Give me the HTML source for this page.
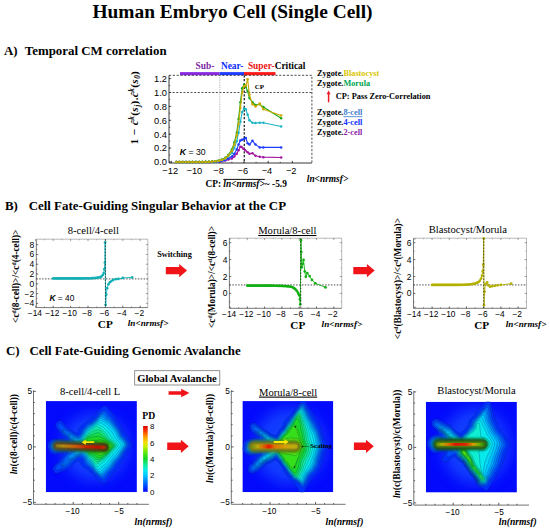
<!DOCTYPE html>
<html lang="en"><head><meta charset="utf-8"><title>Human Embryo Cell (Single Cell)</title>
<style>html,body{margin:0;padding:0;background:#fff}svg{display:block}.se{font-family:"Liberation Serif", serif}.sa{font-family:"Liberation Sans", sans-serif}</style></head><body>
<svg width="550" height="530" viewBox="0 0 550 530">
<rect width="550" height="530" fill="#fff"/>
<text class="se" x="232.50" y="17.80" font-size="19.4" font-weight="bold" font-style="normal" text-anchor="middle" fill="#000" >Human Embryo Cell (Single Cell)</text>
<text class="se" x="4.00" y="55.30" font-size="12.9" font-weight="bold" font-style="normal" text-anchor="start" fill="#000" >A)</text>
<text class="se" x="24.80" y="55.30" font-size="12.9" font-weight="bold" font-style="normal" text-anchor="start" fill="#000" >Temporal CM correlation</text>
<rect x="180" y="72.1" width="39.6" height="3.1" fill="#8a2be2"/>
<rect x="219.6" y="72.1" width="24.4" height="3.1" fill="#1f3cff"/>
<rect x="244" y="72.1" width="31.5" height="3.1" fill="#ff1a1a"/>
<text class="se" x="195.50" y="69.00" font-size="9.4" font-weight="bold" font-style="normal" text-anchor="start" fill="#7b1fa2" >Sub-</text>
<text class="se" x="220.90" y="69.00" font-size="9.4" font-weight="bold" font-style="normal" text-anchor="start" fill="#0a2cff" >Near-</text>
<text class="se" x="247.9" y="69.0" font-size="9.4" font-weight="bold"><tspan fill="#ee1111">Super-</tspan>Critical</text>
<path d="M169.0,75.3 V163.0 H311.9" fill="none" stroke="#222" stroke-width="0.9"/>
<path d="M169.0,75.3 H311.9 V163.0" fill="none" stroke="#222" stroke-width="0.8" stroke-dasharray="2.2 1.6"/>
<line x1="169.0" x2="311.9" y1="92.50" y2="92.50" stroke="#222" stroke-width="0.8" stroke-dasharray="2 1.6"/>
<line x1="219.80" x2="219.80" y1="75.3" y2="163.0" stroke="#777" stroke-width="0.6" stroke-dasharray="0.8 0.9"/>
<line x1="244.24" x2="244.24" y1="75.3" y2="163.0" stroke="#000" stroke-width="1.1" stroke-dasharray="2.2 1.6"/>
<path d="M171.40,163.0 v-2.2 M195.60,163.0 v-2.2 M219.80,163.0 v-2.2 M244.00,163.0 v-2.2 M268.20,163.0 v-2.2 M292.40,163.0 v-2.2 M171.40,163.0 v-1.2 M183.50,163.0 v-1.2 M195.60,163.0 v-1.2 M207.70,163.0 v-1.2 M219.80,163.0 v-1.2 M231.90,163.0 v-1.2 M244.00,163.0 v-1.2 M256.10,163.0 v-1.2 M268.20,163.0 v-1.2 M280.30,163.0 v-1.2 M292.40,163.0 v-1.2 M169.0,162.00 h2.2 M169.0,148.10 h2.2 M169.0,134.20 h2.2 M169.0,120.30 h2.2 M169.0,106.40 h2.2 M169.0,92.50 h2.2 M169.0,78.60 h2.2 M169.0,162.00 h1.2 M169.0,155.05 h1.2 M169.0,148.10 h1.2 M169.0,141.15 h1.2 M169.0,134.20 h1.2 M169.0,127.25 h1.2 M169.0,120.30 h1.2 M169.0,113.35 h1.2 M169.0,106.40 h1.2 M169.0,99.45 h1.2 M169.0,92.50 h1.2 M169.0,85.55 h1.2 M169.0,78.60 h1.2" stroke="#222" stroke-width="0.7" fill="none"/>
<text class="sa" x="170.20" y="173.60" font-size="9.3" font-weight="normal" font-style="normal" text-anchor="middle" fill="#000" >−12</text>
<text class="sa" x="194.40" y="173.60" font-size="9.3" font-weight="normal" font-style="normal" text-anchor="middle" fill="#000" >−10</text>
<text class="sa" x="218.60" y="173.60" font-size="9.3" font-weight="normal" font-style="normal" text-anchor="middle" fill="#000" >−8</text>
<text class="sa" x="242.80" y="173.60" font-size="9.3" font-weight="normal" font-style="normal" text-anchor="middle" fill="#000" >−6</text>
<text class="sa" x="267.00" y="173.60" font-size="9.3" font-weight="normal" font-style="normal" text-anchor="middle" fill="#000" >−4</text>
<text class="sa" x="291.20" y="173.60" font-size="9.3" font-weight="normal" font-style="normal" text-anchor="middle" fill="#000" >−2</text>
<text class="sa" x="167.00" y="165.30" font-size="9.3" font-weight="normal" font-style="normal" text-anchor="end" fill="#000" >0.0</text>
<text class="sa" x="167.00" y="151.40" font-size="9.3" font-weight="normal" font-style="normal" text-anchor="end" fill="#000" >0.2</text>
<text class="sa" x="167.00" y="137.50" font-size="9.3" font-weight="normal" font-style="normal" text-anchor="end" fill="#000" >0.4</text>
<text class="sa" x="167.00" y="123.60" font-size="9.3" font-weight="normal" font-style="normal" text-anchor="end" fill="#000" >0.6</text>
<text class="sa" x="167.00" y="109.70" font-size="9.3" font-weight="normal" font-style="normal" text-anchor="end" fill="#000" >0.8</text>
<text class="sa" x="167.00" y="95.80" font-size="9.3" font-weight="normal" font-style="normal" text-anchor="end" fill="#000" >1.0</text>
<text class="sa" x="167.00" y="81.90" font-size="9.3" font-weight="normal" font-style="normal" text-anchor="end" fill="#000" >1.2</text>
<polyline points="176.24,162.00 179.51,162.00 182.77,162.00 186.04,162.00 189.31,162.00 192.57,162.00 195.84,161.99 199.11,161.99 202.38,161.98 205.64,161.96 208.91,161.93 212.18,161.87 215.44,161.76 218.71,161.57 221.98,161.23 225.24,160.60 228.27,159.57 231.90,158.53 234.32,156.44 236.74,153.66 238.56,150.19 240.37,146.71 241.58,147.06 243.40,148.79 245.21,150.19 247.63,152.27 249.44,153.66 252.47,153.31 255.50,155.75 259.73,156.79 263.36,157.13 281.15,157.48" fill="none" stroke="#a0149f" stroke-width="1.1" stroke-linejoin="round"/>
<g fill="#a0149f"><circle cx="176.24" cy="162.00" r="1.25"/><circle cx="179.51" cy="162.00" r="1.25"/><circle cx="182.77" cy="162.00" r="1.25"/><circle cx="186.04" cy="162.00" r="1.25"/><circle cx="189.31" cy="162.00" r="1.25"/><circle cx="192.57" cy="162.00" r="1.25"/><circle cx="195.84" cy="161.99" r="1.25"/><circle cx="199.11" cy="161.99" r="1.25"/><circle cx="202.38" cy="161.98" r="1.25"/><circle cx="205.64" cy="161.96" r="1.25"/><circle cx="208.91" cy="161.93" r="1.25"/><circle cx="212.18" cy="161.87" r="1.25"/><circle cx="215.44" cy="161.76" r="1.25"/><circle cx="218.71" cy="161.57" r="1.25"/><circle cx="221.98" cy="161.23" r="1.25"/><circle cx="225.24" cy="160.60" r="1.25"/><circle cx="228.27" cy="159.57" r="1.25"/><circle cx="231.90" cy="158.53" r="1.25"/><circle cx="234.32" cy="156.44" r="1.25"/><circle cx="236.74" cy="153.66" r="1.25"/><circle cx="238.56" cy="150.19" r="1.25"/><circle cx="240.37" cy="146.71" r="1.25"/><circle cx="241.58" cy="147.06" r="1.25"/><circle cx="243.40" cy="148.79" r="1.25"/><circle cx="245.21" cy="150.19" r="1.25"/><circle cx="247.63" cy="152.27" r="1.25"/><circle cx="249.44" cy="153.66" r="1.25"/><circle cx="252.47" cy="153.31" r="1.25"/><circle cx="255.50" cy="155.75" r="1.25"/><circle cx="259.73" cy="156.79" r="1.25"/><circle cx="263.36" cy="157.13" r="1.25"/><circle cx="281.15" cy="157.48" r="1.25"/></g>
<polyline points="176.24,162.00 179.51,162.00 182.77,162.00 186.04,162.00 189.31,162.00 192.57,161.99 195.84,161.99 199.11,161.98 202.38,161.97 205.64,161.94 208.91,161.90 212.18,161.81 215.44,161.66 218.71,161.39 221.98,160.89 225.24,160.00 228.27,158.53 231.90,156.44 234.32,153.66 236.74,149.49 238.56,144.62 240.37,140.46 242.19,139.76 244.00,139.06 245.81,138.02 247.63,143.24 249.44,144.62 252.47,140.80 255.50,144.62 259.73,147.41 263.36,147.41 281.15,147.41" fill="none" stroke="#1f3cff" stroke-width="1.1" stroke-linejoin="round"/>
<g fill="#1f3cff"><circle cx="176.24" cy="162.00" r="1.25"/><circle cx="179.51" cy="162.00" r="1.25"/><circle cx="182.77" cy="162.00" r="1.25"/><circle cx="186.04" cy="162.00" r="1.25"/><circle cx="189.31" cy="162.00" r="1.25"/><circle cx="192.57" cy="161.99" r="1.25"/><circle cx="195.84" cy="161.99" r="1.25"/><circle cx="199.11" cy="161.98" r="1.25"/><circle cx="202.38" cy="161.97" r="1.25"/><circle cx="205.64" cy="161.94" r="1.25"/><circle cx="208.91" cy="161.90" r="1.25"/><circle cx="212.18" cy="161.81" r="1.25"/><circle cx="215.44" cy="161.66" r="1.25"/><circle cx="218.71" cy="161.39" r="1.25"/><circle cx="221.98" cy="160.89" r="1.25"/><circle cx="225.24" cy="160.00" r="1.25"/><circle cx="228.27" cy="158.53" r="1.25"/><circle cx="231.90" cy="156.44" r="1.25"/><circle cx="234.32" cy="153.66" r="1.25"/><circle cx="236.74" cy="149.49" r="1.25"/><circle cx="238.56" cy="144.62" r="1.25"/><circle cx="240.37" cy="140.46" r="1.25"/><circle cx="242.19" cy="139.76" r="1.25"/><circle cx="244.00" cy="139.06" r="1.25"/><circle cx="245.81" cy="138.02" r="1.25"/><circle cx="247.63" cy="143.24" r="1.25"/><circle cx="249.44" cy="144.62" r="1.25"/><circle cx="252.47" cy="140.80" r="1.25"/><circle cx="255.50" cy="144.62" r="1.25"/><circle cx="259.73" cy="147.41" r="1.25"/><circle cx="263.36" cy="147.41" r="1.25"/><circle cx="281.15" cy="147.41" r="1.25"/></g>
<polyline points="176.24,162.00 179.51,162.00 182.77,162.00 186.04,162.00 189.31,162.00 192.57,161.99 195.84,161.98 199.11,161.97 202.38,161.95 205.64,161.91 208.91,161.84 212.18,161.70 215.44,161.46 218.71,161.02 221.98,160.23 225.24,158.79 228.27,156.44 231.90,152.97 234.32,148.10 236.74,141.15 238.56,132.81 240.37,121.69 242.19,111.96 244.00,108.48 245.81,109.18 247.63,114.74 249.44,120.30 252.47,122.73 255.50,123.08 259.73,122.73 263.36,122.73 281.15,126.56" fill="none" stroke="#19b5c5" stroke-width="1.1" stroke-linejoin="round"/>
<g fill="#19b5c5"><circle cx="176.24" cy="162.00" r="1.25"/><circle cx="179.51" cy="162.00" r="1.25"/><circle cx="182.77" cy="162.00" r="1.25"/><circle cx="186.04" cy="162.00" r="1.25"/><circle cx="189.31" cy="162.00" r="1.25"/><circle cx="192.57" cy="161.99" r="1.25"/><circle cx="195.84" cy="161.98" r="1.25"/><circle cx="199.11" cy="161.97" r="1.25"/><circle cx="202.38" cy="161.95" r="1.25"/><circle cx="205.64" cy="161.91" r="1.25"/><circle cx="208.91" cy="161.84" r="1.25"/><circle cx="212.18" cy="161.70" r="1.25"/><circle cx="215.44" cy="161.46" r="1.25"/><circle cx="218.71" cy="161.02" r="1.25"/><circle cx="221.98" cy="160.23" r="1.25"/><circle cx="225.24" cy="158.79" r="1.25"/><circle cx="228.27" cy="156.44" r="1.25"/><circle cx="231.90" cy="152.97" r="1.25"/><circle cx="234.32" cy="148.10" r="1.25"/><circle cx="236.74" cy="141.15" r="1.25"/><circle cx="238.56" cy="132.81" r="1.25"/><circle cx="240.37" cy="121.69" r="1.25"/><circle cx="242.19" cy="111.96" r="1.25"/><circle cx="244.00" cy="108.48" r="1.25"/><circle cx="245.81" cy="109.18" r="1.25"/><circle cx="247.63" cy="114.74" r="1.25"/><circle cx="249.44" cy="120.30" r="1.25"/><circle cx="252.47" cy="122.73" r="1.25"/><circle cx="255.50" cy="123.08" r="1.25"/><circle cx="259.73" cy="122.73" r="1.25"/><circle cx="263.36" cy="122.73" r="1.25"/><circle cx="281.15" cy="126.56" r="1.25"/></g>
<polyline points="176.24,162.00 179.51,162.00 182.77,162.00 186.04,161.99 189.31,161.99 192.57,161.98 195.84,161.97 199.11,161.94 202.38,161.90 205.64,161.83 208.91,161.72 212.18,161.51 215.44,161.17 218.71,160.57 221.98,159.54 225.24,157.78 228.27,155.05 231.90,149.49 234.32,142.54 236.74,132.81 238.56,118.91 240.37,102.23 242.19,88.33 244.00,84.85 245.81,86.94 247.63,91.11 249.44,98.06 252.47,102.23 255.50,105.01 259.73,104.31 263.36,107.09 281.15,118.22" fill="none" stroke="#1aa81a" stroke-width="1.1" stroke-linejoin="round"/>
<g fill="#1aa81a"><circle cx="176.24" cy="162.00" r="1.25"/><circle cx="179.51" cy="162.00" r="1.25"/><circle cx="182.77" cy="162.00" r="1.25"/><circle cx="186.04" cy="161.99" r="1.25"/><circle cx="189.31" cy="161.99" r="1.25"/><circle cx="192.57" cy="161.98" r="1.25"/><circle cx="195.84" cy="161.97" r="1.25"/><circle cx="199.11" cy="161.94" r="1.25"/><circle cx="202.38" cy="161.90" r="1.25"/><circle cx="205.64" cy="161.83" r="1.25"/><circle cx="208.91" cy="161.72" r="1.25"/><circle cx="212.18" cy="161.51" r="1.25"/><circle cx="215.44" cy="161.17" r="1.25"/><circle cx="218.71" cy="160.57" r="1.25"/><circle cx="221.98" cy="159.54" r="1.25"/><circle cx="225.24" cy="157.78" r="1.25"/><circle cx="228.27" cy="155.05" r="1.25"/><circle cx="231.90" cy="149.49" r="1.25"/><circle cx="234.32" cy="142.54" r="1.25"/><circle cx="236.74" cy="132.81" r="1.25"/><circle cx="238.56" cy="118.91" r="1.25"/><circle cx="240.37" cy="102.23" r="1.25"/><circle cx="242.19" cy="88.33" r="1.25"/><circle cx="244.00" cy="84.85" r="1.25"/><circle cx="245.81" cy="86.94" r="1.25"/><circle cx="247.63" cy="91.11" r="1.25"/><circle cx="249.44" cy="98.06" r="1.25"/><circle cx="252.47" cy="102.23" r="1.25"/><circle cx="255.50" cy="105.01" r="1.25"/><circle cx="259.73" cy="104.31" r="1.25"/><circle cx="263.36" cy="107.09" r="1.25"/><circle cx="281.15" cy="118.22" r="1.25"/></g>
<polyline points="176.24,162.00 179.51,162.00 182.77,162.00 186.04,162.00 189.31,161.99 192.57,161.99 195.84,161.98 199.11,161.96 202.38,161.93 205.64,161.88 208.91,161.78 212.18,161.62 215.44,161.32 218.71,160.81 221.98,159.90 225.24,158.30 228.27,155.75 231.90,150.88 234.32,144.62 236.74,135.59 238.56,123.78 240.37,107.79 242.19,92.50 244.00,86.24 245.81,85.55 247.63,79.30 249.44,94.59 252.47,104.31 255.50,106.40 259.73,103.62 263.36,109.18 281.15,115.44" fill="none" stroke="#c9a800" stroke-width="1.1" stroke-linejoin="round"/>
<g fill="#c9a800"><circle cx="176.24" cy="162.00" r="1.25"/><circle cx="179.51" cy="162.00" r="1.25"/><circle cx="182.77" cy="162.00" r="1.25"/><circle cx="186.04" cy="162.00" r="1.25"/><circle cx="189.31" cy="161.99" r="1.25"/><circle cx="192.57" cy="161.99" r="1.25"/><circle cx="195.84" cy="161.98" r="1.25"/><circle cx="199.11" cy="161.96" r="1.25"/><circle cx="202.38" cy="161.93" r="1.25"/><circle cx="205.64" cy="161.88" r="1.25"/><circle cx="208.91" cy="161.78" r="1.25"/><circle cx="212.18" cy="161.62" r="1.25"/><circle cx="215.44" cy="161.32" r="1.25"/><circle cx="218.71" cy="160.81" r="1.25"/><circle cx="221.98" cy="159.90" r="1.25"/><circle cx="225.24" cy="158.30" r="1.25"/><circle cx="228.27" cy="155.75" r="1.25"/><circle cx="231.90" cy="150.88" r="1.25"/><circle cx="234.32" cy="144.62" r="1.25"/><circle cx="236.74" cy="135.59" r="1.25"/><circle cx="238.56" cy="123.78" r="1.25"/><circle cx="240.37" cy="107.79" r="1.25"/><circle cx="242.19" cy="92.50" r="1.25"/><circle cx="244.00" cy="86.24" r="1.25"/><circle cx="245.81" cy="85.55" r="1.25"/><circle cx="247.63" cy="79.30" r="1.25"/><circle cx="249.44" cy="94.59" r="1.25"/><circle cx="252.47" cy="104.31" r="1.25"/><circle cx="255.50" cy="106.40" r="1.25"/><circle cx="259.73" cy="103.62" r="1.25"/><circle cx="263.36" cy="109.18" r="1.25"/><circle cx="281.15" cy="115.44" r="1.25"/></g>
<text class="se" x="254.80" y="89.00" font-size="7.0" font-weight="bold" font-style="normal" text-anchor="start" fill="#000" >CP</text>
<text class="sa" x="179.8" y="155.2" font-size="8.7"><tspan font-weight="bold" font-style="italic">K</tspan> = 30</text>
<text class="se" transform="translate(138.2,107.6) rotate(-90)" font-size="11.4" font-weight="bold" font-style="italic" text-anchor="middle" letter-spacing="0.35"><tspan font-style="normal">1 − </tspan>ĉ<tspan font-size="7.2" dy="-4">k</tspan><tspan dy="4" font-style="normal">(</tspan>s<tspan font-size="7.2" dy="2.2">j</tspan><tspan dy="-2.2" font-style="normal">).</tspan>ĉ<tspan font-size="7.2" dy="-4">k</tspan><tspan dy="4" font-style="normal">(</tspan>s<tspan font-size="7.2" dy="2.2">0</tspan><tspan dy="-2.2" font-style="normal">)</tspan></text>
<text class="se" x="205.4" y="186.9" font-size="9.4" font-weight="bold">CP: <tspan font-style="italic" text-decoration="overline">ln&lt;nrmsf&gt;</tspan>~ -5.9</text>
<text class="se" x="306.80" y="181.60" font-size="9.4" font-weight="bold" font-style="italic" text-anchor="start" fill="#000" >ln&lt;nrmsf&gt;</text>
<text class="se" x="316.9" y="76.0" font-size="8.3" font-weight="bold">Zygote.<tspan fill="#d9c400">Blastocyst</tspan></text>
<text class="se" x="316.9" y="85.6" font-size="8.3" font-weight="bold">Zygote.<tspan fill="#00a651">Morula</tspan></text>
<text class="se" x="316.9" y="115.3" font-size="8.3" font-weight="bold">Zygote.<tspan fill="#3f7fd0" text-decoration="underline">8-cell</tspan></text>
<text class="se" x="316.9" y="125.2" font-size="8.3" font-weight="bold">Zygote.<tspan fill="#1030ff">4-cell</tspan></text>
<text class="se" x="316.9" y="135.0" font-size="8.3" font-weight="bold">Zygote.<tspan fill="#8e24aa">2-cell</tspan></text>
<path d="M328.6,102.3 V92.6" stroke="#ee1c25" stroke-width="1.5" fill="none"/><polygon points="326.6,94.2 328.6,90.6 330.6,94.2" fill="#ee1c25"/>
<text class="se" x="335.80" y="99.30" font-size="8.3" font-weight="bold" font-style="normal" text-anchor="start" fill="#000" >CP: Pass Zero-Correlation</text>
<text class="se" x="5.00" y="209.50" font-size="12.9" font-weight="bold" font-style="normal" text-anchor="start" fill="#000" >B)</text>
<text class="se" x="28.70" y="209.50" font-size="12.9" font-weight="bold" font-style="normal" text-anchor="start" fill="#000" >Cell Fate-Guiding Singular Behavior at the CP</text>
<path d="M36.3,239.2 H147.8 V307.6" fill="none" stroke="#8c8c8c" stroke-width="0.6"/>
<path d="M36.3,239.2 V307.6 H147.8" fill="none" stroke="#555" stroke-width="0.8"/>
<line x1="36.3" x2="147.8" y1="278.91" y2="278.91" stroke="#222" stroke-width="0.8" stroke-dasharray="1.5 1.4"/>
<path d="M35.80,307.6 v-2 M53.20,307.6 v-2 M70.60,307.6 v-2 M88.00,307.6 v-2 M105.40,307.6 v-2 M122.80,307.6 v-2 M140.20,307.6 v-2 M35.80,307.6 v-1.1 M44.50,307.6 v-1.1 M53.20,307.6 v-1.1 M61.90,307.6 v-1.1 M70.60,307.6 v-1.1 M79.30,307.6 v-1.1 M88.00,307.6 v-1.1 M96.70,307.6 v-1.1 M105.40,307.6 v-1.1 M114.10,307.6 v-1.1 M122.80,307.6 v-1.1 M131.50,307.6 v-1.1 M140.20,307.6 v-1.1 M36.3,303.36 h2 M36.3,293.58 h2 M36.3,283.80 h2 M36.3,274.02 h2 M36.3,264.24 h2 M36.3,254.46 h2 M36.3,244.68 h2 M36.3,303.36 h1.1 M36.3,298.47 h1.1 M36.3,293.58 h1.1 M36.3,288.69 h1.1 M36.3,283.80 h1.1 M36.3,278.91 h1.1 M36.3,274.02 h1.1 M36.3,269.13 h1.1 M36.3,264.24 h1.1 M36.3,259.35 h1.1 M36.3,254.46 h1.1 M36.3,249.57 h1.1 M36.3,244.68 h1.1" stroke="#444" stroke-width="0.6" fill="none"/>
<path d="M35.80,239.2 v2 M53.20,239.2 v2 M70.60,239.2 v2 M88.00,239.2 v2 M105.40,239.2 v2 M122.80,239.2 v2 M140.20,239.2 v2 M35.80,239.2 v1.1 M44.50,239.2 v1.1 M53.20,239.2 v1.1 M61.90,239.2 v1.1 M70.60,239.2 v1.1 M79.30,239.2 v1.1 M88.00,239.2 v1.1 M96.70,239.2 v1.1 M105.40,239.2 v1.1 M114.10,239.2 v1.1 M122.80,239.2 v1.1 M131.50,239.2 v1.1 M140.20,239.2 v1.1 M147.8,303.36 h-2 M147.8,293.58 h-2 M147.8,283.80 h-2 M147.8,274.02 h-2 M147.8,264.24 h-2 M147.8,254.46 h-2 M147.8,244.68 h-2 M147.8,303.36 h-1.1 M147.8,298.47 h-1.1 M147.8,293.58 h-1.1 M147.8,288.69 h-1.1 M147.8,283.80 h-1.1 M147.8,278.91 h-1.1 M147.8,274.02 h-1.1 M147.8,269.13 h-1.1 M147.8,264.24 h-1.1 M147.8,259.35 h-1.1 M147.8,254.46 h-1.1 M147.8,249.57 h-1.1 M147.8,244.68 h-1.1" stroke="#777" stroke-width="0.55" fill="none"/>
<text class="sa" x="34.90" y="316.20" font-size="8.4" font-weight="normal" font-style="normal" text-anchor="middle" fill="#000" >−14</text>
<text class="sa" x="52.30" y="316.20" font-size="8.4" font-weight="normal" font-style="normal" text-anchor="middle" fill="#000" >−12</text>
<text class="sa" x="69.70" y="316.20" font-size="8.4" font-weight="normal" font-style="normal" text-anchor="middle" fill="#000" >−10</text>
<text class="sa" x="87.10" y="316.20" font-size="8.4" font-weight="normal" font-style="normal" text-anchor="middle" fill="#000" >−8</text>
<text class="sa" x="104.50" y="316.20" font-size="8.4" font-weight="normal" font-style="normal" text-anchor="middle" fill="#000" >−6</text>
<text class="sa" x="121.90" y="316.20" font-size="8.4" font-weight="normal" font-style="normal" text-anchor="middle" fill="#000" >−4</text>
<text class="sa" x="139.30" y="316.20" font-size="8.4" font-weight="normal" font-style="normal" text-anchor="middle" fill="#000" >−2</text>
<text class="sa" x="34.30" y="306.36" font-size="8.5" font-weight="normal" font-style="normal" text-anchor="end" fill="#000" >−4</text>
<text class="sa" x="34.30" y="296.58" font-size="8.5" font-weight="normal" font-style="normal" text-anchor="end" fill="#000" >−2</text>
<text class="sa" x="34.30" y="286.80" font-size="8.5" font-weight="normal" font-style="normal" text-anchor="end" fill="#000" >0</text>
<text class="sa" x="34.30" y="277.02" font-size="8.5" font-weight="normal" font-style="normal" text-anchor="end" fill="#000" >2</text>
<text class="sa" x="34.30" y="267.24" font-size="8.5" font-weight="normal" font-style="normal" text-anchor="end" fill="#000" >4</text>
<text class="sa" x="34.30" y="257.46" font-size="8.5" font-weight="normal" font-style="normal" text-anchor="end" fill="#000" >6</text>
<text class="sa" x="34.30" y="247.68" font-size="8.5" font-weight="normal" font-style="normal" text-anchor="end" fill="#000" >8</text>
<text class="se" x="93.30" y="233.70" font-size="10.6" font-weight="normal" font-style="normal" text-anchor="middle" fill="#000" >8-cell/4-cell</text>
<polyline points="53.20,278.42 54.51,278.42 55.81,278.42 57.12,278.42 58.42,278.42 59.73,278.42 61.03,278.42 62.34,278.42 63.64,278.42 64.95,278.42 66.25,278.42 67.56,278.42 68.86,278.42 70.17,278.42 71.47,278.42 72.78,278.42 74.08,278.42 75.39,278.41 76.69,278.41 78.00,278.41 79.30,278.40 80.61,278.40 81.91,278.39 83.22,278.38 84.52,278.37 85.83,278.36 87.13,278.34 88.44,278.31 89.74,278.28 91.05,278.24 92.35,278.18 93.66,278.10 94.96,278.01 96.27,277.88 97.57,277.71 98.88,277.49 100.18,277.20 101.48,276.47 102.79,275.00 103.66,273.04 104.36,269.13 104.88,262.77 105.14,242.24 105.66,304.83 106.27,294.56 107.14,288.20 108.45,284.29 109.75,282.33 111.49,281.11 113.23,279.89 115.84,279.15 118.45,278.91 122.80,277.93 132.11,277.44" fill="none" stroke="#12b0b4" stroke-width="0.9" stroke-linejoin="round"/>
<g fill="#12b0b4"><circle cx="53.20" cy="278.42" r="1.35"/><circle cx="54.51" cy="278.42" r="1.35"/><circle cx="55.81" cy="278.42" r="1.35"/><circle cx="57.12" cy="278.42" r="1.35"/><circle cx="58.42" cy="278.42" r="1.35"/><circle cx="59.73" cy="278.42" r="1.35"/><circle cx="61.03" cy="278.42" r="1.35"/><circle cx="62.34" cy="278.42" r="1.35"/><circle cx="63.64" cy="278.42" r="1.35"/><circle cx="64.95" cy="278.42" r="1.35"/><circle cx="66.25" cy="278.42" r="1.35"/><circle cx="67.56" cy="278.42" r="1.35"/><circle cx="68.86" cy="278.42" r="1.35"/><circle cx="70.17" cy="278.42" r="1.35"/><circle cx="71.47" cy="278.42" r="1.35"/><circle cx="72.78" cy="278.42" r="1.35"/><circle cx="74.08" cy="278.42" r="1.35"/><circle cx="75.39" cy="278.41" r="1.35"/><circle cx="76.69" cy="278.41" r="1.35"/><circle cx="78.00" cy="278.41" r="1.35"/><circle cx="79.30" cy="278.40" r="1.35"/><circle cx="80.61" cy="278.40" r="1.35"/><circle cx="81.91" cy="278.39" r="1.35"/><circle cx="83.22" cy="278.38" r="1.35"/><circle cx="84.52" cy="278.37" r="1.35"/><circle cx="85.83" cy="278.36" r="1.35"/><circle cx="87.13" cy="278.34" r="1.35"/><circle cx="88.44" cy="278.31" r="1.35"/><circle cx="89.74" cy="278.28" r="1.35"/><circle cx="91.05" cy="278.24" r="1.35"/><circle cx="92.35" cy="278.18" r="1.35"/><circle cx="93.66" cy="278.10" r="1.35"/><circle cx="94.96" cy="278.01" r="1.35"/><circle cx="96.27" cy="277.88" r="1.35"/><circle cx="97.57" cy="277.71" r="1.35"/><circle cx="98.88" cy="277.49" r="1.35"/><circle cx="100.18" cy="277.20" r="1.35"/><circle cx="101.48" cy="276.47" r="1.35"/><circle cx="102.79" cy="275.00" r="1.35"/><circle cx="103.66" cy="273.04" r="1.35"/><circle cx="104.36" cy="269.13" r="1.35"/><circle cx="104.88" cy="262.77" r="1.35"/><circle cx="105.14" cy="242.24" r="1.35"/><circle cx="105.66" cy="304.83" r="1.35"/><circle cx="106.27" cy="294.56" r="1.35"/><circle cx="107.14" cy="288.20" r="1.35"/><circle cx="108.45" cy="284.29" r="1.35"/><circle cx="109.75" cy="282.33" r="1.35"/><circle cx="111.49" cy="281.11" r="1.35"/><circle cx="113.23" cy="279.89" r="1.35"/><circle cx="115.84" cy="279.15" r="1.35"/><circle cx="118.45" cy="278.91" r="1.35"/><circle cx="122.80" cy="277.93" r="1.35"/><circle cx="132.11" cy="277.44" r="1.35"/></g>
<line x1="105.40" x2="105.40" y1="239.2" y2="307.6" stroke="#1a1a1a" stroke-width="0.7" stroke-dasharray="1.6 1.5"/>
<text class="se" x="105.30" y="328.00" font-size="11.2" font-weight="bold" font-style="normal" text-anchor="middle" fill="#000" >CP</text>
<text class="se" x="127.80" y="325.60" font-size="9.2" font-weight="bold" font-style="italic" text-anchor="start" fill="#000" >ln&lt;nrmsf&gt;</text>
<text class="se" transform="translate(18.80,276.30) rotate(-90)" font-size="9.3" font-weight="bold" text-anchor="middle">&lt;c<tspan font-size="5.8" dy="-3.1">d</tspan><tspan dy="3.1">(8-cell)&gt;/&lt;c</tspan><tspan font-size="5.8" dy="-3.1">d</tspan><tspan dy="3.1">(4-cell)&gt;</tspan></text>
<text class="sa" x="49.4" y="301.4" font-size="8.4"><tspan font-weight="bold" font-style="italic">K</tspan> = 40</text>
<path d="M229.4,238.2 H341.7 V308.3" fill="none" stroke="#8c8c8c" stroke-width="0.6"/>
<path d="M229.4,238.2 V308.3 H341.7" fill="none" stroke="#555" stroke-width="0.8"/>
<line x1="229.4" x2="341.7" y1="284.95" y2="284.95" stroke="#222" stroke-width="0.8" stroke-dasharray="1.5 1.4"/>
<path d="M230.00,308.3 v-2 M247.30,308.3 v-2 M264.60,308.3 v-2 M281.90,308.3 v-2 M299.20,308.3 v-2 M316.50,308.3 v-2 M333.80,308.3 v-2 M230.00,308.3 v-1.1 M238.65,308.3 v-1.1 M247.30,308.3 v-1.1 M255.95,308.3 v-1.1 M264.60,308.3 v-1.1 M273.25,308.3 v-1.1 M281.90,308.3 v-1.1 M290.55,308.3 v-1.1 M299.20,308.3 v-1.1 M307.85,308.3 v-1.1 M316.50,308.3 v-1.1 M325.15,308.3 v-1.1 M333.80,308.3 v-1.1 M229.4,293.40 h2 M229.4,276.50 h2 M229.4,259.60 h2 M229.4,242.70 h2 M229.4,301.85 h1.1 M229.4,293.40 h1.1 M229.4,284.95 h1.1 M229.4,276.50 h1.1 M229.4,268.05 h1.1 M229.4,259.60 h1.1 M229.4,251.15 h1.1 M229.4,242.70 h1.1" stroke="#444" stroke-width="0.6" fill="none"/>
<path d="M230.00,238.2 v2 M247.30,238.2 v2 M264.60,238.2 v2 M281.90,238.2 v2 M299.20,238.2 v2 M316.50,238.2 v2 M333.80,238.2 v2 M230.00,238.2 v1.1 M238.65,238.2 v1.1 M247.30,238.2 v1.1 M255.95,238.2 v1.1 M264.60,238.2 v1.1 M273.25,238.2 v1.1 M281.90,238.2 v1.1 M290.55,238.2 v1.1 M299.20,238.2 v1.1 M307.85,238.2 v1.1 M316.50,238.2 v1.1 M325.15,238.2 v1.1 M333.80,238.2 v1.1 M341.7,293.40 h-2 M341.7,276.50 h-2 M341.7,259.60 h-2 M341.7,242.70 h-2 M341.7,301.85 h-1.1 M341.7,293.40 h-1.1 M341.7,284.95 h-1.1 M341.7,276.50 h-1.1 M341.7,268.05 h-1.1 M341.7,259.60 h-1.1 M341.7,251.15 h-1.1 M341.7,242.70 h-1.1" stroke="#777" stroke-width="0.55" fill="none"/>
<text class="sa" x="229.10" y="316.90" font-size="8.4" font-weight="normal" font-style="normal" text-anchor="middle" fill="#000" >−14</text>
<text class="sa" x="246.40" y="316.90" font-size="8.4" font-weight="normal" font-style="normal" text-anchor="middle" fill="#000" >−12</text>
<text class="sa" x="263.70" y="316.90" font-size="8.4" font-weight="normal" font-style="normal" text-anchor="middle" fill="#000" >−10</text>
<text class="sa" x="281.00" y="316.90" font-size="8.4" font-weight="normal" font-style="normal" text-anchor="middle" fill="#000" >−8</text>
<text class="sa" x="298.30" y="316.90" font-size="8.4" font-weight="normal" font-style="normal" text-anchor="middle" fill="#000" >−6</text>
<text class="sa" x="315.60" y="316.90" font-size="8.4" font-weight="normal" font-style="normal" text-anchor="middle" fill="#000" >−4</text>
<text class="sa" x="332.90" y="316.90" font-size="8.4" font-weight="normal" font-style="normal" text-anchor="middle" fill="#000" >−2</text>
<text class="sa" x="227.40" y="296.40" font-size="8.5" font-weight="normal" font-style="normal" text-anchor="end" fill="#000" >0</text>
<text class="sa" x="227.40" y="279.50" font-size="8.5" font-weight="normal" font-style="normal" text-anchor="end" fill="#000" >2</text>
<text class="sa" x="227.40" y="262.60" font-size="8.5" font-weight="normal" font-style="normal" text-anchor="end" fill="#000" >4</text>
<text class="sa" x="227.40" y="245.70" font-size="8.5" font-weight="normal" font-style="normal" text-anchor="end" fill="#000" >6</text>
<text class="se" x="287.30" y="234.00" font-size="10.6" font-weight="normal" font-style="normal" text-anchor="middle" fill="#000"  text-decoration="underline">Morula/8-cell</text>
<polyline points="247.30,285.63 248.60,285.63 249.89,285.63 251.19,285.63 252.49,285.63 253.79,285.63 255.09,285.63 256.38,285.64 257.68,285.64 258.98,285.64 260.28,285.64 261.57,285.64 262.87,285.65 264.17,285.65 265.47,285.66 266.76,285.66 268.06,285.67 269.36,285.68 270.66,285.69 271.95,285.71 273.25,285.72 274.55,285.74 275.85,285.76 277.14,285.79 278.44,285.82 279.74,285.86 281.04,285.91 282.33,285.96 283.63,286.03 284.93,286.11 286.23,286.20 287.52,286.32 288.82,286.45 290.12,286.61 291.42,286.81 292.71,287.32 294.01,288.16 295.31,289.17 296.61,290.70 297.90,292.55 298.77,294.25 299.37,295.43 299.89,299.31 300.24,304.38 300.93,240.16 301.28,251.99 301.71,267.46 302.66,263.82 303.52,259.94 304.74,271.43 305.77,276.84 307.33,273.12 309.58,276.08 312.00,279.88 315.29,283.26 325.50,287.40" fill="none" stroke="#10b010" stroke-width="0.9" stroke-linejoin="round"/>
<g fill="#10b010"><circle cx="247.30" cy="285.63" r="1.35"/><circle cx="248.60" cy="285.63" r="1.35"/><circle cx="249.89" cy="285.63" r="1.35"/><circle cx="251.19" cy="285.63" r="1.35"/><circle cx="252.49" cy="285.63" r="1.35"/><circle cx="253.79" cy="285.63" r="1.35"/><circle cx="255.09" cy="285.63" r="1.35"/><circle cx="256.38" cy="285.64" r="1.35"/><circle cx="257.68" cy="285.64" r="1.35"/><circle cx="258.98" cy="285.64" r="1.35"/><circle cx="260.28" cy="285.64" r="1.35"/><circle cx="261.57" cy="285.64" r="1.35"/><circle cx="262.87" cy="285.65" r="1.35"/><circle cx="264.17" cy="285.65" r="1.35"/><circle cx="265.47" cy="285.66" r="1.35"/><circle cx="266.76" cy="285.66" r="1.35"/><circle cx="268.06" cy="285.67" r="1.35"/><circle cx="269.36" cy="285.68" r="1.35"/><circle cx="270.66" cy="285.69" r="1.35"/><circle cx="271.95" cy="285.71" r="1.35"/><circle cx="273.25" cy="285.72" r="1.35"/><circle cx="274.55" cy="285.74" r="1.35"/><circle cx="275.85" cy="285.76" r="1.35"/><circle cx="277.14" cy="285.79" r="1.35"/><circle cx="278.44" cy="285.82" r="1.35"/><circle cx="279.74" cy="285.86" r="1.35"/><circle cx="281.04" cy="285.91" r="1.35"/><circle cx="282.33" cy="285.96" r="1.35"/><circle cx="283.63" cy="286.03" r="1.35"/><circle cx="284.93" cy="286.11" r="1.35"/><circle cx="286.23" cy="286.20" r="1.35"/><circle cx="287.52" cy="286.32" r="1.35"/><circle cx="288.82" cy="286.45" r="1.35"/><circle cx="290.12" cy="286.61" r="1.35"/><circle cx="291.42" cy="286.81" r="1.35"/><circle cx="292.71" cy="287.32" r="1.35"/><circle cx="294.01" cy="288.16" r="1.35"/><circle cx="295.31" cy="289.17" r="1.35"/><circle cx="296.61" cy="290.70" r="1.35"/><circle cx="297.90" cy="292.55" r="1.35"/><circle cx="298.77" cy="294.25" r="1.35"/><circle cx="299.37" cy="295.43" r="1.35"/><circle cx="299.89" cy="299.31" r="1.35"/><circle cx="300.24" cy="304.38" r="1.35"/><circle cx="300.93" cy="240.16" r="1.35"/><circle cx="301.28" cy="251.99" r="1.35"/><circle cx="301.71" cy="267.46" r="1.35"/><circle cx="302.66" cy="263.82" r="1.35"/><circle cx="303.52" cy="259.94" r="1.35"/><circle cx="304.74" cy="271.43" r="1.35"/><circle cx="305.77" cy="276.84" r="1.35"/><circle cx="307.33" cy="273.12" r="1.35"/><circle cx="309.58" cy="276.08" r="1.35"/><circle cx="312.00" cy="279.88" r="1.35"/><circle cx="315.29" cy="283.26" r="1.35"/><circle cx="325.50" cy="287.40" r="1.35"/></g>
<line x1="300.76" x2="300.76" y1="238.2" y2="308.3" stroke="#1a1a1a" stroke-width="0.7" stroke-dasharray="1.6 1.5"/>
<text class="se" x="297.80" y="329.00" font-size="11.2" font-weight="bold" font-style="normal" text-anchor="middle" fill="#000" >CP</text>
<text class="se" x="321.60" y="327.30" font-size="9.2" font-weight="bold" font-style="italic" text-anchor="start" fill="#000" >ln&lt;nrmsf&gt;</text>
<text class="se" transform="translate(214.60,277.00) rotate(-90)" font-size="9.3" font-weight="bold" text-anchor="middle">&lt;c<tspan font-size="5.8" dy="-3.1">d</tspan><tspan dy="3.1">(Morula)&gt;/&lt;c</tspan><tspan font-size="5.8" dy="-3.1">d</tspan><tspan dy="3.1">(8-cell)&gt;</tspan></text>
<path d="M413.5,238.2 H526.5 V308.3" fill="none" stroke="#8c8c8c" stroke-width="0.6"/>
<path d="M413.5,238.2 V308.3 H526.5" fill="none" stroke="#555" stroke-width="0.8"/>
<line x1="413.5" x2="526.5" y1="284.95" y2="284.95" stroke="#222" stroke-width="0.8" stroke-dasharray="1.5 1.4"/>
<path d="M414.90,308.3 v-2 M432.10,308.3 v-2 M449.30,308.3 v-2 M466.50,308.3 v-2 M483.70,308.3 v-2 M500.90,308.3 v-2 M518.10,308.3 v-2 M414.90,308.3 v-1.1 M423.50,308.3 v-1.1 M432.10,308.3 v-1.1 M440.70,308.3 v-1.1 M449.30,308.3 v-1.1 M457.90,308.3 v-1.1 M466.50,308.3 v-1.1 M475.10,308.3 v-1.1 M483.70,308.3 v-1.1 M492.30,308.3 v-1.1 M500.90,308.3 v-1.1 M509.50,308.3 v-1.1 M518.10,308.3 v-1.1 M413.5,293.40 h2 M413.5,276.50 h2 M413.5,259.60 h2 M413.5,242.70 h2 M413.5,301.85 h1.1 M413.5,293.40 h1.1 M413.5,284.95 h1.1 M413.5,276.50 h1.1 M413.5,268.05 h1.1 M413.5,259.60 h1.1 M413.5,251.15 h1.1 M413.5,242.70 h1.1" stroke="#444" stroke-width="0.6" fill="none"/>
<path d="M414.90,238.2 v2 M432.10,238.2 v2 M449.30,238.2 v2 M466.50,238.2 v2 M483.70,238.2 v2 M500.90,238.2 v2 M518.10,238.2 v2 M414.90,238.2 v1.1 M423.50,238.2 v1.1 M432.10,238.2 v1.1 M440.70,238.2 v1.1 M449.30,238.2 v1.1 M457.90,238.2 v1.1 M466.50,238.2 v1.1 M475.10,238.2 v1.1 M483.70,238.2 v1.1 M492.30,238.2 v1.1 M500.90,238.2 v1.1 M509.50,238.2 v1.1 M518.10,238.2 v1.1 M526.5,293.40 h-2 M526.5,276.50 h-2 M526.5,259.60 h-2 M526.5,242.70 h-2 M526.5,301.85 h-1.1 M526.5,293.40 h-1.1 M526.5,284.95 h-1.1 M526.5,276.50 h-1.1 M526.5,268.05 h-1.1 M526.5,259.60 h-1.1 M526.5,251.15 h-1.1 M526.5,242.70 h-1.1" stroke="#777" stroke-width="0.55" fill="none"/>
<text class="sa" x="414.00" y="316.90" font-size="8.4" font-weight="normal" font-style="normal" text-anchor="middle" fill="#000" >−14</text>
<text class="sa" x="431.20" y="316.90" font-size="8.4" font-weight="normal" font-style="normal" text-anchor="middle" fill="#000" >−12</text>
<text class="sa" x="448.40" y="316.90" font-size="8.4" font-weight="normal" font-style="normal" text-anchor="middle" fill="#000" >−10</text>
<text class="sa" x="465.60" y="316.90" font-size="8.4" font-weight="normal" font-style="normal" text-anchor="middle" fill="#000" >−8</text>
<text class="sa" x="482.80" y="316.90" font-size="8.4" font-weight="normal" font-style="normal" text-anchor="middle" fill="#000" >−6</text>
<text class="sa" x="500.00" y="316.90" font-size="8.4" font-weight="normal" font-style="normal" text-anchor="middle" fill="#000" >−4</text>
<text class="sa" x="517.20" y="316.90" font-size="8.4" font-weight="normal" font-style="normal" text-anchor="middle" fill="#000" >−2</text>
<text class="sa" x="411.50" y="296.40" font-size="8.5" font-weight="normal" font-style="normal" text-anchor="end" fill="#000" >0</text>
<text class="sa" x="411.50" y="279.50" font-size="8.5" font-weight="normal" font-style="normal" text-anchor="end" fill="#000" >2</text>
<text class="sa" x="411.50" y="262.60" font-size="8.5" font-weight="normal" font-style="normal" text-anchor="end" fill="#000" >4</text>
<text class="sa" x="411.50" y="245.70" font-size="8.5" font-weight="normal" font-style="normal" text-anchor="end" fill="#000" >6</text>
<text class="se" x="467.90" y="233.00" font-size="10.6" font-weight="normal" font-style="normal" text-anchor="middle" fill="#000" >Blastocyst/Morula</text>
<polyline points="432.10,284.95 433.39,284.95 434.68,284.95 435.97,284.95 437.26,284.95 438.55,284.95 439.84,284.95 441.13,284.95 442.42,284.95 443.71,284.94 445.00,284.94 446.29,284.94 447.58,284.94 448.87,284.94 450.16,284.93 451.45,284.93 452.74,284.92 454.03,284.91 455.32,284.90 456.61,284.89 457.90,284.88 459.19,284.86 460.48,284.84 461.77,284.81 463.06,284.77 464.35,284.73 465.64,284.67 466.93,284.60 468.22,284.51 469.51,284.40 470.80,284.26 472.09,284.09 473.38,283.87 474.67,283.60 475.96,283.26 477.25,282.67 478.54,281.99 479.83,280.72 481.12,278.61 481.98,275.65 482.67,271.43 483.27,264.67 483.70,238.47 484.04,305.23 484.56,291.71 485.42,284.10 487.14,282.41 488.43,285.37 490.15,286.64 492.30,286.22 494.88,285.79 497.46,285.37 500.90,284.95 511.22,283.68" fill="none" stroke="#b4b000" stroke-width="0.9" stroke-linejoin="round"/>
<g fill="#b4b000"><circle cx="432.10" cy="284.95" r="1.35"/><circle cx="433.39" cy="284.95" r="1.35"/><circle cx="434.68" cy="284.95" r="1.35"/><circle cx="435.97" cy="284.95" r="1.35"/><circle cx="437.26" cy="284.95" r="1.35"/><circle cx="438.55" cy="284.95" r="1.35"/><circle cx="439.84" cy="284.95" r="1.35"/><circle cx="441.13" cy="284.95" r="1.35"/><circle cx="442.42" cy="284.95" r="1.35"/><circle cx="443.71" cy="284.94" r="1.35"/><circle cx="445.00" cy="284.94" r="1.35"/><circle cx="446.29" cy="284.94" r="1.35"/><circle cx="447.58" cy="284.94" r="1.35"/><circle cx="448.87" cy="284.94" r="1.35"/><circle cx="450.16" cy="284.93" r="1.35"/><circle cx="451.45" cy="284.93" r="1.35"/><circle cx="452.74" cy="284.92" r="1.35"/><circle cx="454.03" cy="284.91" r="1.35"/><circle cx="455.32" cy="284.90" r="1.35"/><circle cx="456.61" cy="284.89" r="1.35"/><circle cx="457.90" cy="284.88" r="1.35"/><circle cx="459.19" cy="284.86" r="1.35"/><circle cx="460.48" cy="284.84" r="1.35"/><circle cx="461.77" cy="284.81" r="1.35"/><circle cx="463.06" cy="284.77" r="1.35"/><circle cx="464.35" cy="284.73" r="1.35"/><circle cx="465.64" cy="284.67" r="1.35"/><circle cx="466.93" cy="284.60" r="1.35"/><circle cx="468.22" cy="284.51" r="1.35"/><circle cx="469.51" cy="284.40" r="1.35"/><circle cx="470.80" cy="284.26" r="1.35"/><circle cx="472.09" cy="284.09" r="1.35"/><circle cx="473.38" cy="283.87" r="1.35"/><circle cx="474.67" cy="283.60" r="1.35"/><circle cx="475.96" cy="283.26" r="1.35"/><circle cx="477.25" cy="282.67" r="1.35"/><circle cx="478.54" cy="281.99" r="1.35"/><circle cx="479.83" cy="280.72" r="1.35"/><circle cx="481.12" cy="278.61" r="1.35"/><circle cx="481.98" cy="275.65" r="1.35"/><circle cx="482.67" cy="271.43" r="1.35"/><circle cx="483.27" cy="264.67" r="1.35"/><circle cx="483.70" cy="238.47" r="1.35"/><circle cx="484.04" cy="305.23" r="1.35"/><circle cx="484.56" cy="291.71" r="1.35"/><circle cx="485.42" cy="284.10" r="1.35"/><circle cx="487.14" cy="282.41" r="1.35"/><circle cx="488.43" cy="285.37" r="1.35"/><circle cx="490.15" cy="286.64" r="1.35"/><circle cx="492.30" cy="286.22" r="1.35"/><circle cx="494.88" cy="285.79" r="1.35"/><circle cx="497.46" cy="285.37" r="1.35"/><circle cx="500.90" cy="284.95" r="1.35"/><circle cx="511.22" cy="283.68" r="1.35"/></g>
<line x1="483.70" x2="483.70" y1="238.2" y2="308.3" stroke="#1a1a1a" stroke-width="0.7" stroke-dasharray="1.6 1.5"/>
<text class="se" x="481.60" y="329.00" font-size="11.2" font-weight="bold" font-style="normal" text-anchor="middle" fill="#000" >CP</text>
<text class="se" x="505.80" y="327.30" font-size="9.2" font-weight="bold" font-style="italic" text-anchor="start" fill="#000" >ln&lt;nrmsf&gt;</text>
<text class="se" transform="translate(401.10,278.60) rotate(-90)" font-size="9.3" font-weight="bold" text-anchor="middle">&lt;c<tspan font-size="5.8" dy="-3.1">d</tspan><tspan dy="3.1">(Blastocyst)&gt;/&lt;c</tspan><tspan font-size="5.8" dy="-3.1">d</tspan><tspan dy="3.1">(Morula)&gt;</tspan></text>
<text class="se" x="157.20" y="256.50" font-size="8.2" font-weight="bold" font-style="normal" text-anchor="start" fill="#000" >Switching</text>
<polygon fill="#f01418" points="165.80,266.95 179.20,266.95 179.20,263.90 187.00,270.60 179.20,277.30 179.20,274.25 165.80,274.25"/>
<polygon fill="#f01418" points="353.30,266.95 366.90,266.95 366.90,263.90 374.70,270.60 366.90,277.30 366.90,274.25 353.30,274.25"/>
<defs><filter id="hblur" x="-5%" y="-5%" width="110%" height="110%"><feGaussianBlur stdDeviation="0.55"/></filter><filter id="bblur" x="-20%" y="-60%" width="140%" height="220%"><feGaussianBlur stdDeviation="0.9"/></filter><filter id="gblur" x="-40%" y="-40%" width="180%" height="180%"><feGaussianBlur stdDeviation="7"/></filter><filter id="cblur" x="-10%" y="-60%" width="120%" height="220%"><feGaussianBlur stdDeviation="0.65"/></filter></defs>
<text class="se" x="6.00" y="355.40" font-size="12.9" font-weight="bold" font-style="normal" text-anchor="start" fill="#000" >C)</text>
<text class="se" x="29.40" y="355.40" font-size="12.9" font-weight="bold" font-style="normal" text-anchor="start" fill="#000" >Cell Fate-Guiding Genomic Avalanche</text>
<rect x="134.7" y="370.7" width="85.1" height="14.3" fill="#fff" stroke="#777" stroke-width="0.8"/>
<text class="se" x="137.20" y="381.70" font-size="10.6" font-weight="bold" font-style="normal" text-anchor="start" fill="#000" >Global Avalanche</text>
<polygon fill="#f01418" points="168.60,391.30 181.20,391.30 181.20,388.70 189.40,393.00 181.20,397.30 181.20,394.70 168.60,394.70"/>
<polygon fill="#f01418" points="167.20,442.60 180.90,442.60 180.90,439.70 188.70,446.30 180.90,452.90 180.90,450.00 167.20,450.00"/>
<polygon fill="#f01418" points="353.90,442.60 366.00,442.60 366.00,439.70 373.80,446.30 366.00,452.90 366.00,450.00 353.90,450.00"/>
<path d="M33.5,390.2 V504.3 H148.9" fill="none" stroke="#444" stroke-width="0.75"/>
<path d="M45.90,504.3 v-1.3 M55.00,504.3 v-1.3 M64.10,504.3 v-1.3 M73.20,504.3 v-2.4 M82.30,504.3 v-1.3 M91.40,504.3 v-1.3 M100.50,504.3 v-1.3 M109.60,504.3 v-1.3 M118.70,504.3 v-2.4 M127.80,504.3 v-1.3 M136.90,504.3 v-1.3 M33.5,502.40 h2.4 M33.5,491.30 h1.3 M33.5,480.20 h1.3 M33.5,469.10 h1.3 M33.5,458.00 h1.3 M33.5,446.90 h2.4 M33.5,435.80 h1.3 M33.5,424.70 h1.3 M33.5,413.60 h1.3 M33.5,402.50 h1.3 M33.5,391.40 h2.4" stroke="#222" stroke-width="0.7" fill="none"/>
<text class="sa" x="72.60" y="513.70" font-size="8.3" font-weight="normal" font-style="normal" text-anchor="middle" fill="#000" >−10</text>
<text class="sa" x="119.10" y="513.70" font-size="8.3" font-weight="normal" font-style="normal" text-anchor="middle" fill="#000" >−5</text>
<text class="sa" x="32.10" y="394.40" font-size="8.3" font-weight="normal" font-style="normal" text-anchor="end" fill="#000" >5</text>
<text class="sa" x="32.10" y="449.90" font-size="8.3" font-weight="normal" font-style="normal" text-anchor="end" fill="#000" >0</text>
<text class="sa" x="32.10" y="505.40" font-size="8.3" font-weight="normal" font-style="normal" text-anchor="end" fill="#000" >−5</text>
<clipPath id="hc1"><rect x="45.75" y="401.1" width="91.15" height="91.20"/></clipPath>
<g clip-path="url(#hc1)">
<rect x="45.75" y="401.1" width="91.15" height="91.20" fill="#040afc"/>
<ellipse cx="95" cy="447" rx="34" ry="34" fill="#1650ff" opacity="0.75" filter="url(#gblur)"/>
<g fill-rule="evenodd" stroke="#052a52" stroke-opacity="0.62" stroke-width="0.42" stroke-linejoin="round"><path fill="#0130fe" d="M103.8 406.1 105.0 406.0 105.6 406.4 106.4 406.9 107.1 407.5 107.8 408.1 108.3 408.7 108.7 409.3 109.2 409.9 109.9 410.5 110.4 411.1 111.0 411.9 111.6 412.6 112.2 413.4 112.7 414.1 113.3 414.7 113.7 415.3 114.1 415.9 114.6 416.5 115.2 417.4 115.6 418.3 116.0 418.9 116.4 419.7 116.9 420.7 117.4 421.3 118.0 421.9 118.3 422.5 118.8 423.1 119.4 423.9 120.0 424.8 120.5 425.5 120.8 426.1 121.2 426.9 121.7 427.9 122.1 428.5 122.4 429.1 122.8 430.3 123.2 430.9 123.6 431.7 124.1 432.7 124.7 433.3 125.2 433.9 125.8 434.5 126.4 435.1 127.0 435.7 127.4 436.3 127.8 436.9 128.4 437.7 128.9 438.7 129.3 439.3 129.5 440.5 130.0 441.1 130.2 441.8 130.7 442.9 131.1 443.5 131.4 444.2 131.8 445.3 131.5 446.5 131.2 447.1 130.7 447.7 130.1 448.3 129.5 448.9 129.0 449.9 128.4 450.6 128.0 451.3 127.6 451.9 127.1 452.5 126.6 453.6 126.2 454.3 125.8 454.9 125.3 455.5 124.8 456.7 124.5 457.3 124.1 457.9 123.6 459.0 123.0 459.7 122.6 460.3 122.2 460.9 121.6 461.5 121.1 462.1 120.5 462.7 120.0 463.7 119.6 464.5 119.3 465.1 118.8 466.1 118.2 466.8 117.9 467.5 117.3 468.1 116.9 468.7 116.4 469.5 115.8 470.2 115.2 470.9 114.6 471.5 114.0 472.2 113.4 472.8 112.8 473.4 112.2 474.1 111.9 474.7 111.3 475.3 110.8 475.9 110.3 476.5 109.8 477.4 109.2 478.2 108.6 478.9 108.2 479.5 107.8 480.1 107.3 480.7 106.8 481.5 106.2 482.1 105.6 482.6 104.4 483.0 103.2 482.9 102.2 482.5 101.4 482.1 100.8 481.7 100.0 481.3 99.0 480.7 98.4 480.2 97.8 479.7 97.2 479.1 96.6 478.4 96.0 477.7 95.6 477.1 94.8 476.5 94.8 475.9 94.2 475.3 93.3 474.7 92.7 474.1 91.8 473.5 91.2 473.2 90.6 472.7 90.0 472.2 89.4 471.6 88.8 471.0 88.2 470.4 87.5 469.9 86.6 469.3 85.8 468.7 85.2 468.2 84.6 467.7 84.0 467.2 83.4 466.7 82.8 466.1 82.2 465.4 81.6 464.7 81.0 463.9 80.5 463.3 80.1 462.7 79.6 462.1 79.2 461.4 78.0 460.9 77.9 460.9 76.8 461.3 76.2 461.7 75.5 462.1 74.8 462.7 74.2 463.3 73.6 463.9 73.1 464.5 72.5 465.1 72.0 465.8 71.3 466.3 70.6 466.9 69.8 467.5 69.0 468.0 68.4 468.4 67.8 468.8 66.7 469.3 66.0 469.7 65.4 470.0 64.2 470.5 63.6 470.7 62.4 471.0 61.8 471.3 60.6 471.7 60.0 472.0 59.3 472.3 58.2 472.9 57.6 473.2 56.4 473.3 55.3 472.9 54.6 472.3 54.1 471.7 53.6 471.1 53.4 470.3 53.0 469.3 53.1 468.1 53.4 467.5 54.0 466.3 54.5 465.7 55.0 465.1 55.6 464.5 56.4 463.9 57.0 463.4 57.6 462.8 58.2 462.3 58.8 461.7 59.4 461.0 59.8 460.3 60.2 459.7 60.6 459.1 61.2 458.3 61.8 457.4 62.3 456.7 62.7 456.1 63.2 455.5 63.6 454.9 63.9 453.7 63.0 453.2 62.4 453.1 61.7 453.1 60.6 453.3 59.4 453.7 58.8 453.7 57.6 453.9 56.4 454.1 55.2 454.3 54.0 454.2 52.9 453.7 52.2 453.5 51.6 453.1 50.6 452.5 50.0 451.9 49.6 451.3 49.2 450.4 48.7 449.5 48.6 448.8 48.0 447.7 47.9 447.1 47.7 445.9 48.0 444.7 48.1 444.1 48.6 443.3 48.9 442.3 49.2 441.7 49.8 441.0 50.4 440.5 51.3 439.9 52.2 439.6 53.4 439.4 54.6 439.3 55.8 439.3 56.4 439.3 57.3 439.3 58.1 439.3 58.8 439.2 60.0 439.1 61.2 439.0 62.4 438.9 63.6 438.8 64.8 438.7 65.0 438.1 64.6 437.5 63.8 436.9 63.0 436.3 62.4 435.9 61.8 435.2 61.2 434.5 60.9 433.9 60.6 433.2 60.0 432.6 59.4 431.7 58.8 430.9 58.3 430.3 57.8 429.7 57.4 429.1 57.0 428.4 56.4 427.7 55.8 426.7 55.6 426.1 55.5 424.9 55.8 423.9 56.1 423.1 56.7 422.5 57.4 421.9 58.2 421.4 58.8 421.0 60.0 420.7 61.2 420.8 62.0 421.3 62.6 421.9 63.0 422.5 63.6 423.2 64.2 424.0 64.8 424.7 65.4 425.4 66.0 426.0 66.6 426.6 67.1 427.3 67.8 427.8 68.4 428.3 69.0 428.7 69.6 429.2 70.4 429.7 71.2 430.3 72.0 430.7 72.6 431.1 73.2 431.6 74.1 432.1 75.0 432.5 75.6 432.8 76.8 432.8 77.4 432.4 78.0 431.7 78.2 430.9 78.6 430.3 78.9 429.1 79.3 428.5 79.8 427.6 80.4 426.9 81.0 426.2 81.6 425.6 82.2 425.0 82.8 424.5 83.4 423.9 84.0 423.4 84.6 422.9 85.2 422.5 85.9 421.9 86.6 421.3 87.6 420.7 88.2 420.3 88.8 420.1 89.7 419.5 90.6 418.9 91.2 418.3 91.8 417.8 92.4 417.2 93.0 416.7 93.6 416.3 94.4 415.9 95.2 415.3 95.7 414.7 96.1 414.1 96.6 413.3 97.2 412.4 97.8 411.7 98.4 411.1 99.0 410.6 99.6 410.0 100.2 409.4 100.8 408.8 101.4 408.3 102.0 407.7 102.6 407.2 103.2 406.6Z"/><path fill="#004dff" d="M103.8 410.4 105.0 410.2 105.7 410.5 106.4 411.1 107.0 411.7 107.4 412.3 108.0 413.0 108.6 413.8 109.2 414.6 109.7 415.3 110.1 415.9 110.7 416.5 111.2 417.1 111.8 417.7 112.3 418.3 112.8 419.0 113.4 419.9 113.9 420.7 114.3 421.3 114.7 421.9 115.2 422.5 115.8 423.4 116.3 424.3 116.8 424.9 117.2 425.5 117.6 426.1 118.2 426.9 118.8 427.8 119.2 428.5 119.6 429.1 120.0 429.8 120.5 430.9 120.8 431.5 121.2 432.2 121.6 433.3 121.9 433.9 122.4 434.6 123.0 435.4 123.6 436.0 124.2 436.7 124.8 437.4 125.3 438.1 125.8 438.7 126.2 439.3 126.6 439.9 127.2 441.0 127.5 441.7 127.8 442.3 128.4 443.4 128.6 444.1 128.8 445.3 128.4 446.5 128.1 447.1 127.6 447.7 127.2 448.3 126.6 449.2 126.0 450.1 125.5 450.7 125.1 451.3 124.7 451.9 124.2 452.9 123.7 453.7 123.4 454.3 123.0 455.2 122.4 456.1 122.1 456.7 121.6 457.3 121.2 457.9 120.6 458.7 120.0 459.5 119.4 460.2 118.8 460.9 118.4 461.5 117.9 462.1 117.5 462.7 117.0 463.3 116.4 464.1 115.8 464.9 115.2 465.7 114.9 466.3 114.5 466.9 114.0 467.7 113.4 468.6 112.8 469.3 112.3 469.9 111.8 470.5 111.3 471.1 110.7 471.7 110.2 472.3 109.7 472.9 109.2 473.5 108.6 474.3 108.0 475.0 107.4 475.7 106.8 476.5 106.3 477.1 105.9 477.7 105.5 478.3 105.0 479.0 104.4 479.5 103.2 479.7 102.6 479.4 101.6 478.9 100.8 478.3 100.2 478.0 99.6 477.6 98.9 477.1 98.1 476.5 97.4 475.9 96.8 475.3 96.2 474.7 95.4 474.1 94.8 473.6 94.2 473.1 93.6 472.5 93.0 471.8 92.4 471.1 92.0 470.5 91.6 469.9 91.1 469.3 90.5 468.7 89.8 468.1 88.9 467.5 88.2 467.1 87.6 466.7 87.0 466.2 86.3 465.7 85.6 465.1 85.0 464.5 84.5 463.9 84.0 462.7 83.7 462.1 83.4 460.9 83.1 460.3 82.8 459.5 82.2 458.6 81.6 458.0 81.0 457.6 79.8 457.5 78.6 457.9 78.0 458.2 77.4 458.6 76.6 459.1 75.8 459.7 75.0 460.3 74.4 460.8 73.8 461.2 73.2 461.8 72.6 462.3 72.0 462.9 71.4 463.5 70.8 464.1 70.2 464.7 69.6 465.3 69.0 465.7 68.1 466.3 67.2 466.8 66.6 467.1 65.8 467.5 64.8 468.1 64.2 468.3 63.0 468.7 62.4 468.8 61.2 469.0 60.1 469.3 59.4 469.6 58.4 469.9 57.6 470.1 56.4 469.9 55.9 469.3 55.7 468.7 55.8 468.1 56.1 466.9 56.4 466.3 57.0 465.6 57.6 464.9 58.2 464.5 59.0 463.9 59.8 463.3 60.4 462.7 61.0 462.1 61.5 461.5 62.0 460.9 62.4 460.3 63.0 459.3 63.3 458.5 63.6 457.9 64.2 457.2 64.8 456.5 65.4 455.7 66.0 454.9 66.4 454.3 66.9 453.7 67.4 453.1 67.8 452.5 67.8 451.9 66.6 451.5 65.4 451.3 64.2 451.3 63.0 451.4 61.8 451.4 60.6 451.4 59.4 451.6 58.2 451.8 57.3 451.9 56.4 452.0 55.2 452.2 54.0 452.0 53.4 451.8 52.4 451.3 51.7 450.7 51.1 450.1 50.7 449.5 50.3 448.9 49.8 447.8 49.5 447.1 49.4 445.9 49.7 444.7 49.9 444.1 50.4 443.3 51.0 442.5 51.6 441.9 52.2 441.5 53.4 441.1 54.0 441.1 54.6 441.1 55.8 441.2 57.0 441.3 58.2 441.3 59.4 441.1 60.0 441.0 61.2 440.9 62.4 441.0 63.3 441.1 64.0 441.1 64.8 441.0 66.0 440.9 67.2 440.7 67.8 440.4 68.3 439.3 67.8 438.2 67.2 437.5 66.6 436.9 66.0 436.4 65.4 436.0 64.8 435.6 64.1 435.1 63.3 434.5 62.8 433.9 62.4 433.3 61.8 432.3 61.2 431.5 60.8 430.9 60.4 430.3 60.0 429.6 59.4 428.5 59.0 427.9 58.7 427.3 58.2 426.2 58.0 425.5 58.2 424.8 58.8 424.0 59.4 423.7 60.1 423.7 61.2 424.3 61.8 424.7 62.4 425.3 63.0 425.8 63.6 426.4 64.2 426.9 64.8 427.4 65.4 428.0 66.0 428.5 66.7 429.1 67.5 429.7 68.4 430.2 69.0 430.6 69.6 430.9 70.4 431.5 71.3 432.1 72.0 432.5 72.6 432.9 73.2 433.3 74.1 433.9 75.0 434.3 75.6 434.6 76.8 435.1 77.4 435.2 78.6 435.1 79.2 434.7 79.8 434.0 80.3 433.3 80.6 432.7 81.0 432.1 81.3 430.9 81.6 430.2 82.2 429.2 82.8 428.5 83.4 428.0 84.0 427.4 84.6 426.8 85.2 426.1 85.7 425.5 86.2 424.9 86.8 424.3 87.5 423.7 88.2 423.2 88.8 422.9 89.8 422.5 90.6 422.2 91.2 421.9 92.0 421.3 92.8 420.7 93.4 420.1 94.1 419.5 94.8 418.9 95.4 418.4 96.0 417.8 96.6 417.2 97.2 416.6 97.6 415.9 98.0 415.3 98.4 414.7 99.0 413.9 99.6 413.3 100.2 412.8 100.9 412.3 101.7 411.7 102.5 411.1 103.2 410.7Z"/><path fill="#006bff" d="M103.2 412.8 104.4 412.6 105.0 412.9 105.6 413.5 106.2 414.4 106.8 415.1 107.4 415.8 107.9 416.5 108.5 417.1 109.2 417.7 109.8 418.2 110.4 418.8 110.9 419.5 111.4 420.1 111.8 420.7 112.3 421.3 112.8 422.0 113.4 422.8 114.0 423.5 114.6 424.3 115.0 424.9 115.5 425.5 116.0 426.1 116.4 426.7 117.0 427.5 117.6 428.4 118.0 429.1 118.4 429.7 118.8 430.3 119.4 431.4 119.7 432.1 120.0 432.7 120.5 433.9 120.7 434.5 121.2 435.3 121.8 436.2 122.3 436.9 122.9 437.5 123.5 438.1 124.1 438.7 124.6 439.3 125.0 439.9 125.4 440.5 126.0 441.4 126.5 442.3 126.8 442.9 127.2 443.9 127.3 444.7 127.2 445.7 126.8 446.5 126.4 447.1 126.0 447.8 125.4 448.7 124.9 449.5 124.5 450.1 124.1 450.7 123.6 451.5 123.0 452.5 122.6 453.1 122.2 453.7 121.8 454.6 121.2 455.5 120.8 456.1 120.4 456.7 120.0 457.3 119.4 458.1 118.8 458.8 118.2 459.5 117.6 460.1 117.0 460.8 116.4 461.5 115.9 462.1 115.4 462.7 115.0 463.3 114.6 464.0 114.0 465.0 113.5 465.7 113.1 466.3 112.6 466.9 112.1 467.5 111.6 468.2 111.0 468.9 110.4 469.7 109.8 470.4 109.2 471.1 108.6 471.7 108.0 472.3 107.4 472.9 106.8 473.5 106.3 474.1 105.8 474.7 105.3 475.3 104.8 475.9 104.3 476.5 103.8 477.1 102.6 477.6 101.4 477.2 100.8 476.9 100.1 476.5 99.2 475.9 98.4 475.3 97.8 474.7 97.2 474.2 96.6 473.7 96.0 473.2 95.4 472.7 94.8 472.1 94.2 471.4 93.6 470.6 93.1 469.9 92.7 469.3 92.2 468.7 91.7 468.1 91.0 467.5 90.3 466.9 89.5 466.3 88.8 465.8 88.2 465.3 87.6 464.7 87.0 464.2 86.4 463.5 85.8 462.7 85.5 462.1 85.2 461.3 84.8 460.3 84.5 459.7 84.0 458.5 83.6 457.9 83.1 457.3 82.6 456.7 81.8 456.1 81.0 455.7 79.8 455.8 79.0 456.1 78.0 456.7 77.4 457.0 76.8 457.4 75.9 457.9 75.1 458.5 74.4 459.0 73.8 459.4 73.2 459.8 72.3 460.3 71.4 460.9 70.8 461.4 70.2 461.9 69.6 462.5 69.0 463.0 68.4 463.5 67.8 464.0 67.0 464.5 66.0 465.1 65.4 465.4 64.8 465.7 63.6 466.0 62.4 465.8 62.0 465.1 62.3 463.9 62.6 463.3 63.0 462.7 63.6 461.9 64.2 460.9 64.5 460.3 64.8 459.6 65.3 458.5 65.6 457.9 66.0 457.3 66.6 456.5 67.2 455.7 67.8 455.0 68.4 454.4 69.0 453.9 69.6 453.5 70.2 453.1 71.0 452.5 71.7 451.9 72.1 451.3 72.0 450.5 71.2 450.1 70.2 449.9 69.0 449.9 67.8 449.9 66.6 450.0 65.4 450.0 64.2 450.0 63.0 450.0 61.8 450.0 60.6 450.0 59.4 450.0 58.2 450.1 57.6 450.2 56.4 450.3 55.2 450.4 54.0 450.2 53.4 449.9 52.8 449.4 52.2 448.8 51.6 448.0 51.1 447.1 50.9 446.5 51.0 445.5 51.2 444.7 51.6 444.1 52.2 443.4 53.0 442.9 54.0 442.7 55.2 442.8 56.4 442.9 57.6 442.9 58.8 442.8 60.0 442.8 61.2 442.8 62.4 442.9 63.6 442.9 64.8 442.8 66.0 442.6 67.2 442.5 67.8 442.3 69.0 442.0 69.8 441.7 70.6 441.1 70.3 439.9 69.9 439.3 69.5 438.7 69.0 437.8 68.4 437.0 67.8 436.4 67.2 435.8 66.6 435.3 66.0 434.8 65.4 434.3 64.8 433.8 64.2 433.2 63.6 432.3 63.2 431.5 63.0 430.8 62.9 429.7 63.6 429.4 64.3 429.7 65.4 430.2 66.0 430.6 66.6 430.9 67.7 431.5 68.4 431.8 69.0 432.1 70.1 432.7 70.8 433.1 71.4 433.5 72.0 433.9 72.9 434.5 73.8 435.0 74.4 435.3 75.2 435.7 76.2 436.2 76.8 436.4 78.0 436.8 79.2 436.5 79.8 435.9 80.4 435.2 80.8 434.5 81.3 433.9 81.7 433.3 82.2 432.5 82.6 431.5 82.9 430.9 83.4 430.1 84.0 429.3 84.6 428.6 85.2 428.0 85.8 427.4 86.4 426.7 86.9 426.1 87.5 425.5 88.2 424.9 88.8 424.5 89.4 424.2 90.3 423.7 91.2 423.3 91.8 423.0 92.4 422.5 93.1 421.9 93.8 421.3 94.6 420.7 95.2 420.1 95.8 419.5 96.5 418.9 97.0 418.3 97.5 417.7 98.0 417.1 98.5 416.5 99.0 415.9 99.6 415.1 100.2 414.5 100.8 414.1 101.8 413.5 102.6 413.1Z"/><path fill="#008aff" d="M102.6 414.6 103.2 414.7 104.1 415.3 104.7 415.9 105.2 416.5 105.7 417.1 106.3 417.7 107.1 418.3 108.0 418.9 108.6 419.3 109.2 419.7 109.8 420.3 110.4 420.9 111.0 421.6 111.6 422.4 112.1 423.1 112.6 423.7 113.1 424.3 113.6 424.9 114.1 425.5 114.6 426.1 115.2 426.8 115.8 427.5 116.4 428.4 116.9 429.1 117.3 429.7 117.7 430.3 118.2 431.1 118.7 432.1 119.0 432.7 119.4 433.6 119.7 434.5 120.0 435.1 120.6 436.2 121.0 436.9 121.5 437.5 122.1 438.1 122.7 438.7 123.3 439.3 123.9 439.9 124.3 440.5 124.8 441.1 125.4 442.0 125.8 442.9 126.1 443.5 126.3 444.7 126.0 445.9 125.7 446.5 125.3 447.1 124.8 448.0 124.2 448.9 123.8 449.5 123.4 450.1 123.0 450.7 122.4 451.7 121.8 452.5 121.5 453.1 121.1 453.7 120.6 454.7 120.0 455.5 119.6 456.1 119.2 456.7 118.7 457.3 118.1 457.9 117.6 458.5 117.0 459.2 116.4 459.8 115.8 460.5 115.2 461.2 114.6 462.0 114.1 462.7 113.7 463.3 113.3 463.9 112.8 464.8 112.2 465.6 111.6 466.3 111.1 466.9 110.6 467.5 110.1 468.1 109.6 468.7 109.1 469.3 108.6 469.9 108.0 470.5 107.4 471.1 106.7 471.7 106.1 472.3 105.6 472.9 105.0 473.6 104.4 474.2 103.8 474.8 103.2 475.4 102.3 475.9 101.4 475.9 100.8 475.7 99.9 475.3 99.0 474.7 98.4 474.2 97.8 473.7 97.2 473.2 96.6 472.6 96.0 472.1 95.4 471.5 94.8 470.7 94.2 469.9 93.8 469.3 93.3 468.7 92.9 468.1 92.4 467.5 91.8 466.8 91.2 466.3 90.5 465.7 89.8 465.1 89.1 464.5 88.5 463.9 88.0 463.3 87.5 462.7 87.0 461.9 86.4 460.9 86.1 460.3 85.8 459.6 85.2 458.5 84.9 457.9 84.5 457.3 84.0 456.5 83.4 455.8 82.8 455.3 82.2 454.9 81.0 454.4 79.8 454.5 78.9 454.9 78.0 455.4 77.4 455.7 76.5 456.1 75.6 456.6 75.0 456.9 74.2 457.3 73.2 457.8 72.6 458.1 71.5 458.5 70.8 458.7 69.6 458.9 68.5 458.5 68.5 457.3 69.0 456.3 69.6 455.5 70.2 454.9 70.8 454.4 71.4 454.0 72.0 453.5 72.6 453.0 73.2 452.5 73.9 451.9 74.6 451.3 75.2 450.7 75.6 450.1 75.6 449.0 75.0 448.6 73.8 448.4 72.6 448.3 71.9 448.3 70.8 448.2 69.6 448.2 68.4 448.2 67.8 448.3 66.6 448.4 65.4 448.5 64.2 448.5 63.0 448.5 61.8 448.4 60.6 448.4 59.4 448.4 58.2 448.4 57.0 448.4 55.8 448.4 55.1 448.3 54.0 447.7 53.5 447.1 53.2 446.5 53.4 445.4 54.0 444.9 55.2 444.7 56.4 444.7 57.5 444.7 58.2 444.7 59.0 444.7 60.0 444.7 61.2 444.8 62.4 444.8 63.6 444.7 64.2 444.7 65.4 444.6 66.6 444.6 67.8 444.5 68.8 444.1 69.6 443.8 70.8 443.5 72.0 443.6 73.2 443.7 74.1 443.5 74.4 442.9 74.2 442.3 73.8 441.7 73.2 441.0 72.6 440.4 72.0 439.9 71.4 439.2 70.8 438.5 70.2 437.6 69.7 436.9 69.4 436.3 69.0 435.5 68.6 434.5 69.6 434.3 70.2 434.5 71.4 435.0 72.0 435.3 72.9 435.7 73.8 436.2 74.4 436.5 75.2 436.9 76.2 437.3 76.8 437.6 78.0 438.0 79.2 437.8 79.8 437.3 80.4 436.6 81.0 435.7 81.4 435.1 81.8 434.5 82.3 433.9 82.8 433.1 83.3 432.1 83.6 431.5 84.0 430.9 84.6 430.0 85.2 429.3 85.8 428.7 86.4 428.1 87.0 427.5 87.6 426.8 88.2 426.2 88.8 425.7 89.4 425.2 90.0 424.9 91.2 424.3 91.8 424.0 92.4 423.6 93.0 423.1 93.6 422.5 94.4 421.9 95.1 421.3 95.8 420.7 96.4 420.1 97.0 419.5 97.5 418.9 98.0 418.3 98.5 417.7 99.0 417.1 99.6 416.5 100.2 415.8 100.8 415.3 102.0 414.7Z"/><path fill="#00a8ff" d="M101.4 416.4 102.1 416.5 103.0 417.1 103.6 417.7 104.3 418.3 105.0 418.8 105.6 419.2 106.2 419.5 107.1 420.1 108.0 420.6 108.6 421.0 109.2 421.5 109.8 422.1 110.4 422.7 111.0 423.4 111.6 424.1 112.2 424.8 112.8 425.5 113.3 426.1 113.8 426.7 114.3 427.3 114.8 427.9 115.3 428.5 115.8 429.1 116.4 430.0 117.0 430.9 117.3 431.5 117.7 432.1 118.2 433.0 118.5 433.9 118.8 434.5 119.3 435.7 119.6 436.3 120.0 436.9 120.6 437.8 121.2 438.4 121.8 439.0 122.4 439.6 123.0 440.2 123.6 440.8 124.2 441.6 124.6 442.3 124.9 442.9 125.4 443.9 125.5 444.7 125.3 445.3 124.8 446.5 124.3 447.1 124.0 447.7 123.6 448.3 123.0 449.2 122.4 450.1 121.9 450.7 121.5 451.3 121.2 451.9 120.6 452.9 120.1 453.7 119.7 454.3 119.3 454.9 118.8 455.6 118.2 456.4 117.6 457.0 117.0 457.7 116.4 458.3 115.8 458.9 115.2 459.6 114.6 460.3 114.1 460.9 113.7 461.5 113.2 462.1 112.8 462.9 112.2 463.8 111.6 464.5 111.2 465.1 110.7 465.7 110.2 466.3 109.7 466.9 109.2 467.5 108.6 468.2 108.0 468.8 107.4 469.4 106.8 470.0 106.2 470.5 105.5 471.1 104.9 471.7 104.3 472.3 103.6 472.9 103.0 473.5 102.4 474.1 101.4 474.7 100.2 474.5 99.4 474.1 98.6 473.5 97.9 472.9 97.2 472.3 96.6 471.7 96.0 471.1 95.5 470.5 95.1 469.9 94.7 469.3 94.2 468.6 93.6 467.8 93.0 467.0 92.4 466.3 91.9 465.7 91.3 465.1 90.8 464.5 90.3 463.9 89.8 463.3 89.3 462.7 88.8 462.0 88.2 461.2 87.6 460.4 87.0 459.7 86.6 459.1 86.3 458.5 85.8 457.6 85.3 456.7 84.9 456.1 84.5 455.5 83.9 454.9 83.1 454.3 82.3 453.7 81.6 453.2 81.0 453.1 80.3 453.1 79.2 453.5 78.6 453.8 77.4 454.3 76.8 454.5 75.6 454.8 74.4 454.9 74.3 453.7 74.8 453.1 75.4 452.5 76.0 451.9 76.6 451.3 77.0 450.7 77.3 449.5 76.9 448.3 76.5 447.7 76.2 447.0 75.9 445.9 76.2 445.2 76.5 444.1 76.3 442.9 76.0 442.3 75.5 441.7 75.0 441.0 74.4 440.4 73.8 439.8 73.2 439.0 72.7 438.1 73.8 437.8 74.7 438.1 75.6 438.4 76.3 438.7 77.4 439.1 78.6 439.3 79.8 438.8 80.3 438.1 80.6 437.5 81.0 436.9 81.6 436.1 82.2 435.2 82.7 434.5 83.1 433.9 83.5 433.3 84.0 432.5 84.5 431.5 84.9 430.9 85.4 430.3 85.9 429.7 86.5 429.1 87.1 428.5 87.7 427.9 88.2 427.3 88.8 426.7 89.6 426.1 90.6 425.5 91.2 425.2 91.8 424.9 92.6 424.3 93.3 423.7 94.0 423.1 94.7 422.5 95.4 422.0 96.0 421.5 96.6 421.0 97.2 420.4 97.8 419.7 98.4 419.0 99.0 418.3 99.5 417.7 100.2 417.2 100.8 416.7Z"/><path fill="#00c6ff" d="M100.2 418.6 101.4 418.4 102.2 418.9 103.1 419.5 103.8 419.9 104.4 420.2 105.2 420.7 106.2 421.2 106.8 421.5 107.4 421.9 108.2 422.5 108.9 423.1 109.5 423.7 110.1 424.3 110.6 424.9 111.2 425.5 111.7 426.1 112.3 426.7 112.9 427.3 113.4 427.9 114.0 428.5 114.6 429.2 115.2 430.0 115.8 430.9 116.1 431.5 116.5 432.1 117.0 432.8 117.5 433.9 117.7 434.5 118.2 435.6 118.4 436.3 118.8 436.9 119.4 437.8 120.0 438.6 120.6 439.2 121.2 439.8 121.8 440.3 122.4 440.9 123.0 441.5 123.6 442.3 123.9 442.9 124.2 443.5 124.4 444.7 124.2 445.6 123.6 446.5 123.3 447.1 122.9 447.7 122.4 448.5 121.8 449.3 121.2 450.1 120.8 450.7 120.4 451.3 120.0 452.0 119.4 452.9 118.9 453.7 118.4 454.3 118.0 454.9 117.4 455.5 116.9 456.1 116.3 456.7 115.7 457.3 115.1 457.9 114.6 458.5 114.0 459.2 113.4 460.0 112.8 460.9 112.3 461.5 111.9 462.1 111.5 462.7 111.0 463.5 110.4 464.3 109.8 465.0 109.2 465.6 108.6 466.3 108.0 466.9 107.4 467.5 106.8 468.1 106.2 468.7 105.6 469.2 105.0 469.7 104.4 470.3 103.8 470.8 103.2 471.4 102.6 472.0 102.0 472.6 101.4 473.1 100.2 473.4 99.1 472.9 98.4 472.4 97.8 471.9 97.2 471.3 96.6 470.7 96.0 470.0 95.5 469.3 95.0 468.7 94.6 468.1 94.1 467.5 93.6 466.7 93.0 465.9 92.4 465.1 91.9 464.5 91.4 463.9 91.0 463.3 90.6 462.6 90.0 461.8 89.4 461.1 88.8 460.3 88.2 459.7 87.7 459.1 87.2 458.5 86.8 457.9 86.4 457.1 85.8 456.1 85.5 455.5 85.0 454.9 84.4 454.3 83.8 453.7 83.1 453.1 82.3 452.5 81.6 452.0 81.0 451.7 79.8 451.5 79.1 451.3 78.6 450.1 78.4 449.5 78.0 448.4 77.6 447.7 77.3 447.1 77.2 445.9 77.4 445.2 77.7 444.1 77.9 442.9 77.8 441.7 78.1 441.1 79.2 440.8 79.8 440.4 80.4 439.7 80.9 438.7 81.1 438.1 81.6 437.3 82.2 436.3 82.6 435.7 83.1 435.1 83.5 434.5 84.0 433.8 84.6 432.8 85.0 432.1 85.4 431.5 85.9 430.9 86.4 430.3 87.0 429.7 87.6 429.1 88.2 428.5 88.8 427.9 89.4 427.3 90.1 426.7 91.0 426.1 91.8 425.7 92.4 425.3 93.0 424.9 93.6 424.3 94.2 423.7 95.0 423.1 95.8 422.5 96.6 421.9 97.2 421.4 97.8 420.9 98.4 420.3 99.0 419.6 99.6 419.0Z"/><path fill="#04d8f7" d="M100.2 420.6 100.9 420.7 102.0 421.1 102.6 421.4 103.6 421.9 104.4 422.3 105.0 422.6 106.0 423.1 106.8 423.6 107.4 424.1 108.0 424.7 108.6 425.4 109.2 426.0 109.8 426.5 110.4 427.1 111.0 427.7 111.6 428.3 112.2 428.9 112.8 429.5 113.4 430.2 113.9 430.9 114.3 431.5 114.7 432.1 115.2 432.8 115.8 433.9 116.0 434.5 116.4 435.2 116.8 436.3 117.1 436.9 117.6 437.6 118.2 438.4 118.8 439.2 119.3 439.9 120.0 440.5 120.6 441.0 121.2 441.6 121.8 442.2 122.3 442.9 122.7 443.5 123.0 444.7 123.0 444.7 122.5 445.9 122.2 446.5 121.8 447.1 121.2 448.0 120.6 448.8 120.0 449.5 119.6 450.1 119.2 450.7 118.8 451.4 118.2 452.2 117.6 453.1 117.0 453.7 116.5 454.3 115.9 454.9 115.2 455.5 114.6 456.1 114.0 456.7 113.4 457.3 112.9 457.9 112.5 458.5 112.1 459.1 111.6 459.9 111.0 460.8 110.5 461.5 110.1 462.1 109.6 462.7 109.1 463.3 108.6 463.9 108.0 464.5 107.3 465.1 106.7 465.7 106.1 466.3 105.4 466.9 104.7 467.5 104.0 468.1 103.3 468.7 102.7 469.3 102.1 469.9 101.6 470.5 101.0 471.1 100.3 471.7 99.6 471.8 99.0 471.6 98.1 471.1 97.4 470.5 96.8 469.9 96.3 469.3 95.8 468.7 95.4 468.1 94.8 467.3 94.2 466.6 93.6 465.8 93.1 465.1 92.7 464.5 92.3 463.9 91.8 463.1 91.2 462.2 90.7 461.5 90.2 460.9 89.7 460.3 89.1 459.7 88.6 459.1 88.0 458.5 87.6 457.9 87.0 456.9 86.5 456.1 86.2 455.5 85.8 454.8 85.2 454.1 84.6 453.5 84.0 452.9 83.4 452.4 82.8 451.9 82.0 451.3 81.0 450.7 80.4 450.3 79.8 449.8 79.2 449.0 78.7 448.3 78.3 447.7 78.0 446.5 78.1 445.3 78.6 444.4 78.9 443.5 79.2 442.9 79.8 442.1 80.4 441.3 80.9 440.5 81.1 439.9 81.6 438.8 81.8 438.1 82.2 437.5 82.8 436.5 83.4 435.7 83.8 435.1 84.3 434.5 84.7 433.9 85.2 433.2 85.8 432.3 86.4 431.5 86.9 430.9 87.5 430.3 88.1 429.7 88.7 429.1 89.2 428.5 89.8 427.9 90.5 427.3 91.2 426.9 91.8 426.5 92.4 426.1 93.2 425.5 93.9 424.9 94.5 424.3 95.2 423.7 96.0 423.2 96.6 422.8 97.2 422.4 97.9 421.9 98.8 421.3 99.6 420.8Z"/><path fill="#08e9ee" d="M98.4 423.0 99.6 422.9 100.5 423.1 101.4 423.4 102.0 423.7 103.2 424.3 103.8 424.6 104.4 424.9 105.3 425.5 105.9 426.1 106.5 426.7 107.1 427.3 107.7 427.9 108.3 428.5 108.8 429.1 109.4 429.7 110.0 430.3 110.6 430.9 111.2 431.5 111.7 432.1 112.2 432.7 112.8 433.7 113.1 434.5 113.4 435.1 114.0 436.1 114.5 436.9 114.9 437.5 115.4 438.1 115.9 438.7 116.4 439.3 117.0 440.0 117.6 440.7 118.2 441.3 118.8 441.9 119.4 442.5 120.0 443.1 120.5 444.1 120.7 444.7 120.6 445.4 120.0 446.5 119.6 447.1 119.1 447.7 118.6 448.3 118.1 448.9 117.6 449.6 117.0 450.4 116.4 451.1 115.8 451.9 115.2 452.5 114.6 453.1 114.0 453.7 113.4 454.2 112.8 454.8 112.2 455.4 111.6 456.1 111.1 456.7 110.6 457.3 110.1 457.9 109.7 458.5 109.2 459.4 108.6 460.3 108.2 460.9 107.7 461.5 107.2 462.1 106.7 462.7 106.0 463.3 105.3 463.9 104.6 464.5 103.8 465.1 103.2 465.7 102.6 466.2 102.0 466.8 101.4 467.3 100.8 467.9 100.2 468.5 99.6 469.0 99.0 469.4 97.9 469.3 97.2 468.8 96.6 468.3 96.0 467.7 95.4 467.0 94.8 466.3 94.2 465.7 93.8 465.1 93.4 464.5 93.0 463.8 92.4 462.8 91.9 462.1 91.5 461.5 91.0 460.9 90.5 460.3 90.0 459.6 89.4 459.0 88.8 458.4 88.2 457.7 87.6 456.8 87.2 456.1 86.9 455.5 86.4 454.6 85.8 453.8 85.2 453.2 84.6 452.6 84.0 452.1 83.4 451.6 82.8 451.1 82.2 450.6 81.4 450.1 80.6 449.5 80.0 448.9 79.5 448.3 79.1 447.7 78.6 446.5 78.8 445.3 79.2 444.7 79.8 443.6 80.2 442.9 80.6 442.3 81.0 441.7 81.6 440.7 81.8 439.9 82.2 439.0 82.5 438.1 82.8 437.5 83.4 436.7 84.0 436.0 84.6 435.2 85.1 434.5 85.5 433.9 86.0 433.3 86.4 432.7 87.0 432.1 87.6 431.4 88.2 430.8 88.8 430.2 89.4 429.5 90.0 428.9 90.6 428.3 91.2 427.8 91.9 427.3 92.8 426.7 93.6 426.1 94.2 425.6 94.8 425.0 95.4 424.5 96.0 424.1 96.6 423.7 97.8 423.1Z"/><path fill="#0deed2" d="M96.6 424.8 97.8 424.6 98.9 424.9 99.6 425.3 100.2 425.6 100.9 426.1 102.0 426.7 102.6 427.0 103.2 427.3 103.9 427.9 104.6 428.5 105.2 429.1 105.8 429.7 106.4 430.3 106.9 430.9 107.4 431.5 108.0 432.1 108.6 432.8 109.2 433.5 109.8 434.3 110.2 435.1 110.6 435.7 111.0 436.3 111.6 437.2 112.2 437.9 112.8 438.5 113.4 439.0 114.0 439.6 114.6 440.2 115.2 440.8 115.8 441.4 116.4 442.0 117.0 442.6 117.6 443.2 118.1 444.1 118.3 444.7 118.2 445.4 117.6 446.5 117.1 447.1 116.6 447.7 116.1 448.3 115.6 448.9 115.1 449.5 114.6 450.1 114.0 450.8 113.4 451.5 112.8 452.1 112.2 452.7 111.6 453.3 111.0 453.9 110.4 454.5 109.8 455.2 109.2 455.9 108.6 456.5 108.0 457.2 107.4 457.9 106.9 458.5 106.4 459.1 105.9 459.7 105.3 460.3 104.6 460.9 103.9 461.5 103.2 462.1 102.6 462.5 102.0 463.0 101.4 463.5 100.8 464.1 100.2 464.7 99.6 465.3 99.0 465.7 98.2 466.3 97.2 466.7 96.1 466.3 95.4 465.8 94.8 465.2 94.2 464.5 93.8 463.9 93.4 463.3 93.0 462.5 92.4 461.6 91.9 460.9 91.4 460.3 90.9 459.7 90.3 459.1 89.7 458.5 89.1 457.9 88.6 457.3 88.2 456.7 87.6 455.6 87.2 454.9 86.8 454.3 86.4 453.7 85.8 453.0 85.2 452.4 84.6 451.8 84.0 451.3 83.2 450.7 82.5 450.1 81.7 449.5 81.0 448.9 80.4 448.4 79.8 447.7 79.5 447.1 79.3 445.9 79.8 444.9 80.2 444.1 80.6 443.5 81.0 442.9 81.6 442.0 82.0 441.1 82.3 440.5 82.7 439.3 82.9 438.7 83.4 437.9 84.0 437.0 84.5 436.3 85.0 435.7 85.5 435.1 86.0 434.5 86.5 433.9 87.1 433.3 87.6 432.7 88.2 432.1 88.8 431.5 89.4 430.8 90.0 430.1 90.6 429.4 91.2 428.8 91.8 428.4 92.4 427.9 93.4 427.3 94.1 426.7 94.8 426.1 95.4 425.6 96.0 425.2Z"/><path fill="#12eca7" d="M96.6 426.6 97.3 426.7 98.4 427.2 99.0 427.6 99.6 427.9 100.5 428.5 101.4 429.1 102.0 429.5 102.6 430.0 103.2 430.6 103.8 431.1 104.4 431.7 105.0 432.3 105.6 432.9 106.2 433.7 106.7 434.5 107.1 435.1 107.4 435.7 108.0 436.5 108.6 437.3 109.2 437.9 109.8 438.5 110.4 439.0 111.0 439.5 111.6 439.9 112.3 440.5 113.1 441.1 113.8 441.7 114.5 442.3 115.1 442.9 115.7 443.5 116.1 444.1 116.3 445.3 115.8 446.5 115.4 447.1 115.0 447.7 114.5 448.3 113.9 448.9 113.4 449.6 112.8 450.2 112.2 450.9 111.6 451.5 111.0 452.1 110.4 452.7 109.8 453.4 109.2 454.0 108.6 454.7 108.0 455.3 107.4 455.9 106.8 456.5 106.2 457.1 105.6 457.7 105.0 458.3 104.4 458.9 103.8 459.4 103.2 459.8 102.4 460.3 101.5 460.9 100.8 461.4 100.2 461.9 99.6 462.4 99.0 462.8 98.1 463.3 97.2 463.9 96.6 464.1 95.4 464.0 94.8 463.5 94.2 462.7 93.8 462.1 93.4 461.5 93.0 460.8 92.4 460.0 91.8 459.3 91.2 458.7 90.6 458.2 90.0 457.7 89.4 457.1 88.8 456.4 88.2 455.5 87.8 454.9 87.5 454.3 87.0 453.5 86.4 452.7 85.8 452.0 85.2 451.5 84.6 451.0 84.0 450.5 83.4 450.0 82.7 449.5 81.9 448.9 81.2 448.3 80.7 447.7 80.3 447.1 80.1 445.9 80.4 445.2 81.0 444.2 81.4 443.5 81.8 442.9 82.2 442.2 82.7 441.1 82.9 440.5 83.4 439.4 83.7 438.7 84.0 438.1 84.6 437.3 85.2 436.6 85.8 436.0 86.4 435.4 87.0 434.8 87.6 434.2 88.2 433.6 88.8 433.0 89.4 432.4 90.0 431.7 90.6 431.0 91.1 430.3 91.7 429.7 92.4 429.3 93.0 428.9 93.7 428.5 94.6 427.9 95.3 427.3 96.0 426.9Z"/><path fill="#14e67a" d="M96.0 430.2 97.2 429.9 98.4 429.8 99.6 430.3 100.2 430.6 100.8 431.1 101.4 431.6 102.0 432.1 102.6 432.7 103.2 433.3 103.8 434.0 104.4 434.7 105.0 435.3 105.6 436.0 106.2 436.8 106.8 437.5 107.3 438.1 107.9 438.7 108.6 439.3 109.2 439.7 109.8 440.1 110.4 440.6 111.1 441.1 111.9 441.7 112.7 442.3 113.4 442.9 114.0 443.4 114.6 444.1 114.9 444.7 114.9 445.9 114.6 446.7 114.0 447.6 113.4 448.3 112.9 448.9 112.3 449.5 111.8 450.1 111.2 450.7 110.7 451.3 110.1 451.9 109.5 452.5 109.0 453.1 108.4 453.7 107.9 454.3 107.2 454.9 106.6 455.5 105.9 456.1 105.3 456.7 104.6 457.3 103.9 457.9 103.2 458.5 102.6 458.9 102.0 459.3 101.3 459.7 100.4 460.3 99.6 460.8 99.0 461.1 98.2 461.5 97.2 461.8 96.0 461.6 95.4 461.2 94.8 460.6 94.2 459.9 93.6 459.1 93.0 458.5 92.4 458.0 91.8 457.6 91.2 457.2 90.4 456.7 89.7 456.1 89.1 455.5 88.7 454.9 88.2 454.1 87.6 453.1 87.1 452.5 86.6 451.9 86.1 451.3 85.4 450.7 84.6 450.1 84.0 449.6 83.4 449.2 82.8 448.7 82.2 448.2 81.6 447.6 81.0 446.5 81.2 445.3 81.6 444.6 82.2 443.6 82.5 442.9 82.8 442.3 83.4 441.2 83.7 440.5 84.0 439.8 84.5 438.7 84.9 438.1 85.4 437.5 86.0 436.9 86.7 436.3 87.4 435.7 88.2 435.2 88.8 434.7 89.4 434.2 90.0 433.7 90.6 433.1 91.2 432.5 91.8 432.0 92.5 431.5 93.6 431.0 94.2 430.9 95.4 430.4Z"/><path fill="#14dd4b" d="M97.2 432.7 98.4 432.6 99.0 432.8 99.7 433.3 100.5 433.9 101.1 434.5 101.7 435.1 102.3 435.7 103.1 436.3 103.8 436.8 104.4 437.2 105.0 437.7 105.6 438.2 106.2 438.7 106.9 439.3 107.7 439.9 108.5 440.5 109.2 441.0 109.8 441.4 110.4 441.8 111.0 442.3 111.8 442.9 112.5 443.5 113.2 444.1 113.6 444.7 113.9 445.9 113.4 447.1 113.0 447.7 112.5 448.3 112.0 448.9 111.5 449.5 110.9 450.1 110.4 450.7 109.8 451.4 109.2 452.0 108.6 452.7 108.0 453.3 107.4 453.9 106.8 454.5 106.2 455.0 105.5 455.5 104.8 456.1 104.1 456.7 103.3 457.3 102.6 457.8 102.0 458.2 101.4 458.6 100.3 459.1 99.6 459.5 99.0 459.7 97.8 459.9 97.0 459.7 96.1 459.1 95.4 458.5 94.8 457.9 94.3 457.3 93.6 456.7 93.0 456.2 92.4 456.0 91.2 455.6 90.6 455.3 90.0 454.9 89.3 454.3 88.8 453.5 88.2 452.6 87.7 451.9 87.2 451.3 86.7 450.7 85.9 450.1 85.2 449.6 84.6 449.1 84.0 448.7 83.4 448.3 82.7 447.7 82.2 446.9 81.9 445.9 82.2 445.2 82.7 444.1 83.0 443.5 83.4 442.9 83.9 441.7 84.2 441.1 84.6 440.4 85.1 439.3 85.6 438.7 86.1 438.1 86.7 437.5 87.5 436.9 88.2 436.6 88.8 436.2 89.9 435.7 90.6 435.3 91.2 435.0 92.0 434.5 93.0 434.1 93.7 433.9 94.8 433.6 95.5 433.3 96.6 432.9Z"/><path fill="#1bd925" d="M97.8 436.3 99.0 436.3 99.6 436.5 100.3 436.9 101.4 437.5 102.0 437.8 102.6 438.2 103.6 438.7 104.4 439.1 105.0 439.5 105.7 439.9 106.7 440.5 107.4 440.9 108.0 441.3 108.6 441.7 109.4 442.3 110.2 442.9 111.0 443.5 111.6 444.0 112.2 444.5 112.7 445.3 112.8 445.9 112.7 446.5 112.2 447.6 111.6 448.3 111.1 448.9 110.6 449.5 110.1 450.1 109.5 450.7 109.0 451.3 108.4 451.9 107.9 452.5 107.3 453.1 106.6 453.7 105.8 454.3 105.0 454.9 104.4 455.4 103.8 455.8 103.2 456.2 102.3 456.7 101.4 457.3 100.8 457.5 99.6 457.9 99.0 458.0 98.4 457.9 97.2 457.3 96.6 456.9 96.0 456.4 95.4 455.8 94.8 455.2 94.2 454.7 93.0 454.3 92.4 454.2 91.2 454.1 90.4 453.7 89.7 453.1 89.2 452.5 88.8 451.7 88.2 450.8 87.6 450.2 87.0 449.7 86.4 449.2 85.8 448.9 84.9 448.3 84.1 447.7 83.5 447.1 83.1 446.5 83.2 445.3 83.4 444.7 84.0 443.6 84.3 442.9 84.6 442.3 85.2 441.2 85.5 440.5 85.9 439.9 86.4 439.3 87.0 438.7 87.9 438.1 88.8 437.7 89.7 437.5 90.6 437.4 91.8 437.2 92.8 436.9 93.6 436.8 94.8 436.7 96.0 436.6 97.2 436.3Z"/><path fill="#35e01a" d="M99.6 439.9 100.2 440.0 101.4 440.1 102.6 440.4 103.2 440.5 104.4 441.0 105.0 441.2 106.0 441.7 106.8 442.1 107.4 442.4 108.1 442.9 109.1 443.5 109.8 444.0 110.4 444.5 111.0 445.1 111.4 445.9 111.3 447.1 111.0 447.8 110.4 448.6 109.8 449.4 109.2 450.1 108.6 450.7 108.0 451.3 107.4 451.9 106.8 452.5 106.2 452.9 105.6 453.3 104.8 453.7 103.8 454.2 103.2 454.5 102.0 454.9 101.4 455.1 100.2 455.4 99.0 455.2 98.4 454.9 97.4 454.3 96.6 453.7 96.0 453.2 95.4 452.7 94.8 452.3 93.7 451.9 93.0 451.7 91.8 451.8 91.0 451.3 90.6 450.4 90.1 449.5 89.6 448.9 89.0 448.3 88.2 447.7 87.6 447.3 87.0 446.9 86.4 446.5 85.8 445.7 85.8 444.9 86.2 444.1 86.6 443.5 87.0 442.8 87.5 441.7 88.1 441.1 88.2 441.1 88.2 442.3 87.9 442.9 88.2 443.8 88.8 444.4 89.4 444.7 90.6 445.0 91.4 444.7 92.0 444.1 92.4 443.4 92.7 442.3 93.0 441.6 93.6 441.0 94.8 441.0 96.0 441.0 97.2 440.7 97.8 440.4 99.0 439.9Z"/><path fill="#50e80f" d="M103.2 444.1 103.8 444.1 105.0 444.4 105.8 444.7 106.8 445.0 107.4 445.3 108.1 445.9 108.6 446.7 108.7 447.7 108.5 448.3 108.0 449.0 107.4 449.6 106.5 450.1 105.6 450.5 104.4 450.7 103.2 450.7 102.0 450.6 100.8 450.2 100.2 449.8 99.6 449.1 99.2 448.3 99.1 447.1 99.5 445.9 100.0 445.3 100.8 444.9 101.4 444.6 102.6 444.1Z"/></g>
</g>
<g clip-path="url(#hc1)" fill="none" stroke="#06323e" stroke-linecap="round" filter="url(#bblur)"><line x1="79.5" y1="443.7" x2="62.3" y2="430.3" stroke-width="1.6" stroke-opacity="0.28"/><line x1="79.5" y1="453.2" x2="60.6" y2="467.2" stroke-width="1.6" stroke-opacity="0.28"/></g>
<linearGradient id="bg1" x1="0" x2="1" y1="0" y2="0"><stop offset="0" stop-color="#7a7418"/><stop offset="0.15" stop-color="#b08a10"/><stop offset="0.35" stop-color="#c46408"/><stop offset="0.6" stop-color="#c02a06"/><stop offset="0.85" stop-color="#b81404"/><stop offset="1" stop-color="#b83006"/></linearGradient>
<linearGradient id="bh1" x1="0" x2="1" y1="0" y2="0"><stop offset="0" stop-color="#5a4a38"/><stop offset="1" stop-color="#34200a"/></linearGradient>
<g transform="rotate(1.8 80.80 446.60)">
<rect x="51.80" y="440.80" width="58.00" height="11.60" rx="5.80" fill="#1e6a10" opacity="0.55" filter="url(#bblur)"/>
<rect x="53.00" y="442.40" width="55.60" height="8.40" rx="4.20" fill="url(#bh1)" opacity="0.92" filter="url(#bblur)"/>
<rect x="54.60" y="443.90" width="52.20" height="5.4" rx="2.7" fill="#6e4a12" opacity="0.8" filter="url(#bblur)"/>
<rect x="55.50" y="444.90" width="50.10" height="3.4" rx="1.7" fill="url(#bg1)" filter="url(#cblur)"/>
</g>
<polygon fill="#ffe800" points="81.8,442.2 85.8,439.4 85.8,441.3 94.2,441.3 94.2,443.1 85.8,443.1 85.8,445.0"/>
<text class="se" x="90.20" y="394.90" font-size="10.6" font-weight="normal" font-style="normal" text-anchor="middle" fill="#000" >8-cell/4-cell L</text>
<text class="se" transform="translate(17.40,434.20) rotate(-90)" font-size="9.4" font-weight="bold" text-anchor="middle"><tspan font-style="italic">ln</tspan>(c(8-cell)/c(4-cell))</text>
<text class="se" x="134.60" y="524.60" font-size="9.6" font-weight="bold" font-style="italic" text-anchor="start" fill="#000" >ln(nrmsf)</text>
<linearGradient id="cbar" x1="0" x2="0" y1="0" y2="1"><stop offset="0.0000" stop-color="#d60000"/><stop offset="0.0625" stop-color="#f92b00"/><stop offset="0.1250" stop-color="#ff6e00"/><stop offset="0.1875" stop-color="#ffb000"/><stop offset="0.2500" stop-color="#efde00"/><stop offset="0.3125" stop-color="#c8f000"/><stop offset="0.3750" stop-color="#79ec07"/><stop offset="0.4375" stop-color="#40e415"/><stop offset="0.5000" stop-color="#14d728"/><stop offset="0.5625" stop-color="#14e577"/><stop offset="0.6250" stop-color="#0feec0"/><stop offset="0.6875" stop-color="#07e5f1"/><stop offset="0.7500" stop-color="#00c8ff"/><stop offset="0.8125" stop-color="#0096ff"/><stop offset="0.8750" stop-color="#0063ff"/><stop offset="0.9375" stop-color="#0132fe"/><stop offset="1.0000" stop-color="#040afc"/></linearGradient>
<rect x="143.1" y="426" width="4.6" height="65.8" fill="url(#cbar)"/>
<text class="se" x="142.30" y="419.30" font-size="9.7" font-weight="bold" font-style="normal" text-anchor="start" fill="#000" >PD</text>
<text class="sa" x="150.00" y="428.80" font-size="7.9" font-weight="normal" font-style="normal" text-anchor="start" fill="#000" >8</text>
<text class="sa" x="150.00" y="445.70" font-size="7.9" font-weight="normal" font-style="normal" text-anchor="start" fill="#000" >6</text>
<text class="sa" x="150.00" y="461.80" font-size="7.9" font-weight="normal" font-style="normal" text-anchor="start" fill="#000" >4</text>
<text class="sa" x="150.00" y="478.00" font-size="7.9" font-weight="normal" font-style="normal" text-anchor="start" fill="#000" >2</text>
<text class="sa" x="150.00" y="494.50" font-size="7.9" font-weight="normal" font-style="normal" text-anchor="start" fill="#000" >0</text>
<path d="M231.3,390.2 V504.3 H345.6" fill="none" stroke="#444" stroke-width="0.75"/>
<path d="M242.70,504.3 v-1.3 M251.80,504.3 v-1.3 M260.90,504.3 v-1.3 M270.00,504.3 v-2.4 M279.10,504.3 v-1.3 M288.20,504.3 v-1.3 M297.30,504.3 v-1.3 M306.40,504.3 v-1.3 M315.50,504.3 v-2.4 M324.60,504.3 v-1.3 M333.70,504.3 v-1.3 M231.3,502.40 h2.4 M231.3,491.30 h1.3 M231.3,480.20 h1.3 M231.3,469.10 h1.3 M231.3,458.00 h1.3 M231.3,446.90 h2.4 M231.3,435.80 h1.3 M231.3,424.70 h1.3 M231.3,413.60 h1.3 M231.3,402.50 h1.3 M231.3,391.40 h2.4" stroke="#222" stroke-width="0.7" fill="none"/>
<text class="sa" x="269.40" y="513.70" font-size="8.3" font-weight="normal" font-style="normal" text-anchor="middle" fill="#000" >−10</text>
<text class="sa" x="315.90" y="513.70" font-size="8.3" font-weight="normal" font-style="normal" text-anchor="middle" fill="#000" >−5</text>
<text class="sa" x="229.90" y="394.40" font-size="8.3" font-weight="normal" font-style="normal" text-anchor="end" fill="#000" >5</text>
<text class="sa" x="229.90" y="449.90" font-size="8.3" font-weight="normal" font-style="normal" text-anchor="end" fill="#000" >0</text>
<text class="sa" x="229.90" y="505.40" font-size="8.3" font-weight="normal" font-style="normal" text-anchor="end" fill="#000" >−5</text>
<clipPath id="hc2"><rect x="242.4" y="401.1" width="90.90" height="91.10"/></clipPath>
<g clip-path="url(#hc2)">
<rect x="242.4" y="401.1" width="90.90" height="91.10" fill="#040afc"/>
<ellipse cx="290" cy="446" rx="36" ry="38" fill="#1650ff" opacity="0.75" filter="url(#gblur)"/>
<g fill-rule="evenodd" stroke="#052a52" stroke-opacity="0.62" stroke-width="0.42" stroke-linejoin="round"><path fill="#0130fe" d="M302.8 399.1 303.9 399.1 304.4 399.7 304.6 400.4 305.2 401.2 305.6 402.1 306.1 402.7 306.4 403.5 307.0 404.5 307.4 405.1 307.7 405.7 308.2 406.9 308.6 407.5 309.1 408.1 309.5 408.7 310.0 409.4 310.6 410.2 311.1 411.1 311.6 411.7 312.1 412.3 312.4 413.0 313.0 414.1 313.4 414.7 313.6 415.3 314.2 416.1 314.8 417.0 315.3 417.7 315.6 418.3 316.0 418.9 316.6 419.8 317.1 420.7 317.5 421.3 317.8 421.9 318.3 423.1 318.8 423.7 319.0 424.9 319.3 425.5 319.6 426.1 320.2 427.3 320.5 427.9 320.8 428.8 321.1 429.7 321.4 430.9 321.6 431.5 321.9 432.7 322.0 433.4 322.4 434.5 322.6 435.3 323.0 436.3 323.2 437.0 323.6 438.1 323.9 438.7 324.3 439.9 324.6 440.5 325.0 441.7 325.3 442.3 325.6 442.9 326.2 444.1 326.6 444.7 326.8 445.4 327.1 446.5 327.0 447.7 326.8 448.4 326.4 449.5 326.1 450.1 325.6 451.0 325.0 451.9 324.8 452.5 324.4 453.1 324.1 454.3 323.8 455.4 323.6 456.1 323.2 457.2 323.2 457.9 322.9 459.1 322.6 459.7 322.4 460.9 322.0 462.1 322.0 462.7 321.5 463.9 321.3 464.5 321.1 465.7 320.7 466.3 320.2 467.4 319.9 468.1 319.5 468.7 319.0 469.7 318.5 470.5 318.2 471.1 317.8 471.7 317.2 472.7 316.6 473.4 316.0 474.0 315.4 474.6 314.8 475.2 314.2 475.8 313.6 476.4 313.0 477.0 312.4 477.6 311.9 478.3 311.8 478.9 311.0 479.5 310.6 480.7 310.2 481.3 309.8 481.9 309.4 482.5 308.8 483.5 308.2 484.3 307.9 484.9 307.5 485.5 307.0 486.4 306.4 487.3 306.2 487.9 305.7 488.5 305.2 489.5 305.2 490.3 304.5 490.9 304.0 491.7 303.4 492.4 302.8 492.8 301.6 492.9 301.0 492.7 300.0 492.1 299.4 491.5 299.2 490.9 298.6 489.8 298.3 489.1 297.9 488.5 297.4 487.8 296.8 487.2 296.2 486.5 295.6 485.5 295.1 484.9 294.6 484.3 294.4 483.7 293.8 483.1 293.2 482.4 292.6 481.8 292.0 481.2 291.4 480.6 290.8 480.0 290.2 479.3 289.6 478.6 289.0 477.7 288.4 477.1 287.9 476.5 287.3 475.9 286.7 475.3 286.2 474.7 286.0 474.1 285.4 473.2 284.8 472.5 284.2 471.8 283.8 471.1 283.4 470.5 283.0 469.3 282.8 468.7 282.4 467.8 281.9 466.9 281.4 466.3 281.0 465.7 280.4 465.1 280.0 464.4 279.4 463.5 278.8 462.9 278.2 462.3 277.6 461.8 277.0 461.2 276.4 460.6 275.8 460.2 274.6 460.2 274.0 460.6 273.3 460.9 272.5 461.5 271.6 462.0 271.0 462.5 270.4 462.7 269.2 463.2 268.6 463.3 267.4 463.7 266.8 464.1 266.1 464.5 265.4 465.1 264.7 465.7 264.1 466.3 263.6 466.9 262.9 467.5 262.1 468.1 261.4 468.7 260.8 469.1 260.2 469.5 259.6 469.9 258.8 470.5 257.9 471.1 257.2 471.5 256.6 471.8 255.4 472.3 254.8 472.6 253.9 472.9 253.0 473.2 251.8 473.3 250.6 473.2 250.0 472.8 249.0 472.3 248.5 471.7 248.2 470.5 248.0 469.9 248.0 468.7 248.2 467.5 248.4 466.9 248.8 466.1 249.4 465.2 250.0 464.6 250.6 464.1 251.2 463.7 251.8 463.2 252.4 462.6 253.0 461.8 253.6 461.1 254.2 460.3 254.8 459.8 255.2 459.1 255.6 458.5 256.0 457.9 256.6 456.9 256.8 456.1 256.6 455.5 255.4 455.3 254.2 455.3 253.0 455.5 252.2 455.5 251.2 455.6 250.6 455.5 249.4 455.3 248.3 454.9 247.6 454.7 246.7 454.3 245.8 453.7 245.2 453.4 244.6 452.8 244.0 452.1 243.5 451.3 243.2 450.7 242.8 449.5 242.7 448.9 242.8 447.7 242.9 447.1 243.2 445.9 243.4 444.7 243.5 444.1 243.8 442.9 244.1 442.3 244.6 441.4 245.2 440.8 245.8 440.5 246.9 439.9 247.6 439.6 248.3 439.3 249.4 438.9 250.6 438.7 251.2 438.4 252.4 438.3 253.6 438.2 254.2 438.1 255.4 437.8 256.6 437.5 256.9 436.9 256.6 436.1 256.0 435.6 255.4 435.0 254.8 434.5 254.1 433.9 253.3 433.3 252.6 432.7 252.0 432.1 251.5 431.5 251.0 430.9 250.6 430.1 250.1 429.1 250.0 428.5 249.7 427.3 249.8 426.1 250.0 425.4 250.6 424.4 251.2 423.8 251.8 423.3 252.4 422.9 253.6 422.8 254.7 423.1 255.4 423.3 256.0 423.8 256.9 424.3 257.6 424.9 258.4 425.3 259.0 425.8 259.6 426.2 260.4 426.7 261.3 427.3 262.0 427.8 262.6 428.2 263.2 428.6 263.8 429.2 264.6 429.7 265.5 430.3 266.2 430.7 266.8 431.0 267.6 431.5 268.5 432.1 269.2 432.6 269.8 433.0 270.4 433.5 271.0 433.9 272.0 434.5 272.8 434.8 273.7 435.1 274.6 435.3 275.8 435.2 276.4 434.8 277.0 434.1 277.4 433.3 277.7 432.7 278.2 431.9 278.8 431.0 279.1 430.3 279.6 429.7 280.1 429.1 280.6 428.5 281.2 427.9 282.0 427.3 282.5 426.7 282.9 425.5 283.0 424.7 283.2 423.7 283.6 423.1 284.2 422.0 284.6 421.3 285.1 420.7 285.5 420.1 286.0 419.2 286.6 418.4 287.2 417.7 287.8 417.2 288.4 416.6 289.0 416.0 289.6 415.5 290.2 414.9 290.8 414.4 291.4 413.9 292.0 413.3 292.6 412.6 293.2 411.7 293.6 411.1 294.0 410.5 294.5 409.9 295.0 409.1 295.6 408.3 296.2 407.6 296.5 406.9 297.1 406.3 297.6 405.7 298.1 405.1 298.6 404.4 299.2 403.6 299.8 402.9 300.4 402.3 301.0 401.6 301.6 401.0 302.0 400.3 302.3 399.7Z"/><path fill="#004dff" d="M301.6 403.8 302.8 403.4 303.9 403.9 304.4 404.5 304.8 405.1 305.2 405.8 305.8 406.9 306.1 407.5 306.4 408.1 307.0 409.0 307.5 409.9 307.9 410.5 308.3 411.1 308.8 412.0 309.3 412.9 309.6 413.5 310.0 414.3 310.5 415.3 310.9 415.9 311.3 416.5 311.8 417.4 312.2 418.3 312.6 418.9 313.0 419.6 313.6 420.5 314.2 421.3 314.6 421.9 315.0 422.5 315.4 423.1 316.0 424.1 316.4 424.9 316.6 425.5 317.2 426.7 317.5 427.3 317.8 427.9 318.4 429.0 318.7 429.7 319.0 430.4 319.4 431.5 319.6 432.1 320.0 433.3 320.2 434.0 320.5 435.1 320.8 436.2 321.1 436.9 321.4 437.9 321.7 438.7 322.0 439.8 322.2 440.5 322.5 441.7 322.7 442.3 323.1 443.5 323.4 444.1 323.8 445.1 324.0 445.9 323.9 447.1 323.7 447.7 323.2 448.9 323.0 449.5 322.6 450.3 322.3 451.3 322.0 452.1 321.8 453.1 321.5 454.3 321.4 454.9 321.0 456.1 320.8 456.8 320.4 457.9 320.2 458.7 320.0 459.7 319.7 460.9 319.5 461.5 319.3 462.7 319.0 463.5 318.7 464.5 318.4 465.2 317.9 466.3 317.6 466.9 317.2 467.7 316.6 468.7 316.2 469.3 315.8 469.9 315.4 470.5 314.8 471.2 314.2 471.9 313.6 472.5 313.0 473.1 312.4 473.7 311.8 474.3 311.2 474.9 310.6 475.6 310.0 476.3 309.5 477.1 309.2 477.7 308.8 478.5 308.3 479.5 308.0 480.1 307.6 480.8 307.0 481.8 306.6 482.5 306.3 483.1 305.8 483.8 305.2 484.8 304.7 485.5 304.3 486.1 303.7 486.7 302.8 487.2 301.6 486.8 301.0 486.1 300.5 485.5 300.0 484.9 299.3 484.3 298.7 483.7 298.0 483.1 297.4 482.5 296.8 482.0 296.2 481.5 295.6 481.1 295.0 480.7 294.0 480.1 293.3 479.5 292.6 478.9 292.1 478.3 291.6 477.7 291.2 477.1 290.8 476.5 290.2 475.7 289.6 475.1 289.0 474.5 288.4 473.8 287.8 473.1 287.2 472.3 286.8 471.7 286.3 471.1 286.0 470.5 285.4 469.5 284.9 468.7 284.5 468.1 284.1 467.5 283.6 466.8 283.0 466.1 282.4 465.3 281.8 464.5 281.4 463.9 281.0 463.3 280.6 462.5 280.0 461.6 279.4 460.9 278.9 460.3 278.3 459.7 277.8 459.1 277.2 458.5 276.4 457.9 275.2 458.2 274.6 458.5 273.7 459.1 272.8 459.7 272.2 460.0 271.6 460.4 270.7 460.9 269.8 461.4 269.2 461.6 268.0 462.1 267.4 462.3 266.5 462.7 265.6 463.2 265.0 463.7 264.4 464.1 263.8 464.7 263.2 465.2 262.6 465.8 262.0 466.3 261.4 466.9 260.6 467.5 259.7 468.1 259.0 468.6 258.4 469.0 257.8 469.3 256.8 469.9 256.0 470.3 255.4 470.6 254.3 471.1 253.6 471.4 252.5 471.7 251.8 471.7 251.2 471.6 250.5 471.1 250.0 470.0 249.9 469.3 249.9 468.1 250.0 467.5 250.6 466.4 251.2 465.8 251.8 465.2 252.4 464.6 253.0 463.9 253.5 463.3 254.0 462.7 254.5 462.1 255.0 461.5 255.6 460.9 256.0 460.3 256.6 459.5 257.2 458.5 257.6 457.9 258.1 457.3 258.7 456.7 259.4 456.1 260.1 455.5 260.6 454.9 260.9 454.3 260.3 453.7 259.6 453.6 258.4 453.7 257.8 453.8 256.6 453.9 255.4 453.8 254.2 453.9 253.0 454.0 251.8 454.1 250.6 454.1 249.4 453.7 248.8 453.6 247.6 453.1 247.0 452.8 246.4 452.4 245.8 451.8 245.2 451.0 244.8 450.1 244.6 448.9 244.7 447.7 244.9 446.5 245.1 445.3 245.2 444.7 245.5 443.5 245.8 442.9 246.4 442.3 247.3 441.7 248.2 441.3 248.8 441.0 250.0 440.5 250.6 440.3 251.8 440.0 252.4 439.9 253.6 439.6 254.8 439.4 255.5 439.3 256.6 439.1 257.8 438.9 258.5 438.7 259.6 438.2 259.9 437.5 259.5 436.9 259.0 436.3 258.3 435.7 257.7 435.1 257.1 434.5 256.5 433.9 255.9 433.3 255.2 432.7 254.4 432.1 253.6 431.5 253.0 430.9 252.5 430.3 252.1 429.7 251.8 429.0 251.4 427.9 251.3 426.7 251.7 425.5 252.2 424.9 253.0 424.5 254.2 424.5 254.9 424.9 255.8 425.5 256.6 426.0 257.2 426.3 257.8 426.7 258.8 427.3 259.6 427.9 260.2 428.3 260.8 428.7 261.4 429.1 262.3 429.7 263.2 430.3 263.8 430.7 264.4 431.1 265.1 431.5 266.2 432.1 266.8 432.5 267.4 432.9 268.0 433.3 268.8 433.9 269.7 434.5 270.4 434.9 271.0 435.3 271.9 435.7 272.8 436.1 273.4 436.3 274.6 436.9 275.2 437.1 276.4 437.2 277.0 436.8 277.6 436.0 278.2 435.1 278.5 434.5 278.9 433.9 279.4 433.2 280.0 432.3 280.6 431.5 281.1 430.9 281.7 430.3 282.4 429.8 283.0 429.2 283.6 428.6 284.0 427.9 284.4 427.3 284.8 426.7 285.4 425.5 285.6 424.9 286.0 423.9 286.4 423.1 286.9 422.5 287.4 421.9 287.9 421.3 288.4 420.7 289.0 419.7 289.5 418.9 289.9 418.3 290.3 417.7 290.8 417.1 291.4 416.5 292.0 415.8 292.6 415.0 293.2 414.3 293.8 413.5 294.2 412.9 294.6 412.3 295.0 411.7 295.6 410.9 296.2 410.1 296.8 409.4 297.4 408.8 298.0 408.2 298.5 407.5 298.9 406.9 299.3 406.3 299.8 405.6 300.4 404.8 301.0 404.2Z"/><path fill="#006bff" d="M302.2 404.9 302.9 405.1 303.6 405.7 304.1 406.3 304.6 407.3 305.1 408.1 305.4 408.7 305.8 409.4 306.4 410.4 306.8 411.1 307.2 411.7 307.6 412.5 308.1 413.5 308.4 414.1 308.8 415.1 309.2 415.9 309.5 416.5 310.0 417.3 310.5 418.3 310.9 418.9 311.2 419.5 311.8 420.5 312.3 421.3 312.7 421.9 313.1 422.5 313.6 423.2 314.2 424.2 314.6 424.9 315.0 425.5 315.4 426.4 315.8 427.3 316.1 427.9 316.6 428.8 317.1 429.7 317.4 430.3 317.8 431.2 318.2 432.1 318.4 432.7 318.8 433.9 319.0 434.6 319.3 435.7 319.6 436.7 319.9 437.5 320.2 438.5 320.4 439.3 320.8 440.5 320.9 441.1 321.2 442.3 321.4 443.2 321.6 444.1 322.0 445.3 322.1 445.9 322.0 447.1 321.9 447.7 321.5 448.9 321.3 449.5 320.9 450.7 320.7 451.3 320.4 452.5 320.2 453.2 319.9 454.3 319.6 455.2 319.3 456.1 319.0 456.9 318.7 457.9 318.4 458.9 318.2 459.7 318.0 460.9 317.8 462.1 317.7 462.7 317.4 463.9 317.1 464.5 316.6 465.7 316.3 466.3 315.9 466.9 315.4 467.8 314.8 468.7 314.4 469.3 314.0 469.9 313.5 470.5 313.0 471.1 312.4 471.7 311.8 472.3 311.2 472.9 310.6 473.5 310.0 474.1 309.4 474.9 308.8 475.8 308.4 476.5 308.1 477.1 307.6 478.2 307.3 478.9 306.9 479.5 306.4 480.4 305.9 481.3 305.6 481.9 305.2 482.5 304.6 483.6 304.1 484.3 303.5 484.9 302.8 485.3 301.6 484.9 301.0 484.4 300.4 483.9 299.8 483.3 299.2 482.8 298.6 482.2 298.0 481.7 297.4 481.2 296.7 480.7 295.7 480.1 295.0 479.7 294.4 479.3 293.8 478.8 293.2 478.3 292.6 477.6 292.0 476.8 291.4 476.0 290.9 475.3 290.3 474.7 289.8 474.1 289.2 473.5 288.7 472.9 288.2 472.3 287.8 471.7 287.2 471.0 286.6 470.0 286.1 469.3 285.7 468.7 285.4 468.1 284.8 467.3 284.2 466.5 283.6 465.7 283.1 465.1 282.6 464.5 282.1 463.9 281.8 463.3 281.2 462.3 280.7 461.5 280.3 460.9 279.9 460.3 279.4 459.7 278.8 459.0 278.2 458.3 277.6 457.6 277.0 456.9 276.4 456.6 275.7 456.7 274.7 457.3 274.0 457.8 273.4 458.2 272.8 458.6 272.0 459.1 271.0 459.6 270.4 460.0 269.7 460.3 268.6 460.8 268.0 461.0 266.8 461.5 266.2 461.8 265.6 462.1 264.6 462.7 263.8 463.3 263.2 463.8 262.6 464.3 262.0 464.8 261.4 465.3 260.8 465.8 260.2 466.3 259.4 466.9 258.5 467.5 257.8 467.9 257.2 468.3 256.4 468.7 255.4 469.1 254.8 469.4 253.6 469.7 252.4 469.7 251.8 469.2 251.6 468.1 251.8 467.4 252.4 466.4 253.0 465.7 253.5 465.1 253.9 464.5 254.4 463.9 254.8 463.3 255.4 462.6 256.0 461.9 256.6 461.2 257.2 460.4 257.7 459.7 258.1 459.1 258.5 458.5 259.0 457.8 259.6 457.3 260.3 456.7 261.0 456.1 261.6 455.5 262.2 454.9 262.6 454.3 263.0 453.1 262.0 452.6 261.4 452.5 260.2 452.5 259.5 452.5 258.4 452.6 257.2 452.8 256.0 452.8 254.8 452.8 253.6 453.0 252.5 453.1 251.8 453.1 251.1 453.1 250.0 452.9 248.8 452.5 248.2 452.2 247.6 451.9 246.9 451.3 246.4 450.7 245.9 449.5 245.8 448.3 245.9 447.1 246.2 445.9 246.4 445.0 246.7 444.1 247.1 443.5 247.7 442.9 248.8 442.3 249.4 442.0 250.3 441.7 251.2 441.4 252.3 441.1 253.0 440.9 254.2 440.6 254.8 440.4 256.0 440.1 257.2 440.0 257.8 439.9 259.0 439.7 260.2 439.6 261.4 439.6 262.6 439.4 262.7 438.7 262.3 438.1 261.9 437.5 261.3 436.9 260.7 436.3 259.9 435.7 259.2 435.1 258.6 434.5 258.0 433.9 257.5 433.3 257.0 432.7 256.4 432.1 255.9 431.5 255.3 430.9 254.7 430.3 254.2 429.7 253.6 428.8 253.3 427.9 253.6 426.7 254.2 426.7 254.8 426.9 255.7 427.3 256.6 427.7 257.2 427.9 258.3 428.5 259.0 428.9 259.6 429.3 260.3 429.7 261.2 430.3 262.0 430.7 262.6 431.1 263.3 431.5 264.3 432.1 265.0 432.5 265.6 432.8 266.4 433.3 267.3 433.9 268.0 434.4 268.6 434.8 269.2 435.2 270.0 435.7 271.0 436.2 271.6 436.5 272.5 436.9 273.4 437.3 274.0 437.5 275.1 438.1 275.8 438.4 277.0 438.1 277.5 437.5 277.9 436.9 278.3 436.3 278.8 435.5 279.4 434.6 279.9 433.9 280.3 433.3 280.8 432.7 281.3 432.1 281.9 431.5 282.5 430.9 283.1 430.3 283.7 429.7 284.2 429.0 284.8 428.0 285.2 427.3 285.6 426.7 286.0 426.0 286.6 424.9 286.9 424.3 287.3 423.7 287.8 423.0 288.4 422.3 289.0 421.6 289.6 420.7 289.9 420.1 290.3 419.5 290.8 418.7 291.4 417.9 292.0 417.1 292.5 416.5 292.9 415.9 293.3 415.3 293.8 414.7 294.4 413.8 295.0 413.0 295.5 412.3 295.9 411.7 296.3 411.1 296.8 410.5 297.4 409.9 298.0 409.2 298.6 408.6 299.2 407.9 299.8 407.0 300.3 406.3 300.9 405.7 301.6 405.1Z"/><path fill="#008aff" d="M301.6 406.2 302.7 406.3 303.3 406.9 303.7 407.5 304.0 408.1 304.6 409.2 305.0 409.9 305.4 410.5 305.8 411.2 306.4 412.3 306.8 412.9 307.0 413.5 307.6 414.7 307.8 415.3 308.2 416.1 308.7 417.1 309.0 417.7 309.4 418.4 310.0 419.4 310.4 420.1 310.7 420.7 311.2 421.5 311.8 422.5 312.2 423.1 312.6 423.7 313.0 424.4 313.6 425.5 313.9 426.1 314.2 426.8 314.7 427.9 315.1 428.5 315.4 429.1 316.0 430.2 316.4 430.9 316.7 431.5 317.2 432.6 317.5 433.3 317.8 434.3 318.1 435.1 318.4 436.3 318.5 436.9 318.9 438.1 319.1 438.7 319.4 439.9 319.6 440.5 319.9 441.7 320.1 442.9 320.2 443.6 320.4 444.7 320.7 445.9 320.7 447.1 320.3 448.3 320.2 448.9 319.8 450.1 319.6 450.8 319.3 451.9 319.0 453.0 318.8 453.7 318.4 454.8 318.2 455.5 317.8 456.6 317.6 457.3 317.2 458.5 317.0 459.1 316.8 460.3 316.6 461.5 316.6 462.1 316.3 463.3 316.0 464.2 315.6 465.1 315.2 465.7 314.8 466.5 314.2 467.5 313.8 468.1 313.5 468.7 313.0 469.4 312.4 470.2 311.8 470.9 311.2 471.5 310.6 472.1 310.0 472.7 309.4 473.3 308.8 474.0 308.3 474.7 307.9 475.3 307.6 475.9 307.1 477.1 306.8 477.7 306.4 478.5 305.9 479.5 305.5 480.1 305.2 480.7 304.6 481.8 304.2 482.5 303.9 483.1 303.4 483.7 302.2 484.1 301.4 483.7 300.6 483.1 300.0 482.5 299.3 481.9 298.6 481.3 298.0 480.9 297.4 480.5 296.8 480.1 295.8 479.5 295.0 479.0 294.4 478.6 293.8 478.1 293.2 477.5 292.6 476.8 292.0 475.9 291.5 475.3 291.0 474.7 290.4 474.1 289.9 473.5 289.4 472.9 288.9 472.3 288.4 471.7 287.8 470.9 287.2 470.1 286.7 469.3 286.3 468.7 285.9 468.1 285.4 467.3 284.8 466.5 284.2 465.8 283.6 465.1 283.1 464.5 282.7 463.9 282.3 463.3 281.8 462.5 281.2 461.5 280.8 460.9 280.5 460.3 280.0 459.7 279.4 459.0 278.8 458.2 278.2 457.5 277.6 456.7 277.1 456.1 276.4 455.7 275.2 456.1 274.6 456.5 274.0 456.9 273.4 457.3 272.5 457.9 271.6 458.4 271.0 458.8 270.3 459.1 269.2 459.6 268.6 459.9 267.6 460.3 266.8 460.6 266.2 460.9 265.0 461.5 264.4 461.9 263.8 462.2 263.1 462.7 262.3 463.3 261.4 463.9 260.8 464.3 260.2 464.8 259.6 465.2 258.9 465.7 257.8 466.3 257.2 466.6 256.4 466.9 255.4 467.1 254.6 466.9 254.8 465.8 255.1 465.1 255.4 464.5 256.0 463.6 256.6 462.8 257.2 462.1 257.7 461.5 258.1 460.9 258.5 460.3 259.0 459.4 259.6 458.5 260.2 457.9 260.8 457.3 261.4 456.8 262.0 456.3 262.6 455.7 263.2 455.1 263.8 454.6 264.4 454.0 265.0 453.6 265.6 453.0 265.6 452.2 265.0 451.9 263.8 451.8 262.6 451.7 261.4 451.6 260.2 451.6 259.0 451.7 257.8 451.8 256.8 451.9 256.0 451.9 254.8 452.0 253.6 452.1 252.4 452.3 251.2 452.3 250.0 452.0 249.4 451.8 248.4 451.3 247.7 450.7 247.3 450.1 247.0 449.5 246.8 448.3 246.9 447.1 247.0 446.3 247.3 445.3 247.6 444.6 248.2 443.8 248.8 443.3 249.7 442.9 250.6 442.5 251.4 442.3 252.4 442.0 253.3 441.7 254.2 441.4 255.3 441.1 256.0 440.9 257.2 440.8 258.4 440.7 259.6 440.7 260.8 440.7 262.0 441.0 262.6 441.1 263.8 441.3 264.9 441.1 264.7 439.9 264.4 439.3 263.8 438.4 263.2 437.6 262.6 436.9 262.0 436.3 261.4 435.7 260.8 435.1 260.2 434.6 259.6 434.0 259.0 433.3 258.5 432.7 258.2 432.1 257.9 430.9 259.0 430.6 259.8 430.9 260.8 431.3 261.4 431.6 262.4 432.1 263.2 432.5 263.8 432.8 264.7 433.3 265.6 433.8 266.2 434.1 266.8 434.5 267.7 435.1 268.6 435.7 269.2 436.1 269.8 436.4 270.8 436.9 271.6 437.2 272.2 437.5 273.4 438.0 274.0 438.3 274.8 438.7 275.8 439.1 277.0 439.0 277.6 438.4 278.2 437.5 278.5 436.9 278.9 436.3 279.4 435.5 280.0 434.7 280.6 433.9 281.1 433.3 281.6 432.7 282.1 432.1 282.7 431.5 283.3 430.9 283.9 430.3 284.3 429.7 284.8 428.9 285.4 428.0 285.8 427.3 286.2 426.7 286.6 426.0 287.2 425.0 287.7 424.3 288.1 423.7 288.6 423.1 289.1 422.5 289.6 421.9 290.2 420.9 290.7 420.1 291.0 419.5 291.4 418.9 292.0 418.1 292.6 417.3 293.1 416.5 293.5 415.9 294.0 415.3 294.4 414.7 295.0 413.8 295.6 413.0 296.1 412.3 296.5 411.7 297.0 411.1 297.5 410.5 298.0 409.9 298.6 409.3 299.2 408.7 299.8 408.0 300.4 407.3 301.0 406.6Z"/><path fill="#00a8ff" d="M301.6 407.3 302.4 407.5 303.0 408.1 303.4 408.9 304.0 409.9 304.3 410.5 304.7 411.1 305.2 411.9 305.8 412.9 306.1 413.5 306.4 414.2 306.8 415.3 307.1 415.9 307.6 417.0 308.0 417.7 308.3 418.3 308.8 419.2 309.3 420.1 309.6 420.7 310.0 421.3 310.6 422.4 311.0 423.1 311.4 423.7 311.8 424.5 312.3 425.5 312.5 426.1 313.0 427.1 313.4 427.9 313.7 428.5 314.2 429.4 314.7 430.3 315.1 430.9 315.5 431.5 316.0 432.5 316.4 433.3 316.6 433.9 317.0 435.1 317.2 435.8 317.5 436.9 317.8 438.1 317.9 438.7 318.3 439.9 318.4 440.5 318.7 441.7 318.9 442.9 319.0 444.1 319.1 444.7 319.3 445.9 319.3 447.1 319.1 448.3 318.9 448.9 318.6 450.1 318.4 450.8 318.1 451.9 317.8 452.9 317.5 453.7 317.2 454.7 316.9 455.5 316.6 456.6 316.4 457.3 316.0 458.5 315.9 459.1 315.7 460.3 315.5 461.5 315.4 462.2 315.1 463.3 314.8 464.2 314.3 465.1 313.9 465.7 313.6 466.3 313.0 467.4 312.6 468.1 312.2 468.7 311.8 469.3 311.2 470.1 310.6 470.7 310.0 471.4 309.4 472.0 308.8 472.6 308.2 473.3 307.6 474.1 307.2 474.7 306.9 475.3 306.4 476.4 306.1 477.1 305.8 477.8 305.2 478.9 304.9 479.5 304.6 480.1 304.0 481.3 303.6 481.9 303.2 482.5 302.2 483.1 301.0 482.5 300.4 482.1 299.8 481.6 299.2 481.1 298.6 480.7 297.8 480.1 296.8 479.5 296.2 479.2 295.6 478.9 294.7 478.3 293.9 477.7 293.4 477.1 292.9 476.5 292.4 475.9 292.0 475.3 291.4 474.6 290.8 473.9 290.2 473.2 289.6 472.5 289.0 471.8 288.4 471.1 288.0 470.5 287.5 469.9 287.2 469.3 286.6 468.4 286.0 467.5 285.6 466.9 285.1 466.3 284.6 465.7 284.1 465.1 283.6 464.5 283.0 463.7 282.4 462.8 282.0 462.1 281.6 461.5 281.2 460.8 280.6 459.8 280.0 459.1 279.5 458.5 279.0 457.9 278.6 457.3 278.2 456.7 277.6 455.9 277.0 455.3 275.8 455.1 274.9 455.5 274.0 456.1 273.4 456.5 272.8 456.9 272.1 457.3 271.1 457.9 270.4 458.2 269.8 458.5 268.6 459.1 268.0 459.3 267.0 459.7 266.2 460.0 265.6 460.3 264.4 460.9 263.8 461.2 263.2 461.5 262.3 462.1 261.4 462.6 260.8 462.9 259.6 463.2 258.9 462.7 259.0 462.0 259.4 460.9 259.7 460.3 260.2 459.4 260.8 458.6 261.4 458.0 262.0 457.4 262.6 456.9 263.2 456.3 263.8 455.7 264.4 455.2 265.0 454.8 265.7 454.3 266.6 453.7 267.2 453.1 267.7 452.5 267.4 451.4 266.8 451.1 265.6 451.0 264.4 450.9 263.2 450.9 262.0 450.8 260.8 450.8 259.6 450.8 258.4 450.9 257.2 451.0 256.0 451.1 254.8 451.2 253.6 451.3 253.0 451.3 251.8 451.4 250.6 451.3 250.0 451.1 249.2 450.7 248.5 450.1 248.1 449.5 247.7 448.3 247.7 447.1 248.0 445.9 248.2 445.3 248.8 444.5 249.4 444.0 250.3 443.5 251.2 443.2 252.1 442.9 253.0 442.6 253.9 442.3 254.8 442.0 256.0 441.7 256.6 441.6 257.8 441.5 259.0 441.6 260.2 441.6 260.8 441.7 262.0 442.0 263.2 442.3 263.8 442.4 265.0 442.6 266.2 442.6 267.1 442.3 266.9 441.1 266.4 440.5 266.0 439.9 265.5 439.3 265.0 438.6 264.4 437.7 263.8 436.9 263.3 436.3 262.9 435.7 262.5 435.1 262.2 433.9 263.2 433.9 263.8 434.1 265.0 434.5 265.6 434.8 266.2 435.1 267.2 435.7 268.0 436.2 268.6 436.5 269.3 436.9 270.4 437.4 271.0 437.7 272.0 438.1 272.8 438.4 273.5 438.7 274.6 439.3 275.2 439.6 276.4 439.8 277.4 439.3 277.9 438.7 278.3 438.1 278.8 437.3 279.4 436.3 279.8 435.7 280.2 435.1 280.7 434.5 281.2 433.9 281.8 433.1 282.4 432.5 283.0 431.9 283.6 431.3 284.2 430.6 284.8 429.7 285.2 429.1 285.5 428.5 286.0 427.8 286.6 426.8 287.1 426.1 287.5 425.5 287.9 424.9 288.4 424.2 289.0 423.5 289.6 422.7 290.2 421.9 290.6 421.3 290.9 420.7 291.4 419.9 292.0 418.9 292.4 418.3 292.8 417.7 293.3 417.1 293.8 416.3 294.4 415.4 294.9 414.7 295.3 414.1 295.7 413.5 296.2 412.8 296.8 412.0 297.4 411.2 298.0 410.5 298.6 409.9 299.2 409.4 299.8 408.8 300.4 408.2 301.0 407.6Z"/><path fill="#00c6ff" d="M301.0 408.6 302.2 408.7 302.6 409.3 303.0 409.9 303.4 410.6 304.0 411.6 304.4 412.3 304.8 412.9 305.2 413.7 305.7 414.7 305.9 415.3 306.4 416.5 306.7 417.1 307.0 417.8 307.6 418.9 307.9 419.5 308.2 420.1 308.8 421.1 309.2 421.9 309.6 422.5 310.0 423.3 310.5 424.3 310.8 424.9 311.2 425.8 311.6 426.7 311.8 427.3 312.4 428.5 312.7 429.1 313.0 429.7 313.6 430.7 314.1 431.5 314.5 432.1 314.9 432.7 315.4 433.8 315.7 434.5 316.0 435.6 316.2 436.3 316.5 437.5 316.6 438.1 316.9 439.3 317.1 440.5 317.3 441.1 317.5 442.3 317.6 443.5 317.7 444.7 317.8 445.4 318.0 446.5 318.0 447.7 317.8 448.5 317.5 449.5 317.2 450.7 317.0 451.3 316.7 452.5 316.5 453.1 316.1 454.3 316.0 454.9 315.6 456.1 315.4 456.7 315.0 457.9 314.8 458.8 314.6 459.7 314.4 460.9 314.3 462.1 314.1 462.7 313.6 463.9 313.3 464.5 313.0 465.1 312.4 466.2 312.0 466.9 311.7 467.5 311.2 468.3 310.6 469.1 310.0 469.9 309.5 470.5 308.9 471.1 308.4 471.7 307.9 472.3 307.4 472.9 306.9 473.5 306.4 474.3 305.9 475.3 305.6 475.9 305.2 476.9 304.8 477.7 304.6 478.3 304.0 479.5 303.7 480.1 303.4 480.7 302.8 481.5 302.2 481.9 301.6 481.9 300.4 481.3 299.8 480.9 299.2 480.5 298.6 480.1 297.6 479.5 296.8 479.1 296.2 478.8 295.3 478.3 294.5 477.7 293.8 477.1 293.3 476.5 292.9 475.9 292.4 475.3 292.0 474.7 291.4 474.1 290.8 473.4 290.2 472.7 289.6 472.0 289.0 471.2 288.4 470.5 288.0 469.9 287.6 469.3 287.2 468.7 286.6 467.8 286.0 466.9 285.5 466.3 285.1 465.7 284.5 465.1 284.0 464.5 283.5 463.9 283.0 463.2 282.4 462.3 282.0 461.5 281.6 460.9 281.2 460.1 280.6 459.3 280.0 458.5 279.5 457.9 279.0 457.3 278.6 456.7 278.2 456.1 277.6 455.3 277.0 454.7 275.8 454.4 274.7 454.9 274.0 455.4 273.4 455.7 272.8 456.1 271.8 456.7 271.0 457.1 270.4 457.4 269.4 457.9 268.6 458.2 267.9 458.5 266.8 458.9 266.2 459.1 265.0 459.5 264.4 459.8 263.2 460.1 262.6 460.3 261.9 460.3 262.0 459.2 262.5 458.5 263.0 457.9 263.6 457.3 264.1 456.7 264.8 456.1 265.5 455.5 266.2 455.0 266.8 454.6 267.4 454.1 268.0 453.5 268.6 452.9 269.2 452.1 269.5 451.3 269.0 450.7 268.0 450.4 266.8 450.2 265.6 450.2 264.4 450.2 263.2 450.2 262.0 450.1 261.4 450.1 260.2 450.1 259.0 450.1 258.4 450.1 257.2 450.2 256.0 450.3 254.8 450.4 253.6 450.4 252.4 450.5 251.2 450.4 250.2 450.1 249.4 449.5 249.0 448.9 248.8 448.3 248.7 447.1 248.8 446.2 249.2 445.3 249.8 444.7 250.6 444.2 251.2 444.0 252.4 443.6 253.0 443.4 254.2 443.0 254.8 442.8 256.0 442.5 257.2 442.4 258.4 442.4 259.6 442.5 260.8 442.7 261.8 442.9 262.6 443.1 263.8 443.4 264.5 443.5 265.6 443.7 266.8 443.7 268.0 443.7 268.8 443.5 269.0 442.3 268.6 441.6 268.0 440.8 267.4 440.1 266.8 439.4 266.3 438.7 265.9 438.1 265.5 437.5 265.5 436.3 265.8 436.3 266.8 436.6 267.5 436.9 268.6 437.4 269.2 437.8 270.0 438.1 271.0 438.5 271.7 438.7 272.8 439.1 273.4 439.3 274.6 439.9 275.2 440.2 276.4 440.4 277.4 439.9 278.0 439.3 278.4 438.7 278.8 438.0 279.4 437.0 279.8 436.3 280.3 435.7 280.7 435.1 281.2 434.5 281.8 433.8 282.4 433.1 283.0 432.5 283.6 431.9 284.2 431.2 284.8 430.4 285.2 429.7 285.6 429.1 286.0 428.4 286.6 427.5 287.2 426.7 287.6 426.1 288.0 425.5 288.4 424.9 289.0 424.2 289.6 423.5 290.2 422.7 290.8 421.9 291.1 421.3 291.5 420.7 292.0 419.8 292.6 418.9 292.9 418.3 293.3 417.7 293.8 417.0 294.4 416.1 294.9 415.3 295.3 414.7 295.8 414.1 296.2 413.5 296.8 412.6 297.4 411.8 298.0 411.1 298.6 410.5 299.2 410.0 299.8 409.4 300.4 408.9Z"/><path fill="#04d8f7" d="M300.4 409.7 301.6 409.6 302.2 410.3 302.7 411.1 303.1 411.7 303.4 412.3 304.0 413.3 304.4 414.1 304.7 414.7 305.2 415.9 305.4 416.5 305.8 417.4 306.2 418.3 306.5 418.9 307.0 419.9 307.4 420.7 307.8 421.3 308.2 422.1 308.7 423.1 309.0 423.7 309.4 424.5 309.8 425.5 310.1 426.1 310.6 427.3 310.8 427.9 311.2 428.8 311.6 429.7 311.9 430.3 312.4 431.1 313.0 432.1 313.4 432.7 313.7 433.3 314.2 434.4 314.4 435.1 314.8 436.3 315.0 436.9 315.3 438.1 315.4 438.9 315.6 439.9 315.8 441.1 316.0 442.3 316.0 442.9 316.1 444.1 316.4 445.3 316.6 446.5 316.6 447.1 316.6 447.8 316.4 448.9 316.1 450.1 315.9 450.7 315.6 451.9 315.4 452.6 315.0 453.7 314.8 454.5 314.5 455.5 314.2 456.4 313.9 457.3 313.6 458.5 313.5 459.1 313.3 460.3 313.0 461.5 312.9 462.1 312.5 463.3 312.2 463.9 311.8 464.6 311.2 465.7 310.9 466.3 310.5 466.9 310.0 467.7 309.4 468.7 308.9 469.3 308.5 469.9 308.0 470.5 307.5 471.1 307.0 471.7 306.4 472.5 305.8 473.4 305.4 474.1 305.0 474.7 304.6 475.6 304.2 476.5 304.0 477.1 303.5 478.3 303.2 478.9 302.8 479.8 302.2 480.6 301.6 480.8 300.9 480.7 299.8 480.2 299.2 479.9 298.5 479.5 297.4 478.9 296.8 478.6 296.1 478.3 295.0 477.7 294.4 477.2 293.8 476.6 293.3 475.9 292.8 475.3 292.4 474.7 291.9 474.1 291.3 473.5 290.8 472.9 290.2 472.2 289.6 471.4 289.0 470.7 288.4 470.0 287.9 469.3 287.5 468.7 287.1 468.1 286.6 467.3 286.0 466.4 285.4 465.7 285.0 465.1 284.4 464.5 283.9 463.9 283.4 463.3 283.0 462.7 282.4 461.7 282.0 460.9 281.6 460.3 281.2 459.6 280.6 458.8 280.0 458.0 279.4 457.3 279.0 456.7 278.6 456.1 278.2 455.5 277.6 454.7 277.0 454.1 275.8 453.8 274.6 454.2 274.0 454.6 273.4 454.9 272.4 455.5 271.6 456.0 271.0 456.3 270.0 456.7 269.2 457.0 268.2 457.3 267.4 457.5 266.2 457.5 266.1 456.7 266.7 456.1 267.3 455.5 267.9 454.9 268.4 454.3 268.9 453.7 269.5 453.1 270.1 452.5 270.7 451.9 271.2 451.3 271.2 450.1 270.4 449.7 269.2 449.5 268.6 449.5 267.4 449.4 266.2 449.3 265.0 449.4 263.8 449.4 262.6 449.3 261.4 449.3 260.2 449.2 259.0 449.2 257.8 449.2 256.6 449.3 255.4 449.4 254.2 449.5 253.0 449.5 251.8 449.4 250.6 448.9 250.1 448.3 249.8 447.7 249.8 446.5 250.0 445.9 250.6 445.3 251.7 444.7 252.4 444.5 253.5 444.1 254.2 443.9 255.4 443.5 256.0 443.4 257.2 443.3 258.4 443.4 259.1 443.5 260.2 443.7 261.4 444.0 262.2 444.1 263.2 444.3 264.4 444.5 265.6 444.6 266.8 444.7 267.4 444.7 268.6 444.7 269.2 444.7 270.4 444.3 270.9 443.5 270.4 442.3 270.0 441.7 269.6 441.1 269.2 440.3 269.2 439.3 269.8 439.2 270.4 439.3 271.6 439.5 272.8 439.8 273.4 440.1 274.4 440.5 275.2 440.8 276.4 440.9 277.3 440.5 278.0 439.9 278.4 439.3 278.8 438.7 279.4 437.7 279.9 436.9 280.3 436.3 280.7 435.7 281.2 435.1 281.8 434.3 282.4 433.6 283.0 433.0 283.6 432.4 284.2 431.8 284.8 431.1 285.3 430.3 285.6 429.7 286.0 429.1 286.6 428.1 287.2 427.3 287.6 426.7 288.1 426.1 288.5 425.5 289.0 424.9 289.6 424.2 290.2 423.5 290.8 422.7 291.3 421.9 291.6 421.3 292.0 420.6 292.6 419.6 293.0 418.9 293.4 418.3 293.8 417.7 294.4 416.7 295.0 415.9 295.4 415.3 295.8 414.7 296.2 414.1 296.8 413.3 297.4 412.4 298.0 411.7 298.5 411.1 299.2 410.5 299.8 410.1Z"/><path fill="#08e9ee" d="M299.8 410.8 301.0 410.6 301.6 411.1 302.2 412.0 302.7 412.9 303.0 413.5 303.4 414.2 303.9 415.3 304.1 415.9 304.6 417.1 304.8 417.7 305.2 418.6 305.6 419.5 305.9 420.1 306.4 421.1 306.8 421.9 307.1 422.5 307.6 423.6 307.9 424.3 308.2 424.9 308.7 426.1 308.9 426.7 309.4 427.9 309.6 428.5 310.0 429.6 310.3 430.3 310.6 431.1 311.1 432.1 311.4 432.7 311.8 433.7 312.1 434.5 312.4 435.7 312.5 436.3 312.8 437.5 313.0 438.1 313.3 439.3 313.6 440.5 313.7 441.1 313.9 442.3 314.1 443.5 314.2 444.1 314.6 445.3 314.8 446.2 314.9 447.1 314.8 448.3 314.7 448.9 314.4 450.1 314.2 450.9 313.9 451.9 313.6 452.8 313.4 453.7 313.0 454.9 312.8 455.5 312.4 456.7 312.3 457.3 312.0 458.5 311.8 459.1 311.3 460.3 311.1 460.9 310.8 462.1 310.6 462.7 310.1 463.9 309.8 464.5 309.4 465.2 308.8 466.2 308.4 466.9 308.0 467.5 307.6 468.2 307.0 469.2 306.6 469.9 306.2 470.5 305.8 471.2 305.2 472.1 304.7 472.9 304.4 473.5 304.0 474.1 303.4 475.2 303.1 475.9 302.8 476.7 302.4 477.7 302.2 478.4 301.6 479.4 301.0 479.7 299.8 479.5 299.2 479.2 298.4 478.9 297.4 478.5 296.8 478.2 295.7 477.7 295.0 477.3 294.4 476.8 293.8 476.1 293.2 475.3 292.7 474.7 292.3 474.1 291.7 473.5 291.2 472.9 290.7 472.3 290.2 471.7 289.6 471.0 289.0 470.2 288.4 469.5 287.9 468.7 287.5 468.1 287.1 467.5 286.6 466.8 286.0 465.9 285.4 465.2 284.8 464.5 284.3 463.9 283.8 463.3 283.3 462.7 283.0 462.1 282.4 461.1 282.0 460.3 281.6 459.7 281.2 459.1 280.6 458.3 280.0 457.5 279.4 456.8 279.0 456.1 278.6 455.5 278.2 454.9 277.6 454.1 277.0 453.6 275.8 453.1 274.6 453.4 274.0 453.7 272.8 454.3 272.2 454.6 271.6 454.9 270.4 455.2 269.7 454.9 269.9 454.3 270.4 453.6 271.0 453.0 271.6 452.5 272.2 451.9 272.8 451.3 273.3 450.1 272.8 449.1 272.2 448.7 271.0 448.3 270.4 448.2 269.2 448.2 268.0 448.2 266.8 448.2 265.6 448.2 264.4 448.3 263.2 448.3 262.0 448.2 260.8 448.0 259.6 447.9 258.4 447.8 257.2 447.9 256.0 448.1 254.8 448.1 253.6 448.1 252.4 447.9 251.8 447.6 251.5 446.5 252.2 445.9 253.0 445.6 253.6 445.3 254.8 445.0 256.0 444.8 257.2 444.8 258.4 445.0 259.6 445.2 260.2 445.4 261.4 445.6 262.6 445.7 263.8 445.8 265.0 445.9 265.6 445.9 266.8 445.9 268.0 445.9 269.2 446.0 270.1 445.9 271.0 445.7 271.8 445.3 272.3 444.7 272.5 443.5 272.2 442.6 271.7 441.7 272.2 440.9 273.4 441.0 274.0 441.2 275.2 441.5 276.4 441.5 277.2 441.1 277.9 440.5 278.4 439.9 278.8 439.3 279.4 438.3 279.9 437.5 280.3 436.9 280.7 436.3 281.2 435.6 281.8 434.9 282.4 434.2 283.0 433.5 283.6 432.9 284.2 432.3 284.8 431.6 285.3 430.9 285.7 430.3 286.0 429.7 286.6 428.8 287.2 427.9 287.7 427.3 288.1 426.7 288.6 426.1 289.1 425.5 289.6 424.9 290.2 424.1 290.8 423.4 291.4 422.5 291.7 421.9 292.1 421.3 292.6 420.4 293.1 419.5 293.5 418.9 293.9 418.3 294.4 417.4 295.0 416.5 295.4 415.9 295.8 415.3 296.2 414.7 296.8 413.9 297.4 413.1 298.0 412.3 298.5 411.7 299.2 411.1Z"/><path fill="#0deed2" d="M299.8 411.6 300.6 411.7 301.2 412.3 301.6 413.0 302.1 414.1 302.4 414.7 302.8 415.8 303.1 416.5 303.4 417.4 303.8 418.3 304.0 418.9 304.6 420.1 304.8 420.7 305.2 421.5 305.6 422.5 305.9 423.1 306.4 424.3 306.7 424.9 307.0 425.8 307.3 426.7 307.6 427.6 307.9 428.5 308.2 429.5 308.5 430.3 308.8 431.4 309.0 432.1 309.4 433.3 309.6 433.9 309.8 435.1 310.0 436.3 310.0 436.9 310.3 438.1 310.6 439.3 310.8 439.9 311.2 441.1 311.4 441.7 311.8 442.9 312.0 443.5 312.3 444.7 312.5 445.3 312.8 446.5 312.8 447.7 312.6 448.9 312.4 449.9 312.1 450.7 311.8 451.8 311.6 452.5 311.3 453.7 311.2 454.3 310.7 455.5 310.5 456.1 310.1 457.3 309.8 457.9 309.4 459.0 309.1 459.7 308.8 460.5 308.4 461.5 308.2 462.2 307.7 463.3 307.4 463.9 307.0 464.7 306.4 465.7 306.1 466.3 305.8 467.0 305.3 468.1 305.0 468.7 304.6 469.8 304.3 470.5 304.0 471.1 303.4 472.2 303.0 472.9 302.6 473.5 302.2 474.2 301.7 475.3 301.4 475.9 301.0 477.1 300.8 477.7 300.4 478.3 299.2 478.4 298.5 478.3 297.4 478.0 296.6 477.7 295.6 477.3 295.0 476.8 294.4 476.3 293.8 475.6 293.2 474.8 292.6 474.1 292.1 473.5 291.6 472.9 291.1 472.3 290.6 471.7 290.1 471.1 289.6 470.5 289.0 469.7 288.4 468.9 287.9 468.1 287.5 467.5 287.1 466.9 286.6 466.2 286.0 465.4 285.4 464.7 284.8 464.0 284.2 463.3 283.7 462.7 283.3 462.1 282.9 461.5 282.4 460.5 282.0 459.7 281.6 459.1 281.2 458.5 280.6 457.8 280.0 457.0 279.4 456.2 278.9 455.5 278.6 454.9 278.2 454.3 277.6 453.6 277.0 453.0 276.0 452.5 275.2 452.2 274.6 451.9 274.5 450.7 274.3 449.5 274.0 448.9 273.4 448.1 272.8 447.2 272.7 446.5 272.9 445.9 273.4 444.9 273.7 444.1 274.0 443.1 274.6 442.5 275.3 442.3 276.4 442.0 277.0 441.7 277.8 441.1 278.4 440.5 278.8 439.9 279.4 439.0 279.9 438.1 280.3 437.5 280.7 436.9 281.2 436.2 281.8 435.4 282.4 434.7 283.0 434.1 283.6 433.4 284.2 432.8 284.8 432.2 285.4 431.5 285.8 430.9 286.1 430.3 286.6 429.4 287.2 428.5 287.7 427.9 288.1 427.3 288.6 426.7 289.1 426.1 289.6 425.5 290.2 424.8 290.8 424.0 291.4 423.2 291.9 422.5 292.2 421.9 292.6 421.2 293.2 420.1 293.6 419.5 293.9 418.9 294.4 418.1 295.0 417.1 295.4 416.5 295.8 415.9 296.2 415.3 296.8 414.5 297.4 413.7 298.0 412.9 298.6 412.3 299.2 411.8Z"/><path fill="#12eca7" d="M299.2 412.7 300.2 412.9 300.6 413.5 301.0 414.2 301.4 415.3 301.6 415.9 302.0 417.1 302.3 417.7 302.7 418.9 303.0 419.5 303.4 420.6 303.7 421.3 304.0 422.0 304.4 423.1 304.7 423.7 305.1 424.9 305.3 425.5 305.6 426.7 305.8 427.3 306.2 428.5 306.4 429.5 306.6 430.3 307.0 431.5 307.2 432.1 307.4 433.3 307.6 434.4 307.7 435.1 307.8 436.3 308.0 437.5 308.2 438.4 308.4 439.3 308.8 440.4 309.1 441.1 309.4 442.1 309.7 442.9 310.0 443.8 310.3 444.7 310.6 445.7 310.7 446.5 310.7 447.7 310.6 448.6 310.4 449.5 310.1 450.7 310.0 451.3 309.7 452.5 309.4 453.6 309.2 454.3 308.8 455.2 308.4 456.1 308.1 456.7 307.6 457.9 307.3 458.5 307.0 459.1 306.4 460.2 306.1 460.9 305.8 461.5 305.4 462.7 305.2 463.3 304.7 464.5 304.4 465.1 304.0 466.1 303.7 466.9 303.4 467.8 303.1 468.7 302.8 469.5 302.4 470.5 302.1 471.1 301.6 472.0 301.1 472.9 300.8 473.5 300.4 474.2 299.9 475.3 299.6 475.9 299.2 476.8 298.6 477.3 297.4 477.4 296.2 477.1 295.6 476.8 295.0 476.4 294.4 475.8 293.8 475.0 293.2 474.3 292.6 473.6 292.0 472.9 291.5 472.3 291.0 471.7 290.6 471.1 290.0 470.5 289.5 469.9 289.0 469.2 288.4 468.4 287.8 467.5 287.4 466.9 287.0 466.3 286.6 465.7 286.0 464.9 285.4 464.2 284.8 463.6 284.2 462.9 283.6 462.1 283.3 461.5 282.9 460.9 282.4 459.9 282.0 459.1 281.6 458.5 281.1 457.9 280.6 457.3 280.0 456.5 279.4 455.6 279.0 454.9 278.6 454.3 278.2 453.7 277.6 453.0 277.0 452.4 276.4 451.9 275.8 451.3 275.3 450.1 275.1 449.5 274.6 448.5 274.0 447.7 273.7 447.1 273.7 445.9 274.0 445.2 274.6 444.1 275.1 443.5 275.8 443.0 276.4 442.6 277.0 442.3 277.7 441.7 278.3 441.1 278.8 440.5 279.4 439.6 279.9 438.7 280.3 438.1 280.7 437.5 281.2 436.8 281.8 436.0 282.4 435.3 283.0 434.6 283.6 434.0 284.2 433.3 284.8 432.7 285.4 432.1 285.8 431.5 286.2 430.9 286.6 430.2 287.2 429.2 287.7 428.5 288.2 427.9 288.7 427.3 289.2 426.7 289.6 426.1 290.2 425.4 290.8 424.7 291.4 423.9 292.0 423.1 292.3 422.5 292.7 421.9 293.2 421.0 293.7 420.1 294.1 419.5 294.4 418.9 295.0 417.9 295.5 417.1 295.9 416.5 296.3 415.9 296.8 415.2 297.4 414.4 298.0 413.7 298.6 413.1Z"/><path fill="#14e67a" d="M299.2 414.0 299.8 414.4 300.3 415.3 300.5 415.9 300.9 417.1 301.1 417.7 301.5 418.9 301.7 419.5 302.1 420.7 302.3 421.3 302.7 422.5 302.9 423.1 303.4 424.3 303.6 424.9 303.9 426.1 304.0 426.8 304.2 427.9 304.6 429.1 304.8 429.7 305.0 430.9 305.2 431.5 305.5 432.7 305.7 433.9 305.8 435.1 305.9 435.7 306.0 436.9 306.2 438.1 306.4 439.1 306.7 439.9 307.0 440.7 307.4 441.7 307.6 442.4 308.0 443.5 308.2 444.1 308.6 445.3 308.8 446.5 308.8 447.1 308.8 447.7 308.6 448.9 308.3 450.1 308.2 450.7 307.9 451.9 307.6 452.7 307.2 453.7 307.0 454.3 306.5 455.5 306.2 456.1 305.8 457.0 305.3 457.9 304.9 458.5 304.6 459.1 304.0 460.3 303.7 460.9 303.4 461.8 303.1 462.7 302.8 463.7 302.6 464.5 302.2 465.7 302.0 466.3 301.7 467.5 301.5 468.1 301.1 469.3 300.8 469.9 300.4 470.8 299.9 471.7 299.6 472.3 299.2 473.0 298.7 474.1 298.4 474.7 298.0 475.7 297.4 476.4 296.8 476.5 296.2 476.5 295.2 475.9 294.6 475.3 294.1 474.7 293.6 474.1 293.1 473.5 292.5 472.9 292.0 472.3 291.4 471.6 290.8 470.8 290.2 470.1 289.6 469.4 289.1 468.7 288.7 468.1 288.3 467.5 287.8 466.8 287.2 465.9 286.6 465.1 286.1 464.5 285.6 463.9 285.0 463.3 284.5 462.7 284.0 462.1 283.6 461.4 283.0 460.3 282.7 459.7 282.4 459.1 281.8 458.2 281.2 457.5 280.6 456.7 280.1 456.1 279.7 455.5 279.4 454.9 278.8 454.0 278.2 453.1 277.7 452.5 277.2 451.9 276.7 451.3 276.3 450.7 275.8 449.5 275.5 448.9 275.1 448.3 274.6 447.5 274.3 446.5 274.6 445.4 275.0 444.7 275.5 444.1 276.1 443.5 277.0 442.9 277.6 442.4 278.2 441.8 278.8 441.1 279.3 440.5 279.7 439.9 280.0 439.3 280.6 438.3 281.2 437.5 281.6 436.9 282.1 436.3 282.6 435.7 283.1 435.1 283.7 434.5 284.2 433.9 284.8 433.3 285.4 432.7 286.0 432.0 286.6 431.0 287.0 430.3 287.4 429.7 287.8 429.1 288.4 428.3 289.0 427.6 289.6 426.9 290.2 426.1 290.7 425.5 291.2 424.9 291.7 424.3 292.1 423.7 292.6 422.9 293.2 421.9 293.5 421.3 293.9 420.7 294.4 419.8 294.9 418.9 295.3 418.3 295.6 417.7 296.2 416.8 296.8 416.0 297.3 415.3 297.9 414.7 298.6 414.1Z"/><path fill="#14dd4b" d="M298.0 415.7 299.1 415.9 299.4 416.5 299.8 417.6 300.0 418.3 300.4 419.5 300.6 420.1 300.9 421.3 301.1 421.9 301.5 423.1 301.6 423.7 302.0 424.9 302.2 425.8 302.3 426.7 302.5 427.9 302.8 429.1 302.9 429.7 303.2 430.9 303.4 431.6 303.6 432.7 303.9 433.9 304.0 435.0 304.1 435.7 304.2 436.9 304.4 438.1 304.6 439.1 304.9 439.9 305.2 440.8 305.6 441.7 305.8 442.3 306.3 443.5 306.5 444.1 306.7 445.3 306.9 446.5 306.8 447.7 306.6 448.9 306.4 449.8 306.2 450.7 305.8 451.8 305.5 452.5 305.2 453.1 304.7 454.3 304.5 454.9 304.0 456.0 303.6 456.7 303.3 457.3 302.8 458.2 302.3 459.1 302.1 459.7 301.6 460.8 301.4 461.5 301.1 462.7 300.9 463.3 300.7 464.5 300.5 465.7 300.3 466.3 300.0 467.5 299.8 468.1 299.4 469.3 299.1 469.9 298.6 470.8 298.2 471.7 297.9 472.3 297.4 473.5 297.1 474.1 296.8 474.8 296.2 475.4 295.6 475.3 294.8 474.7 294.2 474.1 293.7 473.5 293.1 472.9 292.6 472.3 292.0 471.6 291.4 470.8 290.8 470.1 290.2 469.4 289.6 468.7 289.2 468.1 288.8 467.5 288.4 466.9 287.8 466.1 287.2 465.2 286.6 464.5 286.2 463.9 285.6 463.3 285.1 462.7 284.5 462.1 284.1 461.5 283.6 460.6 283.1 459.7 282.8 459.1 282.4 458.4 281.8 457.5 281.2 456.8 280.6 456.1 280.2 455.5 279.8 454.9 279.4 454.2 278.8 453.2 278.3 452.5 277.8 451.9 277.4 451.3 277.0 450.7 276.5 449.5 276.2 448.9 275.8 448.2 275.2 447.2 275.0 446.5 275.2 445.6 275.8 444.7 276.4 444.1 277.0 443.6 277.6 443.0 278.2 442.4 278.8 441.8 279.3 441.1 279.8 440.5 280.1 439.9 280.6 439.1 281.2 438.2 281.7 437.5 282.2 436.9 282.7 436.3 283.2 435.7 283.8 435.1 284.3 434.5 284.9 433.9 285.5 433.3 286.1 432.7 286.6 432.0 287.2 431.0 287.6 430.3 288.0 429.7 288.4 429.1 289.0 428.4 289.6 427.7 290.2 427.0 290.8 426.2 291.4 425.5 291.9 424.9 292.3 424.3 292.7 423.7 293.2 422.9 293.8 421.9 294.2 421.3 294.5 420.7 295.0 419.8 295.5 418.9 295.9 418.3 296.3 417.7 296.8 417.0 297.4 416.3Z"/><path fill="#1bd925" d="M297.4 418.3 298.0 418.3 298.6 419.5 298.8 420.1 299.2 421.3 299.4 421.9 299.7 423.1 299.8 423.7 300.1 424.9 300.3 426.1 300.4 426.7 300.6 427.9 300.8 429.1 301.0 430.0 301.2 430.9 301.5 432.1 301.7 432.7 301.9 433.9 302.2 435.1 302.3 435.7 302.5 436.9 302.7 438.1 302.9 438.7 303.3 439.9 303.5 440.5 304.0 441.7 304.2 442.3 304.6 443.3 304.9 444.1 305.2 445.3 305.2 445.9 305.2 446.9 305.1 447.7 304.8 448.9 304.6 449.6 304.3 450.7 304.0 451.3 303.5 452.5 303.2 453.1 302.8 454.0 302.4 454.9 302.1 455.5 301.6 456.5 301.1 457.3 300.8 457.9 300.4 458.8 300.0 459.7 299.8 460.3 299.5 461.5 299.2 462.5 299.0 463.3 298.8 464.5 298.6 465.4 298.4 466.3 298.1 467.5 297.9 468.1 297.5 469.3 297.2 469.9 296.8 470.7 296.3 471.7 296.0 472.3 295.6 473.0 294.4 472.9 293.8 472.4 293.2 471.8 292.6 471.2 292.1 470.5 291.6 469.9 291.0 469.3 290.5 468.7 290.0 468.1 289.5 467.5 289.0 466.7 288.4 465.9 287.8 465.1 287.4 464.5 287.0 463.9 286.4 463.3 285.9 462.7 285.3 462.1 284.7 461.5 284.2 460.7 283.7 459.7 283.5 459.1 283.0 458.3 282.4 457.4 281.8 456.7 281.3 456.1 280.8 455.5 280.4 454.9 280.0 454.3 279.4 453.3 278.9 452.5 278.5 451.9 278.1 451.3 277.6 450.4 277.2 449.5 276.9 448.9 276.4 447.9 276.0 447.1 275.9 445.9 276.4 445.1 277.0 444.5 277.6 443.9 278.2 443.2 278.8 442.6 279.4 441.8 279.9 441.1 280.4 440.5 280.7 439.9 281.2 439.2 281.8 438.3 282.4 437.5 282.9 436.9 283.5 436.3 284.0 435.7 284.6 435.1 285.2 434.5 285.8 433.9 286.4 433.3 287.0 432.7 287.4 432.1 287.8 431.4 288.4 430.3 288.9 429.7 289.3 429.1 289.8 428.5 290.3 427.9 290.8 427.3 291.4 426.5 292.0 425.8 292.6 425.0 293.2 424.3 293.6 423.7 294.0 423.1 294.4 422.4 295.0 421.4 295.4 420.7 295.8 420.1 296.2 419.5 296.8 418.8Z"/><path fill="#35e01a" d="M294.4 425.2 295.6 425.0 296.2 425.7 296.7 426.7 296.9 427.3 297.4 428.5 297.6 429.1 298.0 430.1 298.2 430.9 298.6 432.1 298.8 432.7 299.2 433.9 299.4 434.5 299.8 435.7 300.0 436.3 300.4 437.3 300.8 438.1 301.0 438.7 301.6 439.9 301.8 440.5 302.2 441.3 302.6 442.3 302.9 442.9 303.3 444.1 303.5 444.7 303.7 445.9 303.7 447.1 303.4 448.2 303.2 448.9 302.8 449.9 302.5 450.7 302.2 451.3 301.6 452.4 301.3 453.1 301.0 453.7 300.4 454.8 299.9 455.5 299.6 456.1 299.2 456.7 298.6 457.8 298.2 458.5 297.9 459.1 297.4 460.2 297.1 460.9 296.8 461.6 296.4 462.7 296.2 463.5 295.9 464.5 295.6 465.7 295.4 466.3 295.0 467.4 294.6 468.1 293.8 468.6 292.6 468.2 292.0 467.9 291.4 467.4 290.8 466.8 290.2 466.1 289.6 465.3 289.0 464.6 288.6 463.9 288.2 463.3 287.7 462.7 287.2 462.1 286.4 461.5 285.6 460.9 285.1 460.3 284.7 459.7 284.2 458.5 284.0 457.9 283.6 457.3 283.0 456.5 282.4 456.0 281.8 455.4 281.2 454.7 280.6 453.8 280.2 453.1 279.8 452.5 279.4 451.9 278.8 450.9 278.4 450.1 278.2 449.5 277.8 448.3 277.5 447.7 277.2 446.5 277.6 445.3 278.1 444.7 278.5 444.1 279.0 443.5 279.4 442.9 280.0 442.2 280.6 441.4 281.2 440.5 281.6 439.9 282.1 439.3 282.5 438.7 283.0 438.1 283.6 437.5 284.2 436.8 284.8 436.2 285.4 435.6 286.0 435.0 286.6 434.5 287.3 433.9 288.0 433.3 288.6 432.7 289.0 432.0 289.6 431.0 290.1 430.3 290.6 429.7 291.0 429.1 291.4 428.5 292.0 427.7 292.6 426.9 293.2 426.2 293.8 425.7Z"/><path fill="#50e80f" d="M289.0 438.1 290.2 437.8 291.4 437.7 292.6 438.0 293.2 438.2 294.4 438.4 295.6 438.3 296.8 438.3 297.8 438.7 298.6 439.3 299.1 439.9 299.5 440.5 299.9 441.1 300.4 441.9 300.9 442.9 301.2 443.5 301.6 444.4 301.9 445.3 302.0 446.5 301.8 447.7 301.6 448.3 301.0 449.4 300.5 450.1 300.2 450.7 299.8 451.4 299.2 452.4 298.7 453.1 298.1 453.7 297.4 454.2 296.8 454.7 296.2 455.1 295.3 455.5 294.4 455.7 293.5 455.5 292.6 455.2 291.9 454.9 290.8 454.6 289.6 454.5 288.4 454.5 287.2 454.4 286.6 454.3 285.4 453.9 284.7 453.7 283.6 453.3 283.0 453.1 282.3 452.5 281.7 451.9 281.2 451.1 280.7 450.1 280.5 449.5 280.1 448.3 280.0 447.7 279.9 446.5 279.9 445.3 280.1 444.7 280.6 443.7 281.2 442.9 281.8 442.3 282.4 441.8 283.0 441.2 283.6 440.6 284.2 439.9 284.8 439.4 285.4 439.0 286.4 438.7 287.2 438.5 288.4 438.2Z"/><path fill="#76ec07" d="M290.2 442.2 291.4 442.0 292.6 441.9 293.8 442.0 294.8 442.3 295.6 442.8 296.2 443.3 296.8 443.8 297.4 444.4 298.0 445.0 298.5 445.9 298.4 447.1 298.0 447.9 297.4 448.9 296.9 449.5 296.3 450.1 295.6 450.6 295.0 450.9 293.9 451.3 293.2 451.4 292.0 451.4 290.8 451.4 290.2 451.2 289.2 450.7 288.4 450.3 287.8 449.9 287.2 449.5 286.6 448.9 286.2 447.7 286.1 446.5 286.2 445.3 286.6 444.3 287.2 443.6 287.8 443.1 288.4 442.7 289.6 442.3Z"/></g>
</g>
<g clip-path="url(#hc2)" fill="none" stroke="#06323e" stroke-linecap="round" filter="url(#bblur)"><line x1="275.5" y1="445.1" x2="256.6" y2="431.4" stroke-width="1.8" stroke-opacity="0.38"/><line x1="275.5" y1="452.3" x2="255.7" y2="467.1" stroke-width="1.8" stroke-opacity="0.34"/></g>
<linearGradient id="bg2" x1="0" x2="1" y1="0" y2="0"><stop offset="0" stop-color="#6e8c08"/><stop offset="0.14" stop-color="#bca808"/><stop offset="0.28" stop-color="#e05800"/><stop offset="0.38" stop-color="#e81400"/><stop offset="0.5" stop-color="#dc7400"/><stop offset="0.75" stop-color="#d2a008"/><stop offset="1" stop-color="#b0b010"/></linearGradient>
<g transform="rotate(0 274.70 446.50)">
<rect x="247.80" y="439.80" width="53.80" height="13.40" rx="6.70" fill="#4a7a18" opacity="0.55" filter="url(#bblur)"/>
<rect x="249.00" y="441.40" width="51.40" height="10.20" rx="5.10" fill="#6a6410" opacity="0.85" filter="url(#bblur)"/>
<rect x="250.60" y="443.30" width="48.00" height="6.4" rx="3.2" fill="#a8981c" opacity="0.8" filter="url(#bblur)"/>
<rect x="251.50" y="444.60" width="45.90" height="3.8" rx="1.9" fill="url(#bg2)" filter="url(#cblur)"/>
</g>
<polygon fill="#ffe800" points="288.6,441.9 284.4,439.0 284.4,440.9 273.8,440.9 273.8,442.9 284.4,442.9 284.4,444.8"/>
<path d="M295.2,426.8 L302.4,446.5 L294.4,467.1" fill="none" stroke="#111" stroke-width="0.35" stroke-dasharray="1 0.8"/>
<g fill="#000"><circle cx="295.20" cy="426.80" r="0.75"/><circle cx="302.40" cy="446.50" r="0.75"/><circle cx="294.40" cy="467.10" r="0.75"/></g>
<line x1="302.4" x2="309.5" y1="446.5" y2="446.5" stroke="#111" stroke-width="0.35"/>
<text class="se" x="310.20" y="448.30" font-size="7.0" font-weight="bold" font-style="normal" text-anchor="start" fill="#000" >Scaling</text>
<text class="se" x="288.10" y="395.60" font-size="10.6" font-weight="normal" font-style="normal" text-anchor="middle" fill="#000" text-decoration="underline">Morula/8-cell</text>
<text class="se" transform="translate(212.60,438.40) rotate(-90)" font-size="9.4" font-weight="bold" text-anchor="middle"><tspan font-style="italic">ln</tspan>(c(Morula)/c(8-cell))</text>
<text class="se" x="325.50" y="524.50" font-size="9.6" font-weight="bold" font-style="italic" text-anchor="start" fill="#000" >ln(nrmsf)</text>
<path d="M413.8,390.8 V505.1 H529.0" fill="none" stroke="#444" stroke-width="0.75"/>
<path d="M425.84,505.1 v-1.3 M434.96,505.1 v-1.3 M444.08,505.1 v-1.3 M453.20,505.1 v-2.4 M462.32,505.1 v-1.3 M471.44,505.1 v-1.3 M480.56,505.1 v-1.3 M489.68,505.1 v-1.3 M498.80,505.1 v-2.4 M507.92,505.1 v-1.3 M517.04,505.1 v-1.3 M413.8,502.90 h2.4 M413.8,491.80 h1.3 M413.8,480.70 h1.3 M413.8,469.60 h1.3 M413.8,458.50 h1.3 M413.8,447.40 h2.4 M413.8,436.30 h1.3 M413.8,425.20 h1.3 M413.8,414.10 h1.3 M413.8,403.00 h1.3 M413.8,391.90 h2.4" stroke="#222" stroke-width="0.7" fill="none"/>
<text class="sa" x="452.60" y="514.50" font-size="8.3" font-weight="normal" font-style="normal" text-anchor="middle" fill="#000" >−10</text>
<text class="sa" x="499.20" y="514.50" font-size="8.3" font-weight="normal" font-style="normal" text-anchor="middle" fill="#000" >−5</text>
<text class="sa" x="412.40" y="395.00" font-size="8.3" font-weight="normal" font-style="normal" text-anchor="end" fill="#000" >5</text>
<text class="sa" x="412.40" y="450.40" font-size="8.3" font-weight="normal" font-style="normal" text-anchor="end" fill="#000" >0</text>
<text class="sa" x="412.40" y="506.00" font-size="8.3" font-weight="normal" font-style="normal" text-anchor="end" fill="#000" >−5</text>
<clipPath id="hc3"><rect x="425.8" y="401.8" width="91.10" height="90.80"/></clipPath>
<g clip-path="url(#hc3)">
<rect x="425.8" y="401.8" width="91.10" height="90.80" fill="#040afc"/>
<ellipse cx="476" cy="446" rx="34" ry="38" fill="#1650ff" opacity="0.75" filter="url(#gblur)"/>
<g fill-rule="evenodd" stroke="#052a52" stroke-opacity="0.62" stroke-width="0.42" stroke-linejoin="round"><path fill="#0130fe" d="M487.4 400.0 488.0 399.8 489.0 399.8 489.5 400.4 489.9 401.0 490.3 402.2 490.6 402.8 490.8 404.0 491.0 404.8 491.3 405.8 491.5 407.0 491.8 407.6 492.2 408.8 492.2 409.5 492.7 410.6 492.7 411.8 492.9 412.4 493.2 413.6 493.4 414.5 493.7 415.4 493.9 416.6 494.2 417.2 494.6 418.2 495.0 419.0 495.2 419.6 495.7 420.8 496.1 421.4 496.4 422.3 496.8 423.2 497.2 423.8 497.6 424.7 498.0 425.6 498.2 426.2 498.8 427.4 499.2 428.0 499.6 428.6 500.0 429.3 500.6 430.1 501.2 430.8 501.8 431.6 502.3 432.2 502.9 432.8 503.4 433.4 504.0 434.0 504.4 434.6 504.8 435.3 505.4 436.3 505.8 437.0 506.3 437.6 506.6 438.2 507.0 439.4 507.2 440.1 507.7 441.2 508.1 441.8 508.4 442.4 509.0 443.6 509.5 444.2 509.2 445.4 509.0 446.3 508.8 447.2 508.3 447.8 507.8 448.6 507.3 449.6 507.0 450.2 506.6 451.3 506.4 452.0 506.0 453.1 505.8 453.8 505.4 454.9 505.2 455.6 505.0 456.8 504.8 457.8 504.8 458.6 504.2 459.5 504.0 460.4 503.6 461.1 503.0 462.2 502.8 462.8 502.4 463.4 501.9 464.6 501.6 465.2 501.2 466.1 500.8 467.0 500.6 467.6 500.0 468.8 499.8 469.4 499.4 470.2 498.8 471.2 498.5 471.8 498.2 472.4 497.6 473.5 497.3 474.2 496.9 474.8 496.4 475.9 496.0 476.6 495.7 477.2 495.1 477.8 494.6 478.6 494.2 479.6 493.8 480.2 493.4 480.8 492.8 481.7 492.2 482.6 492.0 483.2 491.5 483.8 490.9 484.4 490.4 485.4 489.8 486.2 489.5 486.8 489.1 487.4 488.6 488.3 488.1 489.2 487.6 489.8 486.8 490.4 486.2 490.7 485.6 490.4 484.7 489.8 484.1 489.2 483.4 488.6 482.7 488.0 482.0 487.8 481.4 487.4 480.2 487.1 479.3 486.8 478.4 486.4 477.8 485.9 477.2 485.3 476.7 484.4 476.4 483.8 476.1 482.6 475.9 482.0 475.5 480.8 475.3 480.2 474.8 479.6 474.2 478.8 473.6 478.1 473.0 477.4 472.4 476.7 471.8 476.1 471.2 475.4 470.7 474.8 470.2 474.2 469.7 473.6 469.4 472.9 468.8 472.1 468.2 471.2 467.8 470.6 467.4 470.0 467.0 469.4 466.4 468.6 465.8 467.8 465.2 467.1 464.7 466.4 464.3 465.8 464.0 465.1 463.4 464.1 462.9 463.4 462.3 462.8 461.6 462.2 461.0 461.9 460.4 461.5 459.4 461.0 458.6 460.4 458.0 459.9 457.4 459.2 456.9 458.6 456.4 458.0 455.9 457.4 455.4 456.8 454.5 456.2 454.2 456.2 453.2 456.6 452.6 457.1 452.0 457.6 451.4 458.2 450.8 458.6 450.1 459.2 449.3 459.8 448.4 460.4 447.8 460.8 447.2 461.1 446.3 461.6 445.4 461.9 444.2 462.0 443.6 461.6 442.8 461.0 442.2 460.4 442.1 459.2 442.4 458.4 443.0 457.5 443.4 456.8 443.7 456.2 444.2 455.2 444.6 454.4 444.8 453.8 445.3 452.6 444.8 452.0 443.6 451.6 442.4 451.6 441.2 451.7 440.0 451.9 439.4 452.0 438.2 452.3 437.0 452.6 436.4 452.8 435.2 453.1 434.0 453.0 433.0 452.6 432.2 452.1 431.6 451.7 431.0 451.2 430.4 450.5 429.8 449.9 429.2 449.2 428.7 448.4 428.3 447.8 428.0 447.2 427.5 446.0 427.3 445.4 427.1 444.2 427.1 443.0 427.2 441.8 427.5 441.2 428.0 440.1 428.5 439.4 428.9 438.8 429.4 438.2 429.9 437.6 430.6 437.0 431.4 436.4 432.2 436.0 433.0 435.8 434.0 435.4 434.8 435.2 435.8 434.9 437.0 434.7 438.2 434.7 438.8 434.4 438.9 433.4 438.4 432.8 438.0 432.2 437.6 431.5 437.0 430.6 436.4 430.0 435.8 429.5 435.2 429.0 434.6 428.6 433.9 428.0 433.2 427.4 432.8 426.8 432.2 425.9 431.8 425.0 431.6 423.8 431.6 422.6 432.0 421.4 432.2 420.8 432.8 420.2 433.7 419.6 434.6 419.1 435.8 419.1 437.0 419.1 438.2 419.4 438.8 419.6 439.9 420.2 440.6 420.5 441.2 420.8 442.3 421.4 443.0 421.7 443.6 422.0 444.7 422.6 445.4 423.0 446.0 423.3 446.6 423.8 447.8 424.4 448.4 424.6 449.1 425.0 450.2 425.6 450.8 426.0 451.4 426.5 452.0 427.0 452.6 427.5 453.2 428.2 453.8 428.8 454.4 429.5 455.0 430.1 455.6 430.7 456.2 431.3 456.8 431.8 457.4 432.4 458.0 432.8 459.2 433.3 459.8 433.4 460.4 433.2 461.0 432.8 461.7 432.2 462.4 431.6 463.2 431.0 463.8 430.4 464.4 429.8 464.9 429.2 465.3 428.6 465.8 427.8 466.4 427.0 467.0 426.2 467.6 425.7 467.9 425.0 468.3 424.4 468.5 423.2 468.8 422.2 469.0 421.4 469.4 420.4 470.0 419.6 470.3 419.0 470.8 418.4 471.5 417.8 472.4 417.2 473.0 416.7 473.6 416.1 474.2 415.4 474.6 414.8 475.0 414.2 475.4 413.6 476.0 412.6 476.6 411.9 477.2 411.3 477.8 410.7 478.4 410.1 479.0 409.5 479.4 408.8 480.0 408.2 480.5 407.6 481.0 407.0 481.6 406.4 482.1 405.8 482.7 405.2 483.2 404.6 483.8 403.6 484.4 402.9 485.0 402.3 485.6 401.7 486.2 401.2 486.8 400.6Z"/><path fill="#004dff" d="M487.4 404.5 488.1 404.6 488.8 405.2 489.2 405.9 489.6 407.0 489.8 407.8 490.1 408.8 490.3 410.0 490.5 410.6 490.7 411.8 490.9 413.0 491.0 413.6 491.3 414.8 491.5 416.0 491.6 416.6 491.9 417.8 492.2 418.8 492.5 419.6 492.8 420.5 493.2 421.4 493.5 422.0 494.0 423.2 494.3 423.8 494.6 424.5 495.1 425.6 495.4 426.2 495.8 426.9 496.4 428.0 496.7 428.6 497.0 429.2 497.6 430.1 498.2 430.9 498.7 431.6 499.2 432.2 499.7 432.8 500.2 433.4 500.8 434.0 501.3 434.6 501.8 435.2 502.4 435.9 503.0 436.9 503.4 437.6 503.7 438.2 504.2 439.1 504.6 440.0 504.9 440.6 505.4 441.8 505.6 442.4 506.0 443.5 506.2 444.2 506.2 445.4 506.0 446.1 505.5 447.2 505.2 447.8 504.8 448.4 504.2 449.4 503.8 450.2 503.6 450.8 503.2 452.0 503.0 452.8 502.7 453.8 502.4 455.0 502.3 455.6 502.1 456.8 501.8 457.8 501.5 458.6 501.2 459.4 500.8 460.4 500.6 461.1 500.2 462.2 500.0 462.9 499.7 464.0 499.4 464.6 498.9 465.8 498.6 466.4 498.2 467.2 497.7 468.2 497.4 468.8 497.0 469.5 496.4 470.4 495.9 471.2 495.6 471.8 495.2 472.5 494.6 473.6 494.3 474.2 494.0 474.8 493.4 475.7 492.8 476.5 492.3 477.2 491.9 477.8 491.5 478.4 491.0 479.3 490.4 480.2 490.1 480.8 489.7 481.4 489.2 482.3 488.6 483.2 488.2 483.8 487.8 484.4 487.4 485.0 486.8 485.7 485.7 486.2 485.5 486.2 484.4 486.1 483.2 485.9 482.0 485.8 480.8 485.7 480.2 485.6 479.0 485.1 478.4 484.6 477.8 483.8 477.5 483.2 477.2 482.3 477.0 481.4 476.6 480.3 476.2 479.6 475.8 479.0 475.3 478.4 474.8 477.8 474.2 477.1 473.6 476.3 473.0 475.6 472.4 474.9 471.8 474.3 471.2 473.7 470.7 473.0 470.2 472.4 469.7 471.8 469.3 471.2 468.8 470.5 468.2 469.6 467.7 468.8 467.3 468.2 466.8 467.6 466.4 467.0 465.8 466.1 465.2 465.2 464.9 464.6 464.5 464.0 464.0 463.2 463.4 462.4 462.8 461.8 462.2 461.3 461.6 460.8 460.9 460.4 460.1 459.8 459.4 459.2 458.8 458.6 458.2 458.0 457.6 457.4 457.0 456.8 456.6 456.2 456.2 455.6 455.6 454.7 455.0 454.2 453.8 454.1 453.0 454.4 452.0 454.9 451.4 455.2 450.7 455.6 449.6 456.2 449.0 456.5 447.9 456.8 447.7 456.8 447.0 456.2 446.8 455.0 447.1 453.8 447.3 453.2 447.8 452.0 447.8 451.4 447.3 450.8 446.6 450.5 445.8 450.2 444.8 450.0 443.6 449.9 442.4 449.9 441.2 450.0 440.0 450.2 439.4 450.2 438.2 450.4 437.0 450.6 436.4 450.8 435.2 451.1 434.0 451.0 433.4 450.8 432.5 450.2 431.8 449.6 431.3 449.0 430.8 448.4 430.3 447.8 429.8 446.9 429.4 446.0 429.1 445.4 428.8 444.2 428.7 443.0 428.9 441.8 429.2 441.2 429.8 440.3 430.4 439.6 431.0 438.8 431.6 438.2 432.2 437.7 432.8 437.4 433.9 437.0 434.6 436.7 435.7 436.4 436.4 436.2 437.6 436.2 438.8 436.2 440.0 436.2 441.2 436.2 442.1 435.8 441.9 434.6 441.6 434.0 441.1 433.4 440.6 432.8 439.9 432.2 439.3 431.6 438.8 431.0 438.2 430.2 437.6 429.5 437.0 428.9 436.4 428.4 435.8 427.8 435.2 427.2 434.6 426.6 434.0 426.0 433.5 425.0 433.3 424.4 433.4 423.3 433.6 422.6 434.0 422.0 434.6 421.4 435.8 420.9 437.0 421.0 438.2 421.4 438.8 421.7 439.4 422.1 440.4 422.6 441.2 423.0 441.9 423.2 443.0 423.6 443.6 423.9 444.6 424.4 445.4 424.8 446.0 425.1 446.9 425.6 447.8 426.0 448.4 426.2 449.6 426.8 450.2 427.2 450.8 427.6 451.4 428.1 452.0 428.7 452.6 429.3 453.2 430.0 453.8 430.6 454.4 431.2 455.0 431.8 455.6 432.4 456.2 432.9 456.8 433.5 457.5 434.0 458.3 434.6 459.1 435.2 459.8 435.6 460.4 435.9 461.6 435.9 462.2 435.4 462.8 434.8 463.4 434.1 464.0 433.5 464.6 433.0 465.2 432.5 465.8 431.9 466.4 431.2 467.0 430.4 467.3 429.8 467.7 429.2 468.2 428.4 468.8 427.6 469.4 426.9 469.8 426.2 470.2 425.6 470.6 424.5 470.8 423.8 471.1 422.6 471.3 422.0 471.8 420.8 472.1 420.2 472.7 419.6 473.5 419.0 474.2 418.5 474.8 418.0 475.4 417.4 476.0 416.7 476.6 416.0 477.1 415.4 477.6 414.8 478.1 414.2 478.6 413.6 479.0 413.0 479.6 412.3 480.2 411.7 480.8 411.2 481.4 410.6 482.0 410.0 482.8 409.4 483.5 408.8 484.1 408.2 484.5 407.6 485.0 406.6 485.5 405.8 486.1 405.2 486.8 404.7Z"/><path fill="#006bff" d="M486.8 407.2 487.6 407.6 488.0 408.2 488.4 409.4 488.6 410.1 488.9 411.2 489.1 412.4 489.2 413.0 489.4 414.2 489.6 415.4 489.8 416.3 490.0 417.2 490.2 418.4 490.4 419.4 490.6 420.2 491.0 421.2 491.4 422.0 491.7 422.6 492.2 423.7 492.6 424.4 492.9 425.0 493.4 426.2 493.7 426.8 494.0 427.5 494.6 428.6 494.9 429.2 495.2 429.8 495.8 430.9 496.3 431.6 496.8 432.2 497.3 432.8 497.9 433.4 498.5 434.0 499.0 434.6 499.5 435.2 500.0 435.8 500.6 436.7 501.2 437.6 501.5 438.2 501.8 438.8 502.4 439.9 502.7 440.6 503.0 441.2 503.5 442.4 503.7 443.0 504.0 444.2 503.9 445.4 503.6 446.2 503.0 447.2 502.7 447.8 502.4 448.4 501.9 449.6 501.7 450.2 501.3 451.4 501.1 452.0 500.7 453.2 500.5 453.8 500.1 455.0 499.9 455.6 499.5 456.8 499.3 457.4 499.0 458.6 498.8 459.2 498.4 460.4 498.2 461.3 498.0 462.2 497.7 463.4 497.5 464.0 497.0 465.1 496.7 465.8 496.4 466.4 495.8 467.4 495.3 468.2 495.0 468.8 494.6 469.4 494.0 470.5 493.6 471.2 493.3 471.8 492.8 473.0 492.5 473.6 492.2 474.2 491.6 475.2 491.0 476.0 490.6 476.6 490.2 477.2 489.8 477.8 489.2 479.0 489.0 479.6 488.6 480.5 488.2 481.4 487.9 482.0 487.4 482.8 486.8 483.6 486.2 484.2 485.6 484.6 484.4 484.8 483.2 484.8 482.0 484.9 480.8 484.7 479.9 484.4 479.0 483.8 478.6 483.2 478.2 482.6 477.8 481.5 477.5 480.8 477.2 479.9 476.7 479.0 476.2 478.4 475.7 477.8 475.2 477.2 474.8 476.6 474.2 475.8 473.6 475.1 473.0 474.4 472.4 473.8 471.8 473.2 471.2 472.5 470.6 471.8 470.1 471.2 469.6 470.6 469.1 470.0 468.7 469.4 468.2 468.5 467.6 467.6 467.2 467.0 466.8 466.4 466.4 465.8 465.8 464.9 465.3 464.0 464.9 463.4 464.6 462.8 464.0 462.0 463.4 461.3 462.8 460.8 462.2 460.3 461.5 459.8 460.8 459.2 460.2 458.6 459.6 458.0 458.9 457.4 458.2 456.8 457.6 456.2 457.1 455.6 456.8 455.0 456.2 453.8 455.9 453.2 455.6 452.6 455.0 451.9 453.8 451.8 452.9 451.4 452.6 450.8 452.0 450.1 450.8 449.9 449.6 449.9 448.4 449.8 447.5 449.6 446.6 449.4 445.4 449.1 444.8 449.0 443.6 448.8 442.4 448.8 441.2 448.9 440.0 448.9 438.8 448.9 437.6 449.0 437.0 449.1 435.8 449.4 434.6 449.5 433.4 449.1 432.8 448.6 432.2 448.0 431.6 447.3 431.2 446.6 430.8 446.0 430.4 445.0 430.2 444.2 430.0 443.0 430.3 441.8 430.6 441.2 431.0 440.6 431.6 439.8 432.2 439.2 432.8 438.7 433.6 438.2 434.6 437.8 435.2 437.6 436.4 437.3 437.6 437.2 438.8 437.2 440.0 437.3 441.2 437.4 442.4 437.5 443.6 437.4 444.2 436.7 444.2 436.4 443.7 435.2 443.3 434.6 442.9 434.0 442.4 433.3 441.8 432.6 441.2 432.0 440.6 431.4 440.0 430.8 439.4 430.2 438.8 429.5 438.2 428.8 437.6 428.2 437.0 427.5 436.4 426.8 435.9 426.2 435.5 425.6 435.2 425.0 435.1 423.8 435.4 423.2 436.4 422.7 437.6 422.9 438.4 423.2 439.4 423.6 440.0 423.9 441.2 424.4 441.8 424.6 443.0 425.0 443.6 425.3 444.2 425.6 445.4 426.2 446.0 426.5 446.7 426.8 447.8 427.2 448.4 427.5 449.5 428.0 450.2 428.4 450.8 428.9 451.4 429.4 452.0 430.0 452.6 430.7 453.2 431.4 453.8 432.0 454.4 432.6 455.0 433.1 455.6 433.6 456.2 434.1 456.8 434.6 457.6 435.2 458.4 435.8 459.2 436.4 459.8 436.7 460.4 437.1 461.6 437.1 462.2 436.7 462.8 436.1 463.4 435.5 464.0 434.8 464.6 434.2 465.2 433.7 465.8 433.2 466.4 432.7 467.0 432.1 467.6 431.3 468.2 430.4 468.6 429.8 469.0 429.2 469.5 428.6 470.0 428.0 470.6 427.2 471.2 426.3 471.5 425.6 471.8 424.8 472.1 423.8 472.4 423.1 472.9 422.0 473.2 421.4 473.7 420.8 474.2 420.2 474.8 419.6 475.4 419.0 476.0 418.4 476.6 417.6 477.2 416.9 477.8 416.3 478.4 415.7 479.0 415.1 479.6 414.5 480.2 413.8 480.8 413.0 481.2 412.4 481.7 411.8 482.3 411.2 483.0 410.6 483.8 410.0 484.4 409.5 485.0 409.0 485.6 408.4 486.2 407.7Z"/><path fill="#008aff" d="M485.0 410.3 486.2 410.0 486.9 410.6 487.2 411.8 487.4 412.5 487.6 413.6 487.9 414.8 488.0 415.4 488.2 416.6 488.4 417.8 488.6 419.0 488.8 419.6 489.2 420.8 489.4 421.4 489.8 422.3 490.2 423.2 490.5 423.8 491.0 424.8 491.4 425.6 491.7 426.2 492.2 427.4 492.5 428.0 492.8 428.7 493.4 429.8 493.7 430.4 494.0 431.0 494.6 432.0 495.2 432.8 495.8 433.4 496.4 434.0 496.9 434.6 497.5 435.2 498.0 435.8 498.4 436.4 498.8 437.0 499.4 438.0 499.8 438.8 500.1 439.4 500.6 440.3 501.0 441.2 501.3 441.8 501.8 443.0 501.9 443.6 501.8 444.8 501.6 445.4 501.2 446.3 500.8 447.2 500.6 447.8 500.1 449.0 499.9 449.6 499.4 450.8 499.3 451.4 498.9 452.6 498.7 453.2 498.2 454.4 497.9 455.0 497.6 455.9 497.3 456.8 497.0 457.9 496.8 458.6 496.5 459.8 496.4 460.4 496.0 461.6 495.8 462.4 495.5 463.4 495.2 464.1 494.8 465.2 494.5 465.8 494.0 466.7 493.5 467.6 493.2 468.2 492.8 468.9 492.2 470.0 492.0 470.6 491.6 471.5 491.3 472.4 491.0 473.0 490.4 474.2 490.1 474.8 489.7 475.4 489.2 476.2 488.7 477.2 488.4 477.8 488.1 479.0 488.0 479.6 487.6 480.8 487.3 481.4 486.8 482.3 486.2 483.0 485.6 483.5 485.0 483.8 483.8 484.1 482.6 484.2 481.4 484.1 480.4 483.8 479.6 483.3 479.0 482.6 478.7 482.0 478.4 481.4 477.9 480.2 477.6 479.6 477.2 478.8 476.6 478.0 476.0 477.3 475.4 476.6 475.0 476.0 474.6 475.4 474.1 474.8 473.6 474.2 473.0 473.6 472.4 473.0 471.8 472.3 471.2 471.7 470.6 471.1 470.0 470.4 469.4 469.6 468.9 468.8 468.5 468.2 468.2 467.6 467.6 466.7 467.0 465.8 466.6 465.2 466.2 464.6 465.8 463.9 465.2 462.8 464.8 462.2 464.4 461.6 463.9 461.0 463.2 460.4 462.4 459.8 461.7 459.2 461.1 458.6 460.6 458.0 460.0 457.4 459.3 456.8 458.6 456.2 458.0 455.6 457.5 455.0 457.2 454.4 456.8 453.2 456.7 452.6 456.7 451.4 456.8 450.8 457.0 449.6 456.8 448.5 456.2 448.2 455.0 448.3 454.4 448.4 453.2 448.6 452.0 448.6 450.8 448.7 449.6 448.8 448.4 448.8 447.2 448.7 446.0 448.4 445.4 448.3 444.2 448.0 443.0 447.9 441.8 447.9 440.6 447.9 439.5 447.8 438.8 447.7 437.6 447.7 436.6 447.8 435.8 447.9 434.6 448.0 434.0 447.8 433.2 447.2 432.6 446.6 432.2 446.0 431.6 444.9 431.4 444.2 431.2 443.0 431.6 441.8 431.9 441.2 432.3 440.6 432.8 439.9 433.4 439.4 434.5 438.8 435.2 438.5 436.4 438.2 437.0 438.1 438.2 438.1 439.1 438.2 440.0 438.3 441.2 438.5 442.4 438.6 443.6 438.8 444.2 438.8 445.4 438.9 446.0 438.7 446.1 437.6 445.8 437.0 445.4 436.2 444.8 435.2 444.4 434.6 444.0 434.0 443.6 433.4 443.0 432.6 442.4 431.8 441.8 431.1 441.2 430.5 440.6 429.9 440.0 429.3 439.4 428.7 438.8 428.0 438.4 427.4 438.1 426.8 437.9 425.6 438.8 425.2 440.0 425.4 440.8 425.6 441.8 425.9 442.5 426.2 443.6 426.7 444.2 426.9 445.3 427.4 446.0 427.7 446.7 428.0 447.8 428.4 448.4 428.7 449.5 429.2 450.2 429.6 450.8 430.1 451.4 430.7 452.0 431.3 452.6 432.0 453.2 432.7 453.8 433.3 454.4 433.8 455.0 434.2 455.6 434.7 456.3 435.2 457.1 435.8 458.0 436.4 458.6 436.8 459.2 437.2 459.8 437.6 461.0 438.0 462.2 437.6 462.8 437.0 463.4 436.4 464.0 435.8 464.5 435.2 465.2 434.6 465.8 434.1 466.4 433.6 467.0 433.0 467.6 432.4 468.2 431.7 468.7 431.0 469.2 430.4 469.6 429.8 470.1 429.2 470.7 428.6 471.2 428.0 471.8 427.2 472.3 426.2 472.5 425.6 472.9 424.4 473.1 423.8 473.6 422.7 474.0 422.0 474.4 421.4 474.9 420.8 475.4 420.2 476.0 419.6 476.6 418.8 477.2 418.1 477.8 417.4 478.4 416.7 479.0 416.2 479.6 415.7 480.2 415.1 480.8 414.4 481.3 413.6 481.8 413.0 482.3 412.4 482.8 411.8 483.5 411.2 484.4 410.6Z"/><path fill="#00a8ff" d="M483.8 412.3 485.0 412.2 485.5 413.0 485.7 413.6 486.1 414.8 486.3 415.4 486.5 416.6 486.7 417.8 486.8 418.4 487.1 419.6 487.4 420.5 487.7 421.4 488.0 422.0 488.6 423.2 488.8 423.8 489.2 424.6 489.7 425.6 490.0 426.2 490.4 427.2 490.8 428.0 491.1 428.6 491.6 429.7 491.9 430.4 492.2 431.0 492.8 432.1 493.2 432.8 493.7 433.4 494.2 434.0 494.7 434.6 495.2 435.2 495.8 435.9 496.4 436.6 497.0 437.4 497.5 438.2 497.8 438.8 498.2 439.5 498.8 440.6 499.1 441.2 499.4 442.0 499.7 443.0 499.6 444.2 499.4 444.8 499.0 446.0 498.8 446.6 498.4 447.8 498.2 448.4 497.8 449.6 497.6 450.3 497.2 451.4 497.0 452.0 496.6 453.2 496.4 453.8 495.9 455.0 495.7 455.6 495.3 456.8 495.1 457.4 494.8 458.6 494.6 459.5 494.4 460.4 494.0 461.6 493.8 462.2 493.4 463.4 493.2 464.0 492.8 465.0 492.4 465.8 492.1 466.4 491.6 467.5 491.3 468.2 491.0 468.8 490.5 470.0 490.2 470.6 489.8 471.8 489.6 472.4 489.2 473.3 488.7 474.2 488.4 474.8 488.0 475.6 487.6 476.6 487.4 477.8 487.4 478.6 487.3 479.6 486.9 480.8 486.6 481.4 486.2 482.0 485.6 482.7 484.8 483.2 483.8 483.5 482.6 483.6 481.4 483.5 480.7 483.2 479.8 482.6 479.3 482.0 479.0 481.4 478.4 480.2 478.1 479.6 477.8 479.0 477.2 478.1 476.6 477.3 476.0 476.6 475.6 476.0 475.1 475.4 474.7 474.8 474.2 474.2 473.6 473.5 473.0 472.9 472.4 472.3 471.8 471.7 471.2 471.1 470.6 470.5 470.0 469.7 469.4 468.9 469.0 468.2 468.6 467.6 468.2 466.9 467.6 465.9 467.1 465.2 466.7 464.6 466.4 464.0 465.8 463.0 465.4 462.2 465.0 461.6 464.6 461.0 464.0 460.4 463.3 459.8 462.5 459.2 461.9 458.6 461.3 458.0 460.8 457.4 460.2 456.8 459.5 456.2 458.8 455.6 458.2 455.0 457.8 454.4 457.4 453.2 457.4 452.6 457.4 451.9 457.6 450.8 457.9 449.6 458.0 449.0 458.0 447.8 457.5 447.2 456.8 447.0 455.6 447.1 454.9 447.2 453.8 447.4 452.6 447.6 451.4 447.7 450.5 447.8 449.6 447.9 448.4 448.0 447.2 447.9 446.6 447.8 445.4 447.5 444.2 447.2 443.6 447.1 442.4 446.9 441.2 446.9 440.0 446.8 438.8 446.6 438.2 446.6 437.0 446.5 435.8 446.6 434.6 446.5 433.7 446.0 433.2 445.4 432.8 444.8 432.5 443.6 432.6 442.4 432.8 441.8 433.4 440.8 434.0 440.2 434.6 439.8 435.6 439.4 436.4 439.2 437.6 439.2 438.8 439.3 440.0 439.4 440.6 439.5 441.8 439.6 443.0 439.8 444.2 440.0 444.8 440.1 446.0 440.3 447.2 440.5 448.4 440.0 448.4 440.0 448.1 438.8 447.7 438.2 447.2 437.4 446.6 436.4 446.2 435.8 445.8 435.2 445.4 434.5 444.8 433.5 444.3 432.8 443.9 432.2 443.6 431.6 443.0 430.6 442.5 429.8 442.2 429.2 442.4 428.4 443.6 428.4 444.8 428.6 445.4 428.8 446.5 429.2 447.2 429.5 448.2 429.8 449.0 430.1 449.6 430.5 450.4 431.0 451.0 431.6 451.6 432.2 452.1 432.8 452.7 433.4 453.3 434.0 454.1 434.6 455.0 435.2 455.6 435.6 456.2 436.0 456.8 436.4 457.8 437.0 458.6 437.5 459.2 437.9 459.8 438.3 461.0 438.8 462.2 438.4 462.8 437.9 463.4 437.2 464.0 436.6 464.6 436.0 465.2 435.3 465.8 434.8 466.4 434.3 467.0 433.7 467.6 433.2 468.2 432.6 468.8 431.9 469.4 431.2 470.0 430.5 470.6 429.9 471.2 429.3 471.8 428.7 472.4 428.0 472.8 427.4 473.0 426.8 473.3 425.6 473.6 424.6 473.9 423.8 474.2 423.2 474.8 422.1 475.3 421.4 475.8 420.8 476.3 420.2 476.8 419.6 477.3 419.0 477.8 418.4 478.4 417.7 479.0 417.1 479.6 416.6 480.3 416.0 480.9 415.4 481.4 414.8 482.0 414.0 482.6 413.3 483.2 412.7Z"/><path fill="#00c6ff" d="M482.6 415.2 483.8 415.1 484.3 416.0 484.5 416.6 484.8 417.8 485.0 418.7 485.2 419.6 485.6 420.7 485.9 421.4 486.2 422.2 486.7 423.2 486.9 423.8 487.4 424.7 487.9 425.6 488.2 426.2 488.6 427.1 489.0 428.0 489.3 428.6 489.8 429.8 490.0 430.4 490.4 431.3 490.8 432.2 491.2 432.8 491.6 433.5 492.2 434.3 492.8 435.0 493.4 435.8 493.9 436.4 494.3 437.0 494.7 437.6 495.2 438.4 495.8 439.3 496.2 440.0 496.6 440.6 497.0 441.4 497.3 442.4 497.2 443.6 497.0 444.4 496.7 445.4 496.5 446.6 496.3 447.2 496.1 448.4 495.8 449.3 495.5 450.2 495.2 451.1 494.9 452.0 494.6 453.0 494.3 453.8 494.0 454.7 493.7 455.6 493.4 456.3 493.1 457.4 492.8 458.3 492.5 459.2 492.2 460.2 491.9 461.0 491.6 462.0 491.4 462.8 491.0 463.9 490.7 464.6 490.4 465.4 490.0 466.4 489.7 467.0 489.2 468.2 489.0 468.8 488.6 469.6 488.2 470.6 488.0 471.2 487.6 472.4 487.4 473.0 486.9 474.2 486.7 474.8 486.5 476.0 486.6 477.2 486.7 478.4 486.7 479.6 486.3 480.8 486.0 481.4 485.5 482.0 484.7 482.6 483.8 483.0 482.6 483.1 481.4 482.9 480.7 482.6 480.0 482.0 479.5 481.4 479.0 480.4 478.6 479.6 478.3 479.0 477.8 478.2 477.2 477.5 476.6 476.7 476.1 476.0 475.6 475.4 475.2 474.8 474.7 474.2 474.2 473.5 473.6 472.9 473.0 472.3 472.4 471.7 471.8 471.1 471.2 470.6 470.6 469.9 470.0 469.1 469.4 468.2 469.1 467.6 468.7 467.0 468.2 466.1 467.6 465.2 467.2 464.6 466.9 464.0 466.4 463.2 465.9 462.2 465.5 461.6 465.1 461.0 464.6 460.3 464.0 459.8 463.3 459.2 462.6 458.6 462.0 458.0 461.4 457.4 460.9 456.8 460.3 456.2 459.5 455.6 458.9 455.0 458.5 454.4 458.0 453.2 457.9 452.6 458.0 451.7 458.2 450.8 458.4 449.6 458.6 449.0 458.8 447.8 458.6 446.8 458.0 446.4 456.8 446.0 455.6 446.1 454.4 446.3 453.2 446.6 452.6 446.6 451.4 446.7 450.2 446.9 449.0 447.0 447.8 447.0 446.6 446.8 445.6 446.6 444.8 446.4 443.6 446.1 443.0 445.9 441.8 445.8 440.6 445.7 439.4 445.5 438.8 445.4 437.6 445.3 436.4 445.2 435.2 445.1 434.6 444.8 434.0 444.0 433.8 443.0 434.0 442.2 434.6 441.2 435.2 440.8 435.8 440.5 437.0 440.4 438.2 440.5 439.3 440.6 440.0 440.7 441.2 440.8 442.4 441.0 443.6 441.2 444.2 441.3 445.4 441.5 446.6 441.7 447.2 441.9 448.4 442.2 449.2 442.4 450.2 442.5 450.8 442.2 450.8 441.2 450.4 440.6 450.0 440.0 449.6 439.4 449.0 438.6 448.4 437.7 448.0 437.0 447.6 436.4 447.2 435.8 446.6 434.6 446.3 434.0 446.0 433.4 445.5 432.2 445.3 431.6 445.5 431.0 446.6 430.8 447.4 431.0 448.4 431.3 449.1 431.6 450.2 432.2 450.8 432.7 451.4 433.4 452.0 434.0 452.6 434.5 453.2 435.0 453.8 435.4 454.6 435.8 455.6 436.4 456.2 436.8 456.8 437.1 457.6 437.6 458.6 438.2 459.2 438.6 459.8 439.0 460.7 439.4 461.6 439.4 462.2 439.1 462.8 438.6 463.4 438.0 464.0 437.4 464.6 436.8 465.2 436.1 465.8 435.5 466.4 435.0 467.0 434.4 467.6 433.9 468.2 433.3 468.8 432.7 469.4 432.1 470.0 431.4 470.6 430.9 471.2 430.3 471.8 429.8 472.4 429.2 473.0 428.6 473.6 427.6 473.9 426.8 474.1 425.6 474.2 425.0 474.6 423.8 474.9 423.2 475.4 422.4 476.0 421.6 476.6 420.9 477.2 420.2 477.7 419.6 478.1 419.0 478.6 418.4 479.2 417.8 479.9 417.2 480.8 416.6 481.4 416.2 482.0 415.7Z"/><path fill="#04d8f7" d="M480.2 418.2 481.4 417.8 482.2 418.4 482.6 419.2 483.0 420.2 483.2 420.8 483.8 422.0 484.1 422.6 484.4 423.3 484.9 424.4 485.3 425.0 485.6 425.6 486.2 426.6 486.6 427.4 486.9 428.0 487.4 429.0 487.7 429.8 488.0 430.7 488.3 431.6 488.6 432.2 489.1 433.4 489.5 434.0 489.9 434.6 490.4 435.4 491.0 436.2 491.5 437.0 491.9 437.6 492.2 438.2 492.8 439.2 493.2 440.0 493.6 440.6 494.0 441.3 494.5 442.4 494.6 443.6 494.4 444.8 494.1 446.0 493.9 446.6 493.6 447.8 493.4 448.4 493.1 449.6 492.8 450.5 492.5 451.4 492.2 452.2 491.8 453.2 491.6 453.8 491.1 455.0 490.9 455.6 490.5 456.8 490.3 457.4 489.8 458.4 489.5 459.2 489.2 459.9 488.9 461.0 488.6 462.1 488.3 462.8 488.0 463.7 487.6 464.6 487.4 465.2 486.9 466.4 486.7 467.0 486.4 468.2 486.2 468.8 485.8 470.0 485.6 470.6 485.2 471.8 485.0 473.0 484.9 473.6 484.9 474.8 485.0 475.4 485.5 476.6 485.8 477.2 486.1 478.4 486.2 479.6 485.8 480.8 485.4 481.4 484.7 482.0 483.8 482.4 482.6 482.6 481.4 482.4 480.8 482.0 480.1 481.4 479.6 480.6 479.0 479.6 478.7 479.0 478.4 478.4 477.8 477.6 477.2 476.9 476.6 476.1 476.1 475.4 475.6 474.8 475.2 474.2 474.7 473.6 474.2 473.0 473.6 472.3 473.0 471.7 472.4 471.2 471.8 470.6 471.2 470.0 470.6 469.4 470.0 468.5 469.4 467.6 469.1 467.0 468.8 466.4 468.2 465.4 467.7 464.6 467.3 464.0 467.0 463.4 466.4 462.4 466.0 461.6 465.6 461.0 465.2 460.4 464.6 459.7 463.9 459.2 463.2 458.6 462.6 458.0 462.0 457.4 461.5 456.8 460.9 456.2 460.2 455.6 459.6 455.0 459.1 454.4 458.6 453.5 458.4 452.6 458.5 451.4 458.7 450.8 458.9 449.6 459.2 448.7 459.5 447.8 459.5 446.6 459.0 446.0 458.0 445.5 457.4 445.3 456.2 444.9 455.0 444.9 453.8 444.9 452.8 444.8 453.2 443.6 453.3 443.0 453.1 442.4 452.6 441.6 452.0 440.9 451.4 440.2 450.8 439.5 450.2 438.8 449.8 438.2 449.4 437.6 449.0 437.0 448.4 435.8 448.2 435.2 448.0 434.0 448.5 433.4 449.2 433.4 450.2 433.8 450.8 434.3 451.4 434.8 452.0 435.3 452.8 435.8 453.8 436.3 454.4 436.6 455.1 437.0 456.2 437.6 456.8 437.9 457.4 438.2 458.4 438.8 459.2 439.3 459.8 439.7 460.4 440.0 461.6 440.2 462.2 439.9 462.8 439.4 463.4 438.8 464.0 438.2 464.6 437.6 465.2 437.0 465.8 436.3 466.4 435.7 467.0 435.1 467.6 434.6 468.3 434.0 468.9 433.4 469.5 432.8 470.1 432.2 470.8 431.6 471.5 431.0 472.2 430.4 472.9 429.8 473.4 429.2 473.9 428.6 474.3 428.0 474.6 426.8 474.8 425.6 474.9 425.0 475.4 423.8 475.7 423.2 476.0 422.6 476.6 421.9 477.2 421.2 477.8 420.5 478.4 419.8 479.0 419.1 479.6 418.6ZM437.6 442.7 438.2 442.8 438.8 442.8 439.4 442.9 440.0 443.0 440.0 443.0 440.0 443.0 439.4 443.1 438.8 443.1 438.2 443.1 437.6 443.1 437.3 443.0ZM444.8 443.6 444.9 443.6 445.4 443.7 446.0 444.0 446.6 444.2 446.6 444.2 447.2 444.7 447.5 444.8 447.2 444.8 446.6 444.9 446.0 444.8 445.7 444.8 445.4 444.7 444.8 444.4 444.2 444.2 444.5 443.6Z"/><path fill="#08e9ee" d="M479.0 420.6 480.2 420.2 480.8 420.9 481.3 422.0 481.6 422.6 482.0 423.7 482.3 424.4 482.6 425.2 483.1 426.2 483.4 426.8 483.8 427.5 484.4 428.6 484.6 429.2 485.0 429.9 485.5 431.0 485.8 431.6 486.2 432.5 486.5 433.4 486.8 434.2 487.2 435.2 487.7 435.8 488.2 436.4 488.8 437.0 489.3 437.6 489.8 438.3 490.4 439.3 490.8 440.0 491.0 440.6 491.6 441.8 491.8 442.4 492.2 443.6 492.2 444.2 492.2 444.8 491.8 446.0 491.6 446.6 491.1 447.8 490.9 448.4 490.4 449.5 490.1 450.2 489.8 450.9 489.3 452.0 489.0 452.6 488.6 453.5 488.1 454.4 487.8 455.0 487.4 455.9 487.1 456.8 486.8 457.6 486.3 458.6 486.0 459.2 485.6 460.1 485.2 461.0 485.0 461.6 484.7 462.8 484.5 464.0 484.4 464.7 484.2 465.8 483.9 467.0 483.8 467.6 483.6 468.8 483.3 470.0 483.2 470.8 483.1 471.8 483.2 473.0 483.3 473.6 483.7 474.8 484.0 475.4 484.4 476.1 485.0 477.1 485.4 477.8 485.6 478.6 485.6 479.6 485.5 480.2 485.0 481.0 484.4 481.6 483.5 482.0 482.6 482.1 481.9 482.0 480.8 481.4 480.2 480.8 479.8 480.2 479.5 479.6 479.0 478.8 478.4 477.8 477.9 477.2 477.4 476.6 477.0 476.0 476.5 475.4 476.0 474.7 475.4 473.9 474.8 473.1 474.2 472.4 473.6 471.8 473.0 471.2 472.4 470.7 471.8 470.2 471.2 469.6 470.6 468.8 470.2 468.2 469.8 467.6 469.4 466.8 468.8 465.8 468.5 465.2 468.1 464.6 467.6 463.7 467.1 462.8 466.7 462.2 466.4 461.5 465.8 460.5 465.2 459.8 464.6 459.2 464.0 458.7 463.4 458.2 462.8 457.6 462.2 457.0 461.6 456.3 461.0 455.7 460.4 455.2 459.8 454.6 459.3 453.8 459.0 453.2 458.9 452.0 459.1 450.8 459.2 450.2 459.6 449.0 459.8 448.4 460.3 447.2 460.2 446.0 459.4 445.4 458.6 445.0 458.0 444.7 457.2 444.2 456.2 443.6 455.6 443.2 455.0 442.7 454.4 442.1 453.8 441.4 453.2 440.8 452.6 440.1 452.0 439.4 451.5 438.8 451.1 438.2 450.8 437.6 450.8 436.8 452.0 436.8 452.6 437.0 453.8 437.4 454.4 437.6 455.6 438.2 456.2 438.4 457.0 438.8 458.0 439.3 458.6 439.7 459.2 440.1 460.0 440.6 461.0 441.0 462.2 440.7 462.8 440.3 463.4 439.7 464.0 439.1 464.6 438.5 465.2 437.9 465.8 437.2 466.4 436.6 467.0 436.0 467.6 435.4 468.2 434.8 468.8 434.3 469.4 433.7 470.0 433.1 470.6 432.6 471.2 432.1 471.9 431.6 472.6 431.0 473.3 430.4 473.9 429.8 474.4 429.2 474.8 428.6 475.3 427.4 475.4 426.8 475.6 425.6 475.9 424.4 476.2 423.8 476.6 423.0 477.2 422.3 477.8 421.6 478.4 421.1Z"/><path fill="#0deed2" d="M477.8 423.2 479.0 422.9 479.5 423.8 479.6 424.4 479.8 425.6 479.9 426.8 480.0 428.0 480.1 429.2 480.2 430.0 480.4 431.0 480.5 432.2 480.6 433.4 480.5 434.6 480.6 435.8 480.8 436.4 481.5 437.0 482.6 437.2 483.8 437.5 484.4 437.7 485.6 438.2 486.2 438.4 486.9 438.8 487.8 439.4 488.5 440.0 488.9 440.6 489.2 441.2 489.7 442.4 489.9 443.0 490.0 444.2 489.9 445.4 489.7 446.0 489.2 447.0 488.6 447.8 488.1 448.4 487.4 449.0 486.8 449.4 486.2 449.8 485.3 450.2 484.4 450.5 483.2 450.7 482.0 450.7 480.8 450.5 479.6 450.5 479.1 451.4 478.9 452.0 478.8 453.2 479.0 454.0 479.4 455.0 479.6 456.2 479.5 457.4 479.6 458.1 479.8 459.2 479.9 460.4 479.9 461.6 480.0 462.8 480.1 464.0 480.3 464.6 480.5 465.8 480.7 467.0 480.8 468.0 480.9 468.8 481.2 470.0 481.4 470.8 481.7 471.8 482.0 472.5 482.4 473.6 482.6 474.2 483.2 475.3 483.6 476.0 484.0 476.6 484.4 477.2 485.0 478.4 485.1 479.0 485.0 479.9 484.5 480.8 483.8 481.3 483.2 481.5 482.0 481.5 481.4 481.3 480.8 480.8 480.2 480.0 479.6 479.0 479.2 478.4 478.8 477.8 478.4 477.2 477.8 476.5 477.2 475.7 476.6 474.9 476.1 474.2 475.6 473.6 475.1 473.0 474.6 472.4 474.1 471.8 473.5 471.2 472.8 470.6 472.2 470.0 471.5 469.4 471.0 468.8 470.6 468.2 470.0 467.2 469.6 466.4 469.3 465.8 468.8 465.0 468.2 464.0 467.8 463.4 467.5 462.8 467.0 461.9 466.5 461.0 466.2 460.4 465.7 459.8 465.2 459.2 464.5 458.6 463.8 458.0 463.1 457.4 462.6 456.8 462.0 456.2 461.5 455.6 460.8 455.0 460.2 454.4 459.8 453.8 459.4 452.6 459.4 451.4 459.6 450.2 459.8 449.6 460.3 448.4 460.6 447.8 461.0 447.2 461.4 446.0 461.0 445.3 460.1 444.8 459.2 444.4 458.6 444.1 457.9 443.6 457.2 443.0 456.5 442.4 455.8 441.8 455.2 441.2 454.7 440.6 454.3 440.0 454.4 439.3 455.6 439.4 456.2 439.6 457.3 440.0 458.0 440.4 458.6 440.7 459.4 441.2 460.4 441.7 461.0 441.9 461.9 441.8 462.8 441.4 463.4 440.9 464.0 440.4 464.6 439.7 465.2 439.1 465.8 438.5 466.4 437.8 467.0 437.1 467.6 436.5 468.2 435.9 468.8 435.3 469.4 434.8 470.0 434.2 470.6 433.6 471.2 433.2 471.8 432.7 472.6 432.2 473.4 431.6 474.0 431.0 474.6 430.4 475.1 429.8 475.6 429.2 476.0 428.4 476.3 427.4 476.5 426.2 476.6 425.3 476.9 424.4 477.2 423.8Z"/><path fill="#12eca7" d="M482.6 440.5 483.8 440.3 485.0 440.3 485.9 440.6 486.8 441.1 487.4 441.7 487.8 442.4 488.1 443.0 488.2 444.2 488.0 445.0 487.5 446.0 487.0 446.6 486.3 447.2 485.6 447.6 484.8 447.8 483.8 447.9 483.2 447.7 482.1 447.2 481.5 446.6 481.0 446.0 480.6 445.4 480.2 444.2 480.1 443.6 480.2 442.8 480.7 441.8 481.3 441.2 482.0 440.7ZM463.4 446.5 464.4 446.6 465.2 446.8 465.8 447.2 466.4 447.8 467.0 448.5 467.6 449.3 468.2 450.2 468.6 450.8 469.0 451.4 469.4 452.1 470.0 452.9 470.6 453.8 471.1 454.4 471.6 455.0 472.0 455.6 472.4 456.4 472.9 457.4 473.2 458.0 473.6 459.2 473.8 459.8 474.2 460.9 474.6 461.6 474.8 462.2 475.4 463.4 475.8 464.0 476.1 464.6 476.6 465.4 477.2 466.2 477.8 467.0 478.2 467.6 478.6 468.2 479.0 468.8 479.6 469.7 480.1 470.6 480.5 471.2 480.8 471.8 481.4 473.0 481.7 473.6 482.0 474.2 482.6 475.4 483.0 476.0 483.3 476.6 483.8 477.3 484.4 478.4 484.6 479.0 484.4 479.9 483.8 480.7 483.2 481.0 482.0 481.0 481.4 480.7 480.8 480.1 480.2 479.3 479.7 478.4 479.3 477.8 478.8 477.2 478.4 476.6 477.8 475.9 477.2 475.1 476.6 474.3 476.1 473.6 475.6 473.0 475.1 472.4 474.6 471.8 474.0 471.2 473.4 470.6 472.7 470.0 472.0 469.4 471.4 468.8 471.0 468.2 470.6 467.6 470.0 466.5 469.7 465.8 469.3 465.2 468.8 464.3 468.3 463.4 467.9 462.8 467.6 462.2 467.0 461.0 466.6 460.4 466.2 459.8 465.7 459.2 465.1 458.6 464.4 458.0 463.7 457.4 463.1 456.8 462.6 456.2 462.0 455.6 461.4 455.0 460.8 454.4 460.3 453.8 459.9 452.6 459.8 451.4 460.1 450.2 460.4 449.2 460.8 448.4 461.3 447.8 462.0 447.2 462.8 446.7Z"/><path fill="#14e67a" d="M484.4 443.0 484.9 443.0 485.0 443.0 485.6 443.6 485.6 443.6 485.7 444.2 485.6 444.4 485.3 444.8 485.0 445.0 484.4 445.1 483.8 444.8 483.8 444.8 483.4 444.2 483.5 443.6 483.8 443.2 484.2 443.0ZM462.8 447.7 463.9 447.8 464.6 448.0 465.2 448.4 465.9 449.0 466.4 449.6 467.0 450.4 467.6 451.4 468.0 452.0 468.3 452.6 468.8 453.4 469.4 454.4 469.8 455.0 470.3 455.6 470.7 456.2 471.2 457.0 471.8 458.0 472.1 458.6 472.4 459.4 472.8 460.4 473.1 461.0 473.6 462.2 473.8 462.8 474.2 463.6 474.8 464.6 475.1 465.2 475.5 465.8 476.0 466.5 476.6 467.2 477.2 468.0 477.8 468.8 478.3 469.4 478.8 470.0 479.2 470.6 479.6 471.2 480.2 472.0 480.7 473.0 481.0 473.6 481.4 474.3 482.0 475.4 482.3 476.0 482.7 476.6 483.2 477.4 483.8 478.4 483.9 479.0 483.8 479.6 483.2 480.3 482.0 480.3 481.4 480.0 480.8 479.3 480.2 478.4 479.8 477.8 479.4 477.2 478.9 476.6 478.4 476.0 477.8 475.2 477.2 474.4 476.6 473.7 476.1 473.0 475.6 472.4 475.1 471.8 474.6 471.2 474.0 470.6 473.3 470.0 472.6 469.4 471.9 468.8 471.4 468.2 471.0 467.6 470.6 466.9 470.1 465.8 469.8 465.2 469.4 464.5 468.8 463.5 468.4 462.8 468.1 462.2 467.6 461.3 467.1 460.4 466.7 459.8 466.2 459.2 465.7 458.6 465.0 458.0 464.3 457.4 463.7 456.8 463.1 456.2 462.6 455.6 462.0 455.0 461.4 454.4 460.9 453.8 460.4 452.9 460.2 452.0 460.3 450.8 460.5 450.2 461.0 449.0 461.4 448.4 462.2 447.9Z"/><path fill="#14dd4b" d="M462.8 448.3 463.5 448.4 464.6 448.8 465.2 449.3 465.8 449.9 466.4 450.7 466.9 451.4 467.2 452.0 467.6 452.7 468.2 453.7 468.6 454.4 469.0 455.0 469.5 455.6 470.0 456.4 470.6 457.3 471.0 458.0 471.3 458.6 471.8 459.6 472.1 460.4 472.4 461.1 472.8 462.2 473.1 462.8 473.6 463.9 474.0 464.6 474.3 465.2 474.8 466.0 475.4 466.9 476.0 467.6 476.4 468.2 476.9 468.8 477.4 469.4 477.9 470.0 478.4 470.7 479.0 471.4 479.6 472.3 480.0 473.0 480.4 473.6 480.8 474.4 481.3 475.4 481.6 476.0 482.0 476.7 482.6 477.7 482.9 478.4 482.6 479.5 481.4 479.0 480.9 478.4 480.5 477.8 480.1 477.2 479.6 476.6 479.0 475.9 478.4 475.2 477.8 474.4 477.2 473.7 476.7 473.0 476.2 472.4 475.7 471.8 475.2 471.2 474.6 470.6 474.0 470.0 473.3 469.4 472.6 468.8 472.0 468.2 471.5 467.6 471.1 467.0 470.6 465.9 470.3 465.2 469.9 464.6 469.4 463.7 468.9 462.8 468.6 462.2 468.2 461.5 467.6 460.5 467.2 459.8 466.7 459.2 466.2 458.6 465.6 458.0 464.9 457.4 464.3 456.8 463.7 456.2 463.1 455.6 462.5 455.0 461.9 454.4 461.4 453.8 461.0 453.2 460.7 452.0 460.8 450.8 461.0 449.9 461.5 449.0 462.2 448.5Z"/><path fill="#1bd925" d="M462.8 448.9 463.5 449.0 464.6 449.5 465.2 450.1 465.8 450.8 466.2 451.4 466.6 452.0 467.0 452.7 467.6 453.7 468.0 454.4 468.4 455.0 468.8 455.6 469.4 456.5 470.0 457.4 470.4 458.0 470.7 458.6 471.2 459.7 471.5 460.4 471.8 461.2 472.2 462.2 472.4 462.8 473.0 464.0 473.2 464.6 473.6 465.2 474.2 466.3 474.7 467.0 475.1 467.6 475.5 468.2 476.0 468.9 476.6 469.7 477.2 470.5 477.8 471.2 478.2 471.8 478.6 472.4 479.0 473.0 479.6 474.2 479.6 474.8 479.5 474.8 478.7 474.2 478.1 473.6 477.6 473.0 477.1 472.4 476.6 471.8 476.0 471.2 475.4 470.5 474.8 469.9 474.2 469.4 473.4 468.8 472.7 468.2 472.1 467.6 471.7 467.0 471.2 466.0 470.8 465.2 470.5 464.6 470.0 463.7 469.5 462.8 469.1 462.2 468.8 461.6 468.2 460.6 467.7 459.8 467.3 459.2 466.8 458.6 466.2 458.0 465.6 457.4 464.9 456.8 464.3 456.2 463.7 455.6 463.1 455.0 462.5 454.4 462.0 453.8 461.6 453.2 461.2 452.0 461.2 450.8 461.6 449.8 462.2 449.2Z"/><path fill="#35e01a" d="M462.8 449.6 463.4 449.6 464.5 450.2 465.1 450.8 465.6 451.4 466.0 452.0 466.4 452.7 467.0 453.8 467.3 454.4 467.7 455.0 468.2 455.8 468.8 456.7 469.3 457.4 469.6 458.0 470.0 458.6 470.5 459.8 470.8 460.4 471.2 461.6 471.3 462.2 471.6 463.4 471.9 464.0 471.8 465.0 471.2 464.0 470.9 463.4 470.4 462.8 470.0 462.2 469.4 461.3 468.8 460.4 468.4 459.8 468.0 459.2 467.5 458.6 467.0 458.0 466.4 457.4 465.7 456.8 465.1 456.2 464.5 455.6 463.9 455.0 463.2 454.4 462.6 453.8 462.2 453.2 461.7 452.0 461.8 450.8 462.2 450.0ZM472.4 465.2 472.4 465.2 472.6 465.8 472.4 466.3 472.2 465.8 472.2 465.2ZM473.0 466.3 473.0 466.4 473.0 467.0 473.0 467.0 473.0 467.0 472.5 466.4Z"/><path fill="#50e80f" d="M462.8 450.5 464.0 450.6 464.6 451.2 465.2 452.0 465.6 452.6 465.9 453.2 466.4 454.2 466.8 455.0 467.1 455.6 467.0 456.7 466.3 456.2 465.6 455.6 464.9 455.0 464.2 454.4 463.5 453.8 462.9 453.2 462.5 452.6 462.3 451.4Z"/></g>
</g>
<g clip-path="url(#hc3)" fill="none" stroke="#06323e" stroke-linecap="round" filter="url(#bblur)"><line x1="459.5" y1="445.4" x2="439.7" y2="428.3" stroke-width="2.0" stroke-opacity="0.5"/><line x1="459.6" y1="454.7" x2="479.7" y2="482.5" stroke-width="2.2" stroke-opacity="0.5"/></g>
<linearGradient id="bg3" x1="0" x2="1" y1="0" y2="0"><stop offset="0" stop-color="#4a8a00"/><stop offset="0.12" stop-color="#b0b000"/><stop offset="0.25" stop-color="#e07000"/><stop offset="0.4" stop-color="#e01400"/><stop offset="0.62" stop-color="#e02400"/><stop offset="0.78" stop-color="#d8a000"/><stop offset="0.9" stop-color="#70b000"/><stop offset="1" stop-color="#168a16"/></linearGradient>
<g transform="rotate(0 460.30 444.30)">
<rect x="432.40" y="437.80" width="55.80" height="13.00" rx="6.50" fill="#0c5a10" opacity="0.55" filter="url(#bblur)"/>
<rect x="433.60" y="439.40" width="53.40" height="9.80" rx="4.90" fill="#123a0c" opacity="0.88" filter="url(#bblur)"/>
<rect x="435.20" y="441.20" width="50.00" height="6.2" rx="3.1" fill="#6c9a10" opacity="0.8" filter="url(#bblur)"/>
<rect x="436.10" y="442.90" width="47.90" height="2.8" rx="1.4" fill="url(#bg3)" filter="url(#cblur)"/>
</g>
<text class="se" x="476.50" y="393.80" font-size="10.6" font-weight="normal" font-style="normal" text-anchor="middle" fill="#000" >Blastocyst/Morula</text>
<text class="se" transform="translate(400.40,443.90) rotate(-90)" font-size="9.4" font-weight="bold" text-anchor="middle"><tspan font-style="italic">ln</tspan>(c(Blastocyst)/c(Morula))</text>
<text class="se" x="498.80" y="524.90" font-size="9.6" font-weight="bold" font-style="italic" text-anchor="start" fill="#000" >ln(nrmsf)</text>
</svg></body></html>
